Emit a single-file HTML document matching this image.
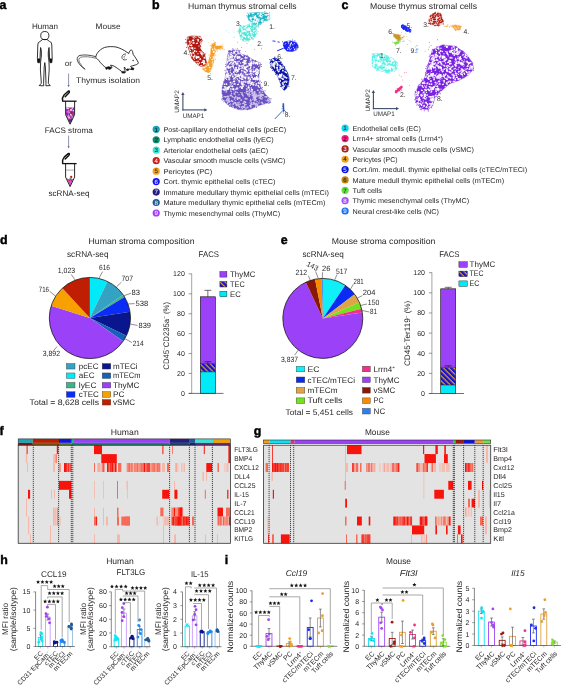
<!DOCTYPE html>
<html><head><meta charset="utf-8"><style>
html,body{margin:0;padding:0;background:#fff;width:561px;height:685px;overflow:hidden}
svg{display:block;font-family:"Liberation Sans",sans-serif;text-rendering:geometricPrecision;will-change:transform}
</style></head><body>
<svg width="561" height="685" viewBox="0 0 561 685" fill="#231f20">
<text x="-0.5" y="8.7" font-size="12.4" font-weight="bold" fill="#000" stroke="#000" stroke-width="0.45">a</text>
<text x="32" y="29.2" font-size="8" textLength="26" lengthAdjust="spacingAndGlyphs" >Human</text>
<text x="95.6" y="29.2" font-size="8" textLength="25" lengthAdjust="spacingAndGlyphs" >Mouse</text>
<text x="64.8" y="65.6" font-size="8" textLength="7.2" lengthAdjust="spacingAndGlyphs" >or</text>
<text x="76" y="82.6" font-size="8" textLength="64" lengthAdjust="spacingAndGlyphs" >Thymus isolation</text>
<text x="44.8" y="132.9" font-size="8" textLength="48" lengthAdjust="spacingAndGlyphs" >FACS stroma</text>
<text x="48.5" y="196.1" font-size="8" textLength="41" lengthAdjust="spacingAndGlyphs" >scRNA-seq</text>
<circle cx="44.8" cy="35.6" r="4.1" fill="none" stroke="#111" stroke-width="0.85"/>
<polygon points="42.6,39.5 40,41.5 38.3,42.6 37.8,45 37.6,52 37.4,58.5 37.8,62.6 39.4,62.8 40,60 40.2,53 40.6,47.5 41.3,52 41.2,57 40.6,62 40.4,70 41,78 41.3,83.3 39.2,85.6 43.7,85.8 43.6,83.3 43.9,75 44.2,67 44.8,62.6 45.4,67 45.7,75 46,83.3 45.9,85.8 50.2,85.6 48.3,83.3 48.6,78 49.2,70 49,62 48.4,57 48.3,52 49,47.5 49.4,53 49.6,60 50.2,62.8 51.8,62.6 52.2,58.5 52,52 51.8,45 51.3,42.6 49.6,41.5 47,39.5" fill="none" stroke="#111" stroke-width="0.85" stroke-linejoin="round"/>
<path d="M37.4 58.6 L37.8 62.6 L39.4 62.8 L40.0 60 L40.0 58.6 Z" fill="#111" stroke="none" stroke-width="0.6" />
<path d="M52.2 58.6 L51.8 62.6 L50.2 62.8 L49.6 60 L49.6 58.6 Z" fill="#111" stroke="none" stroke-width="0.6" />
<line x1="41" y1="48.5" x2="41.3" y2="56.5" stroke="#333" stroke-width="0.6" />
<line x1="48.6" y1="48.5" x2="48.3" y2="56.5" stroke="#333" stroke-width="0.6" />
<path d="M95.7 57.4 C96 54.5 98.5 50 104.4 47.5 C108 46.3 113.2 46.5 116 47 C119.5 47.8 123.5 49.8 127.0 52.3 L128.8 53.6 C129.2 51.5 130.2 50.2 131.3 49.8 C132.3 50.5 133.0 52.5 133.1 54.3 C135 57 137.2 60 138.3 62.6 C138.5 63.6 137.2 64.4 135.6 64.9 C133.5 65.5 131.8 66 130.6 66.4 L131.5 67.7 L133.8 68.4 L133.3 69.7 L130.8 69.4 L128.4 69.0 L128.2 70.4 L126.3 70.0 C125.5 68.8 124.8 67.5 124.4 67.0 C124.0 68.5 124.5 70.5 125.7 71.4 L125.0 72.8 L122.2 72.9 L121.8 71.5 C119 69.5 116 67.3 114.4 66.3 C112.5 65.5 111 65.2 110.5 65.2 L111.8 67.5 L110.2 69.2 L107.6 68.6 L106.2 69.3 L105.8 67.5 C104 66.5 101 63.5 98.8 60.5 C97.8 59.3 96.6 58.3 95.7 57.4 Z" fill="none" stroke="#111" stroke-width="0.85" stroke-linejoin="round"/>
<path d="M95.7 56.7 C90 54.8 84 54.6 80 55.4 C77 56.2 76.5 59 78 62 C79.5 65 82.5 67.5 85.1 69.3" fill="none" stroke="#111" stroke-width="0.75" />
<path d="M95.8 58.3 C90 56.5 84.5 56.4 80.7 57.2 C78.5 58 78.4 60.2 79.6 62.6 C81 65.2 83 67.4 85.1 69.3" fill="none" stroke="#111" stroke-width="0.55" />
<path d="M126.0 54.0 C122.8 53.8 121.3 56.4 122.2 58.5 C123.0 60.0 125.0 60.3 126.8 59.4" fill="none" stroke="#111" stroke-width="0.7" />
<path d="M125.6 55.6 C124.0 55.8 123.6 57.4 124.4 58.4" fill="none" stroke="#111" stroke-width="0.5" />
<circle cx="133.1" cy="60.5" r="0.65" fill="#111"/>
<path d="M131.5 67.7 L133.8 68.4 L133.3 69.7 L130.8 69.4 Z" fill="#111" stroke="#111" stroke-width="0.4" />
<path d="M128.4 69.0 L128.2 70.4 L126.3 70.0 L127.2 68.8 Z" fill="#111" stroke="#111" stroke-width="0.4" />
<path d="M125.0 72.8 L122.2 72.9 L121.8 71.5 L124.6 71.2 Z" fill="#111" stroke="#111" stroke-width="0.4" />
<path d="M111.8 67.5 L110.2 69.2 L107.6 68.6 L106.2 69.3 L105.8 67.5 L108.5 66.6 Z" fill="#111" stroke="#111" stroke-width="0.4" />
<line x1="68.6" y1="73.5" x2="68.6" y2="85.7" stroke="#5b6b8c" stroke-width="0.7" />
<polygon points="67.5,85 69.7,85 68.6,87.2" fill="#5b6b8c" stroke="none" stroke-width="0" />
<line x1="68.6" y1="135.5" x2="68.6" y2="147" stroke="#5b6b8c" stroke-width="0.7" />
<polygon points="67.5,146.3 69.7,146.3 68.6,148.5" fill="#5b6b8c" stroke="none" stroke-width="0" />
<path d="M62.6 100.7 C62 98.2 63 96.2 64.2 94.7 L68.2 91.2 C69.4 90.4 69.8 91.8 68.8 93 L65.2 96.7" fill="none" stroke="#111" stroke-width="1.45" stroke-linecap="round" stroke-linejoin="round"/>
<line x1="62.3" y1="101.2" x2="76.6" y2="101.2" stroke="#111" stroke-width="1.3" />
<path d="M66 107.5 L74.2 107.5 L74.2 114.7 L70.1 123.7 L66 114.7 Z" fill="#8a2ad0" stroke="none" stroke-width="0.6" />
<circle cx="70.4" cy="110.97" r="0.73" fill="#e0208a"/>
<circle cx="70.87" cy="115.55" r="0.58" fill="#c01818"/>
<circle cx="72.39" cy="108.16" r="0.68" fill="#f8d8f8"/>
<circle cx="73.47" cy="110.93" r="0.79" fill="#5020a0"/>
<circle cx="70.01" cy="118.46" r="0.87" fill="#ff60d0"/>
<circle cx="71.02" cy="109.88" r="0.98" fill="#ffffff"/>
<circle cx="71.74" cy="114.54" r="0.89" fill="#30a050"/>
<circle cx="71.86" cy="108.8" r="0.85" fill="#f0a0e0"/>
<circle cx="66.91" cy="111.77" r="0.98" fill="#e0208a"/>
<circle cx="71.59" cy="113.91" r="0.99" fill="#c01818"/>
<circle cx="72.17" cy="116.93" r="0.75" fill="#f8d8f8"/>
<circle cx="69.88" cy="118.01" r="1.02" fill="#5020a0"/>
<circle cx="68.82" cy="118.99" r="0.62" fill="#ff60d0"/>
<circle cx="73.27" cy="110.71" r="0.77" fill="#ffffff"/>
<circle cx="68.94" cy="115.83" r="0.8" fill="#30a050"/>
<circle cx="69.09" cy="112.82" r="0.84" fill="#f0a0e0"/>
<circle cx="72.64" cy="115.3" r="0.89" fill="#e0208a"/>
<circle cx="71.05" cy="119.61" r="1.05" fill="#c01818"/>
<circle cx="68.29" cy="116.39" r="0.98" fill="#f8d8f8"/>
<circle cx="71.03" cy="120.06" r="0.83" fill="#5020a0"/>
<circle cx="68.68" cy="116.92" r="0.97" fill="#ff60d0"/>
<circle cx="68.72" cy="115.17" r="0.58" fill="#ffffff"/>
<circle cx="71.79" cy="118.67" r="0.59" fill="#30a050"/>
<circle cx="69.74" cy="118.01" r="0.63" fill="#f0a0e0"/>
<circle cx="71.93" cy="111.67" r="0.99" fill="#e0208a"/>
<circle cx="70.88" cy="108.55" r="0.57" fill="#c01818"/>
<circle cx="69.28" cy="116.98" r="0.99" fill="#f8d8f8"/>
<circle cx="70.11" cy="120.26" r="1.05" fill="#5020a0"/>
<circle cx="67.22" cy="111.87" r="0.85" fill="#ff60d0"/>
<circle cx="68.04" cy="108.39" r="0.75" fill="#ffffff"/>
<circle cx="68.03" cy="115.63" r="0.57" fill="#30a050"/>
<circle cx="69.48" cy="118.85" r="1.03" fill="#f0a0e0"/>
<circle cx="69.73" cy="119.21" r="0.78" fill="#e0208a"/>
<circle cx="71.08" cy="114.5" r="0.85" fill="#c01818"/>
<circle cx="70.89" cy="114.99" r="1.02" fill="#f8d8f8"/>
<circle cx="69.63" cy="114.34" r="0.91" fill="#5020a0"/>
<circle cx="68.75" cy="110.97" r="1.04" fill="#ff60d0"/>
<circle cx="70.43" cy="114.51" r="0.56" fill="#ffffff"/>
<circle cx="70.64" cy="113.19" r="0.56" fill="#30a050"/>
<circle cx="70.89" cy="115.7" r="0.58" fill="#f0a0e0"/>
<circle cx="69.9" cy="115.84" r="0.89" fill="#e0208a"/>
<circle cx="71.51" cy="112.41" r="0.92" fill="#c01818"/>
<circle cx="67.11" cy="108.28" r="0.89" fill="#f8d8f8"/>
<circle cx="69.53" cy="120.04" r="0.78" fill="#5020a0"/>
<path d="M65.6 101.2 L65.6 114.7 L70.1 124.2 L74.6 114.7 L74.6 101.2" fill="none" stroke="#111" stroke-width="0.9" stroke-linejoin="round"/>
<path d="M62.6 163.1 C62 160.6 63 158.6 64.2 157.1 L68.2 153.6 C69.4 152.8 69.8 154.2 68.8 155.4 L65.2 159.1" fill="none" stroke="#111" stroke-width="1.45" stroke-linecap="round" stroke-linejoin="round"/>
<line x1="62.3" y1="163.6" x2="76.6" y2="163.6" stroke="#111" stroke-width="1.3" />
<line x1="66" y1="170.1" x2="74.2" y2="170.1" stroke="#888" stroke-width="0.7" />
<path d="M67.0 179.1 L73.2 179.1 L70.1 186 Z" fill="#e048d0" stroke="none" stroke-width="0.6" />
<circle cx="71.2" cy="176.9" r="1.1" fill="#c01818"/>
<circle cx="70.2" cy="178.2" r="0.8" fill="#30a050"/>
<circle cx="68.6" cy="179.8" r="0.8" fill="#f060c0"/>
<circle cx="71.6" cy="180.6" r="0.7" fill="#8a2ad0"/>
<path d="M66.9 178.2 L69.3 181 L71.8 177.8" fill="none" stroke="#d01010" stroke-width="0.55" />
<path d="M65.6 163.6 L65.6 177.1 L70.1 186.6 L74.6 177.1 L74.6 163.6" fill="none" stroke="#111" stroke-width="0.9" stroke-linejoin="round"/>
<defs>
<pattern id="spk" width="41" height="41" patternUnits="userSpaceOnUse">
<circle cx="18.55" cy="22.95" r="0.86" fill="#fff" fill-opacity="0.9"/>
<circle cx="19.09" cy="20.82" r="0.67" fill="#fff" fill-opacity="0.9"/>
<circle cx="7.57" cy="20.99" r="0.7" fill="#fff" fill-opacity="0.9"/>
<circle cx="32.51" cy="3.86" r="0.52" fill="#fff" fill-opacity="0.9"/>
<circle cx="3.72" cy="33.2" r="0.73" fill="#fff" fill-opacity="0.9"/>
<circle cx="1.72" cy="40.27" r="0.88" fill="#fff" fill-opacity="0.9"/>
<circle cx="1.72" cy="-0.73" r="0.88" fill="#fff" fill-opacity="0.9"/>
<circle cx="26.81" cy="25.24" r="0.44" fill="#fff" fill-opacity="0.9"/>
<circle cx="0.62" cy="21.66" r="0.38" fill="#fff" fill-opacity="0.9"/>
<circle cx="7.8" cy="9.92" r="0.37" fill="#fff" fill-opacity="0.9"/>
<circle cx="19.02" cy="18.06" r="0.81" fill="#fff" fill-opacity="0.9"/>
<circle cx="21.28" cy="26.25" r="0.62" fill="#fff" fill-opacity="0.9"/>
<circle cx="27.16" cy="18.75" r="0.5" fill="#fff" fill-opacity="0.9"/>
<circle cx="40.9" cy="40.82" r="0.81" fill="#fff" fill-opacity="0.9"/>
<circle cx="-0.1" cy="-0.18" r="0.81" fill="#fff" fill-opacity="0.9"/>
<circle cx="-0.1" cy="40.82" r="0.81" fill="#fff" fill-opacity="0.9"/>
<circle cx="40.9" cy="-0.18" r="0.81" fill="#fff" fill-opacity="0.9"/>
<circle cx="29.02" cy="12.93" r="0.48" fill="#fff" fill-opacity="0.9"/>
<circle cx="11.85" cy="2.88" r="0.77" fill="#fff" fill-opacity="0.9"/>
<circle cx="16.42" cy="34.71" r="0.56" fill="#fff" fill-opacity="0.9"/>
<circle cx="39.28" cy="34.74" r="0.35" fill="#fff" fill-opacity="0.9"/>
<circle cx="8.6" cy="37.32" r="0.61" fill="#fff" fill-opacity="0.9"/>
<circle cx="40.19" cy="16.29" r="0.39" fill="#fff" fill-opacity="0.9"/>
<circle cx="25.81" cy="31.92" r="0.5" fill="#fff" fill-opacity="0.9"/>
<circle cx="3.57" cy="13.64" r="0.88" fill="#fff" fill-opacity="0.9"/>
<circle cx="31.08" cy="4.84" r="0.49" fill="#fff" fill-opacity="0.9"/>
<circle cx="4.14" cy="2.46" r="0.79" fill="#fff" fill-opacity="0.9"/>
<circle cx="7.28" cy="22.93" r="0.6" fill="#fff" fill-opacity="0.9"/>
<circle cx="7.82" cy="30.01" r="0.42" fill="#fff" fill-opacity="0.9"/>
<circle cx="26.39" cy="4.78" r="0.58" fill="#fff" fill-opacity="0.9"/>
<circle cx="8.73" cy="11.06" r="0.88" fill="#fff" fill-opacity="0.9"/>
<circle cx="32.94" cy="12.47" r="0.84" fill="#fff" fill-opacity="0.9"/>
<circle cx="8.64" cy="16.17" r="0.82" fill="#fff" fill-opacity="0.9"/>
<circle cx="26.32" cy="4.11" r="0.89" fill="#fff" fill-opacity="0.9"/>
<circle cx="8.74" cy="10.59" r="0.77" fill="#fff" fill-opacity="0.9"/>
<circle cx="13.49" cy="12.15" r="0.39" fill="#fff" fill-opacity="0.9"/>
<circle cx="3.69" cy="23.89" r="0.48" fill="#fff" fill-opacity="0.9"/>
<circle cx="24.65" cy="15.24" r="0.6" fill="#fff" fill-opacity="0.9"/>
<circle cx="39.32" cy="19.83" r="0.67" fill="#fff" fill-opacity="0.9"/>
<circle cx="35.53" cy="7.5" r="0.43" fill="#fff" fill-opacity="0.9"/>
<circle cx="37.25" cy="33.53" r="0.49" fill="#fff" fill-opacity="0.9"/>
<circle cx="7.78" cy="30.32" r="0.87" fill="#fff" fill-opacity="0.9"/>
<circle cx="8.06" cy="38.96" r="0.84" fill="#fff" fill-opacity="0.9"/>
<circle cx="24.74" cy="17.28" r="0.41" fill="#fff" fill-opacity="0.9"/>
<circle cx="1.59" cy="39.47" r="0.48" fill="#fff" fill-opacity="0.9"/>
<circle cx="28.89" cy="10.54" r="0.8" fill="#fff" fill-opacity="0.9"/>
<circle cx="24.46" cy="12.03" r="0.45" fill="#fff" fill-opacity="0.9"/>
<circle cx="29.53" cy="2.82" r="0.48" fill="#fff" fill-opacity="0.9"/>
<circle cx="22.93" cy="34.95" r="0.69" fill="#fff" fill-opacity="0.9"/>
<circle cx="11.49" cy="37.61" r="0.46" fill="#fff" fill-opacity="0.9"/>
<circle cx="0.68" cy="11.04" r="0.6" fill="#fff" fill-opacity="0.9"/>
<circle cx="2.48" cy="7.23" r="0.55" fill="#fff" fill-opacity="0.9"/>
<circle cx="23.46" cy="5.39" r="0.55" fill="#fff" fill-opacity="0.9"/>
<circle cx="36.53" cy="40.2" r="0.71" fill="#fff" fill-opacity="0.9"/>
<circle cx="28.34" cy="23.96" r="0.43" fill="#fff" fill-opacity="0.9"/>
<circle cx="1.44" cy="0.73" r="0.85" fill="#fff" fill-opacity="0.9"/>
<circle cx="1.44" cy="41.73" r="0.85" fill="#fff" fill-opacity="0.9"/>
<circle cx="28.74" cy="39.47" r="0.36" fill="#fff" fill-opacity="0.9"/>
<circle cx="26.08" cy="19.77" r="0.75" fill="#fff" fill-opacity="0.9"/>
<circle cx="13.08" cy="40.97" r="0.39" fill="#fff" fill-opacity="0.9"/>
<circle cx="13.08" cy="-0.03" r="0.39" fill="#fff" fill-opacity="0.9"/>
<circle cx="22.39" cy="30.22" r="0.85" fill="#fff" fill-opacity="0.9"/>
<circle cx="30.22" cy="28.85" r="0.79" fill="#fff" fill-opacity="0.9"/>
<circle cx="37.52" cy="14.43" r="0.73" fill="#fff" fill-opacity="0.9"/>
<circle cx="36.93" cy="35.72" r="0.58" fill="#fff" fill-opacity="0.9"/>
<circle cx="32.41" cy="35.4" r="0.67" fill="#fff" fill-opacity="0.9"/>
<circle cx="25.62" cy="15.68" r="0.67" fill="#fff" fill-opacity="0.9"/>
<circle cx="24.96" cy="3.29" r="0.7" fill="#fff" fill-opacity="0.9"/>
<circle cx="40.73" cy="36.07" r="0.75" fill="#fff" fill-opacity="0.9"/>
<circle cx="-0.27" cy="36.07" r="0.75" fill="#fff" fill-opacity="0.9"/>
<circle cx="15.93" cy="30.14" r="0.67" fill="#fff" fill-opacity="0.9"/>
<circle cx="18.06" cy="34.37" r="0.4" fill="#fff" fill-opacity="0.9"/>
<circle cx="30.76" cy="1.22" r="0.68" fill="#fff" fill-opacity="0.9"/>
<circle cx="19.72" cy="9.44" r="0.73" fill="#fff" fill-opacity="0.9"/>
<circle cx="20.39" cy="25.19" r="0.86" fill="#fff" fill-opacity="0.9"/>
<circle cx="10.49" cy="0.46" r="0.52" fill="#fff" fill-opacity="0.9"/>
<circle cx="10.49" cy="41.46" r="0.52" fill="#fff" fill-opacity="0.9"/>
<circle cx="27.8" cy="8.31" r="0.44" fill="#fff" fill-opacity="0.9"/>
<circle cx="37.13" cy="27.06" r="0.59" fill="#fff" fill-opacity="0.9"/>
<circle cx="36.56" cy="13.41" r="0.72" fill="#fff" fill-opacity="0.9"/>
<circle cx="8.14" cy="17.67" r="0.79" fill="#fff" fill-opacity="0.9"/>
<circle cx="37.48" cy="36.09" r="0.56" fill="#fff" fill-opacity="0.9"/>
<circle cx="23.91" cy="12.98" r="0.42" fill="#fff" fill-opacity="0.9"/>
<circle cx="20.36" cy="34.32" r="0.82" fill="#fff" fill-opacity="0.9"/>
<circle cx="29.16" cy="38.95" r="0.5" fill="#fff" fill-opacity="0.9"/>
<circle cx="6.93" cy="18.48" r="0.5" fill="#fff" fill-opacity="0.9"/>
<circle cx="8.78" cy="16.97" r="0.69" fill="#fff" fill-opacity="0.9"/>
<circle cx="20.25" cy="12.93" r="0.81" fill="#fff" fill-opacity="0.9"/>
<circle cx="40.26" cy="18.55" r="0.39" fill="#fff" fill-opacity="0.9"/>
<circle cx="1.29" cy="35.79" r="0.37" fill="#fff" fill-opacity="0.9"/>
<circle cx="29.05" cy="23.39" r="0.52" fill="#fff" fill-opacity="0.9"/>
<circle cx="32.45" cy="0.78" r="0.42" fill="#fff" fill-opacity="0.9"/>
<circle cx="18.65" cy="1.01" r="0.81" fill="#fff" fill-opacity="0.9"/>
<circle cx="9.73" cy="5.78" r="0.38" fill="#fff" fill-opacity="0.9"/>
<circle cx="25.8" cy="18.31" r="0.7" fill="#fff" fill-opacity="0.9"/>
<circle cx="26.86" cy="33.1" r="0.88" fill="#fff" fill-opacity="0.9"/>
<circle cx="28.06" cy="8.17" r="0.61" fill="#fff" fill-opacity="0.9"/>
<circle cx="7.33" cy="0.44" r="0.61" fill="#fff" fill-opacity="0.9"/>
<circle cx="7.33" cy="41.44" r="0.61" fill="#fff" fill-opacity="0.9"/>
<circle cx="29.28" cy="7.34" r="0.5" fill="#fff" fill-opacity="0.9"/>
<circle cx="14.18" cy="28.59" r="0.64" fill="#fff" fill-opacity="0.9"/>
<circle cx="25.19" cy="31" r="0.57" fill="#fff" fill-opacity="0.9"/>
<circle cx="32.47" cy="37.16" r="0.4" fill="#fff" fill-opacity="0.9"/>
<circle cx="38.24" cy="29.62" r="0.42" fill="#fff" fill-opacity="0.9"/>
<circle cx="18.59" cy="25.65" r="0.85" fill="#fff" fill-opacity="0.9"/>
<circle cx="15.45" cy="23.32" r="0.83" fill="#fff" fill-opacity="0.9"/>
<circle cx="32.67" cy="38.71" r="0.61" fill="#fff" fill-opacity="0.9"/>
<circle cx="26.7" cy="8.4" r="0.75" fill="#fff" fill-opacity="0.9"/>
<circle cx="33.55" cy="26.31" r="0.74" fill="#fff" fill-opacity="0.9"/>
<circle cx="8.75" cy="36.9" r="0.89" fill="#fff" fill-opacity="0.9"/>
<circle cx="40.07" cy="22.02" r="0.78" fill="#fff" fill-opacity="0.9"/>
<circle cx="13.14" cy="37.31" r="0.82" fill="#fff" fill-opacity="0.9"/>
<circle cx="14.29" cy="3.39" r="0.59" fill="#fff" fill-opacity="0.9"/>
<circle cx="22.56" cy="31.5" r="0.62" fill="#fff" fill-opacity="0.9"/>
<circle cx="1.16" cy="33.17" r="0.39" fill="#fff" fill-opacity="0.9"/>
<circle cx="32.79" cy="7.09" r="0.53" fill="#fff" fill-opacity="0.9"/>
<circle cx="32.3" cy="5.76" r="0.43" fill="#fff" fill-opacity="0.9"/>
<circle cx="21.18" cy="29.67" r="0.81" fill="#fff" fill-opacity="0.9"/>
<circle cx="28.26" cy="38.78" r="0.62" fill="#fff" fill-opacity="0.9"/>
<circle cx="38.92" cy="3.53" r="0.47" fill="#fff" fill-opacity="0.9"/>
<circle cx="21.59" cy="11.9" r="0.75" fill="#fff" fill-opacity="0.9"/>
<circle cx="26.19" cy="21.43" r="0.81" fill="#fff" fill-opacity="0.9"/>
<circle cx="22.96" cy="12.78" r="0.56" fill="#fff" fill-opacity="0.9"/>
<circle cx="34.66" cy="36.92" r="0.46" fill="#fff" fill-opacity="0.9"/>
<circle cx="34.88" cy="39.71" r="0.64" fill="#fff" fill-opacity="0.9"/>
<circle cx="23.49" cy="8.24" r="0.64" fill="#fff" fill-opacity="0.9"/>
<circle cx="20.63" cy="24.81" r="0.37" fill="#fff" fill-opacity="0.9"/>
<circle cx="39.75" cy="21.16" r="0.57" fill="#fff" fill-opacity="0.9"/>
<circle cx="32.84" cy="23.08" r="0.62" fill="#fff" fill-opacity="0.9"/>
<circle cx="28.33" cy="2.7" r="0.65" fill="#fff" fill-opacity="0.9"/>
<circle cx="16.96" cy="39.23" r="0.86" fill="#fff" fill-opacity="0.9"/>
<circle cx="11.04" cy="19.4" r="0.42" fill="#fff" fill-opacity="0.9"/>
<circle cx="17.78" cy="33.44" r="0.85" fill="#fff" fill-opacity="0.9"/>
<circle cx="19.54" cy="13.01" r="0.46" fill="#fff" fill-opacity="0.9"/>
<circle cx="25.33" cy="37.94" r="0.42" fill="#fff" fill-opacity="0.9"/>
<circle cx="31.95" cy="0.93" r="0.46" fill="#fff" fill-opacity="0.9"/>
<circle cx="9.32" cy="28.17" r="0.53" fill="#fff" fill-opacity="0.9"/>
<circle cx="14.57" cy="25.41" r="0.41" fill="#fff" fill-opacity="0.9"/>
<circle cx="29.97" cy="5.03" r="0.63" fill="#fff" fill-opacity="0.9"/>
<circle cx="10.27" cy="8.11" r="0.64" fill="#fff" fill-opacity="0.9"/>
<circle cx="17.91" cy="15.41" r="0.58" fill="#fff" fill-opacity="0.9"/>
<circle cx="21.7" cy="6.55" r="0.46" fill="#fff" fill-opacity="0.9"/>
<circle cx="25.88" cy="26.18" r="0.64" fill="#fff" fill-opacity="0.9"/>
<circle cx="34.9" cy="25.08" r="0.82" fill="#fff" fill-opacity="0.9"/>
<circle cx="9.54" cy="30.37" r="0.8" fill="#fff" fill-opacity="0.9"/>
<circle cx="37.01" cy="12.95" r="0.52" fill="#fff" fill-opacity="0.9"/>
<circle cx="37.83" cy="8.94" r="0.9" fill="#fff" fill-opacity="0.9"/>
<circle cx="36.39" cy="5.49" r="0.48" fill="#fff" fill-opacity="0.9"/>
<circle cx="29.79" cy="10.64" r="0.4" fill="#fff" fill-opacity="0.9"/>
<circle cx="34.12" cy="17.29" r="0.78" fill="#fff" fill-opacity="0.9"/>
<circle cx="5.17" cy="16.51" r="0.73" fill="#fff" fill-opacity="0.9"/>
<circle cx="0.73" cy="8.24" r="0.73" fill="#fff" fill-opacity="0.9"/>
<circle cx="37.37" cy="39.7" r="0.41" fill="#fff" fill-opacity="0.9"/>
<circle cx="20.73" cy="31.08" r="0.63" fill="#fff" fill-opacity="0.9"/>
<circle cx="28.11" cy="7.75" r="0.39" fill="#fff" fill-opacity="0.9"/>
<circle cx="4.35" cy="1.53" r="0.65" fill="#fff" fill-opacity="0.9"/>
<circle cx="21.11" cy="23.32" r="0.43" fill="#fff" fill-opacity="0.9"/>
<circle cx="7.57" cy="8.36" r="0.81" fill="#fff" fill-opacity="0.9"/>
<circle cx="40.6" cy="38" r="0.4" fill="#fff" fill-opacity="0.9"/>
<circle cx="-0.4" cy="38" r="0.4" fill="#fff" fill-opacity="0.9"/>
<circle cx="2.54" cy="39.01" r="0.6" fill="#fff" fill-opacity="0.9"/>
<circle cx="31.35" cy="13.4" r="0.61" fill="#fff" fill-opacity="0.9"/>
<circle cx="21.13" cy="17.63" r="0.68" fill="#fff" fill-opacity="0.9"/>
<circle cx="0.54" cy="28.74" r="0.81" fill="#fff" fill-opacity="0.9"/>
<circle cx="41.54" cy="28.74" r="0.81" fill="#fff" fill-opacity="0.9"/>
<circle cx="7.43" cy="18.61" r="0.76" fill="#fff" fill-opacity="0.9"/>
<circle cx="16.62" cy="8" r="0.44" fill="#fff" fill-opacity="0.9"/>
<circle cx="21.01" cy="0.63" r="0.84" fill="#fff" fill-opacity="0.9"/>
<circle cx="21.01" cy="41.63" r="0.84" fill="#fff" fill-opacity="0.9"/>
<circle cx="32.87" cy="28.89" r="0.82" fill="#fff" fill-opacity="0.9"/>
<circle cx="25.8" cy="16.58" r="0.68" fill="#fff" fill-opacity="0.9"/>
<circle cx="20.68" cy="40.29" r="0.79" fill="#fff" fill-opacity="0.9"/>
<circle cx="20.68" cy="-0.71" r="0.79" fill="#fff" fill-opacity="0.9"/>
<circle cx="10.59" cy="37.36" r="0.76" fill="#fff" fill-opacity="0.9"/>
<circle cx="31.9" cy="33.4" r="0.57" fill="#fff" fill-opacity="0.9"/>
<circle cx="36.76" cy="36.07" r="0.73" fill="#fff" fill-opacity="0.9"/>
<circle cx="31.46" cy="31.37" r="0.57" fill="#fff" fill-opacity="0.9"/>
<circle cx="29.63" cy="2.89" r="0.54" fill="#fff" fill-opacity="0.9"/>
<circle cx="19.22" cy="0.43" r="0.55" fill="#fff" fill-opacity="0.9"/>
<circle cx="19.22" cy="41.43" r="0.55" fill="#fff" fill-opacity="0.9"/>
<circle cx="26.19" cy="25.58" r="0.48" fill="#fff" fill-opacity="0.9"/>
<circle cx="38.73" cy="27.31" r="0.54" fill="#fff" fill-opacity="0.9"/>
<circle cx="27.05" cy="23.35" r="0.64" fill="#fff" fill-opacity="0.9"/>
<circle cx="15.97" cy="41" r="0.7" fill="#fff" fill-opacity="0.9"/>
<circle cx="15.97" cy="-0" r="0.7" fill="#fff" fill-opacity="0.9"/>
<circle cx="28.75" cy="31.23" r="0.89" fill="#fff" fill-opacity="0.9"/>
<circle cx="0.94" cy="25.23" r="0.76" fill="#fff" fill-opacity="0.9"/>
<circle cx="10.52" cy="16.46" r="0.38" fill="#fff" fill-opacity="0.9"/>
<circle cx="8.01" cy="15.4" r="0.4" fill="#fff" fill-opacity="0.9"/>
<circle cx="10.29" cy="37.13" r="0.65" fill="#fff" fill-opacity="0.9"/>
<circle cx="20.82" cy="39.65" r="0.66" fill="#fff" fill-opacity="0.9"/>
<circle cx="40.8" cy="26.16" r="0.8" fill="#fff" fill-opacity="0.9"/>
<circle cx="-0.2" cy="26.16" r="0.8" fill="#fff" fill-opacity="0.9"/>
<circle cx="3.12" cy="24.5" r="0.77" fill="#fff" fill-opacity="0.9"/>
<circle cx="1.85" cy="38.14" r="0.44" fill="#fff" fill-opacity="0.9"/>
<circle cx="19.34" cy="6.93" r="0.62" fill="#fff" fill-opacity="0.9"/>
<circle cx="25.06" cy="2.4" r="0.87" fill="#fff" fill-opacity="0.9"/>
<circle cx="17.25" cy="21.6" r="0.68" fill="#fff" fill-opacity="0.9"/>
<circle cx="14.99" cy="11.72" r="0.71" fill="#fff" fill-opacity="0.9"/>
<circle cx="22.99" cy="11.62" r="0.74" fill="#fff" fill-opacity="0.9"/>
<circle cx="12.14" cy="0.57" r="0.48" fill="#fff" fill-opacity="0.9"/>
<circle cx="1.75" cy="6.42" r="0.77" fill="#fff" fill-opacity="0.9"/>
<circle cx="15.99" cy="36.8" r="0.76" fill="#fff" fill-opacity="0.9"/>
<circle cx="2.06" cy="40.54" r="0.87" fill="#fff" fill-opacity="0.9"/>
<circle cx="2.06" cy="-0.46" r="0.87" fill="#fff" fill-opacity="0.9"/>
<circle cx="3.01" cy="37.13" r="0.59" fill="#fff" fill-opacity="0.9"/>
<circle cx="19.58" cy="39.9" r="0.48" fill="#fff" fill-opacity="0.9"/>
<circle cx="21.46" cy="38.43" r="0.75" fill="#fff" fill-opacity="0.9"/>
<circle cx="19.2" cy="40.13" r="0.8" fill="#fff" fill-opacity="0.9"/>
<circle cx="24.75" cy="4.72" r="0.69" fill="#fff" fill-opacity="0.9"/>
<circle cx="18.68" cy="8.35" r="0.38" fill="#fff" fill-opacity="0.9"/>
<circle cx="21.65" cy="5.1" r="0.59" fill="#fff" fill-opacity="0.9"/>
<circle cx="27.38" cy="18.68" r="0.49" fill="#fff" fill-opacity="0.9"/>
<circle cx="23.87" cy="17.2" r="0.78" fill="#fff" fill-opacity="0.9"/>
<circle cx="21.76" cy="40.9" r="0.87" fill="#fff" fill-opacity="0.9"/>
<circle cx="21.76" cy="-0.1" r="0.87" fill="#fff" fill-opacity="0.9"/>
<circle cx="30.11" cy="9.77" r="0.41" fill="#fff" fill-opacity="0.9"/>
<circle cx="36.6" cy="32.16" r="0.69" fill="#fff" fill-opacity="0.9"/>
<circle cx="14.73" cy="11.13" r="0.73" fill="#fff" fill-opacity="0.9"/>
<circle cx="23.16" cy="24.26" r="0.7" fill="#fff" fill-opacity="0.9"/>
<circle cx="30.89" cy="7.78" r="0.49" fill="#fff" fill-opacity="0.9"/>
<circle cx="40.17" cy="37.54" r="0.83" fill="#fff" fill-opacity="0.9"/>
<circle cx="-0.83" cy="37.54" r="0.83" fill="#fff" fill-opacity="0.9"/>
<circle cx="1.62" cy="2.49" r="0.5" fill="#fff" fill-opacity="0.9"/>
<circle cx="17.43" cy="25.56" r="0.41" fill="#fff" fill-opacity="0.9"/>
<circle cx="22.21" cy="2.97" r="0.4" fill="#fff" fill-opacity="0.9"/>
<circle cx="27.73" cy="22.58" r="0.7" fill="#fff" fill-opacity="0.9"/>
<circle cx="15.3" cy="19.62" r="0.47" fill="#fff" fill-opacity="0.9"/>
<circle cx="14.09" cy="30.54" r="0.81" fill="#fff" fill-opacity="0.9"/>
<circle cx="3.05" cy="4.91" r="0.8" fill="#fff" fill-opacity="0.9"/>
<circle cx="25.57" cy="31.52" r="0.47" fill="#fff" fill-opacity="0.9"/>
<circle cx="17.4" cy="10.58" r="0.8" fill="#fff" fill-opacity="0.9"/>
<circle cx="15.13" cy="26.8" r="0.89" fill="#fff" fill-opacity="0.9"/>
<circle cx="13.34" cy="22.49" r="0.76" fill="#fff" fill-opacity="0.9"/>
<circle cx="37.75" cy="17.53" r="0.55" fill="#fff" fill-opacity="0.9"/>
<circle cx="3.98" cy="35.88" r="0.39" fill="#fff" fill-opacity="0.9"/>
<circle cx="3.4" cy="23.13" r="0.62" fill="#fff" fill-opacity="0.9"/>
<circle cx="28.1" cy="12.25" r="0.78" fill="#fff" fill-opacity="0.9"/>
<circle cx="3.12" cy="8.74" r="0.71" fill="#fff" fill-opacity="0.9"/>
<circle cx="3.35" cy="12.46" r="0.75" fill="#fff" fill-opacity="0.9"/>
<circle cx="28.45" cy="11.6" r="0.43" fill="#fff" fill-opacity="0.9"/>
<circle cx="14.67" cy="29.77" r="0.55" fill="#fff" fill-opacity="0.9"/>
<circle cx="4.81" cy="29.08" r="0.66" fill="#fff" fill-opacity="0.9"/>
<circle cx="37.66" cy="38.54" r="0.85" fill="#fff" fill-opacity="0.9"/>
<circle cx="17.96" cy="32.93" r="0.52" fill="#fff" fill-opacity="0.9"/>
<circle cx="13.02" cy="16.38" r="0.86" fill="#fff" fill-opacity="0.9"/>
<circle cx="36.68" cy="10.18" r="0.55" fill="#fff" fill-opacity="0.9"/>
<circle cx="14.99" cy="14.9" r="0.57" fill="#fff" fill-opacity="0.9"/>
<circle cx="15.89" cy="7.99" r="0.66" fill="#fff" fill-opacity="0.9"/>
<circle cx="32.68" cy="22.16" r="0.81" fill="#fff" fill-opacity="0.9"/>
<circle cx="23.07" cy="7.24" r="0.77" fill="#fff" fill-opacity="0.9"/>
<circle cx="36.12" cy="11.54" r="0.36" fill="#fff" fill-opacity="0.9"/>
<circle cx="21.14" cy="22.31" r="0.66" fill="#fff" fill-opacity="0.9"/>
<circle cx="39.62" cy="26.7" r="0.79" fill="#fff" fill-opacity="0.9"/>
<circle cx="2.63" cy="22.42" r="0.78" fill="#fff" fill-opacity="0.9"/>
<circle cx="3.45" cy="3.35" r="0.76" fill="#fff" fill-opacity="0.9"/>
<circle cx="36.86" cy="3.47" r="0.7" fill="#fff" fill-opacity="0.9"/>
<circle cx="5.9" cy="30.58" r="0.71" fill="#fff" fill-opacity="0.9"/>
<circle cx="10.06" cy="9.04" r="0.77" fill="#fff" fill-opacity="0.9"/>
<circle cx="21.38" cy="31.35" r="0.57" fill="#fff" fill-opacity="0.9"/>
<circle cx="13.85" cy="39.7" r="0.72" fill="#fff" fill-opacity="0.9"/>
<circle cx="20.24" cy="22.03" r="0.75" fill="#fff" fill-opacity="0.9"/>
<circle cx="29.03" cy="37.51" r="0.58" fill="#fff" fill-opacity="0.9"/>
<circle cx="33.88" cy="27.34" r="0.82" fill="#fff" fill-opacity="0.9"/>
<circle cx="33.04" cy="34.19" r="0.84" fill="#fff" fill-opacity="0.9"/>
<circle cx="39.27" cy="26.25" r="0.64" fill="#fff" fill-opacity="0.9"/>
<circle cx="29.11" cy="32.89" r="0.58" fill="#fff" fill-opacity="0.9"/>
<circle cx="17.24" cy="5.99" r="0.76" fill="#fff" fill-opacity="0.9"/>
<circle cx="40.63" cy="15.4" r="0.44" fill="#fff" fill-opacity="0.9"/>
<circle cx="-0.37" cy="15.4" r="0.44" fill="#fff" fill-opacity="0.9"/>
<circle cx="8.38" cy="17.42" r="0.51" fill="#fff" fill-opacity="0.9"/>
<circle cx="39.76" cy="2.43" r="0.52" fill="#fff" fill-opacity="0.9"/>
<circle cx="4.71" cy="26.57" r="0.78" fill="#fff" fill-opacity="0.9"/>
<circle cx="7.36" cy="2.56" r="0.6" fill="#fff" fill-opacity="0.9"/>
<circle cx="23.95" cy="37.28" r="0.37" fill="#fff" fill-opacity="0.9"/>
<circle cx="4.46" cy="7.57" r="0.47" fill="#fff" fill-opacity="0.9"/>
<circle cx="9.65" cy="29.41" r="0.68" fill="#fff" fill-opacity="0.9"/>
<circle cx="9.18" cy="7.58" r="0.5" fill="#fff" fill-opacity="0.9"/>
<circle cx="7.07" cy="31.06" r="0.52" fill="#fff" fill-opacity="0.9"/>
<circle cx="22.48" cy="33.5" r="0.61" fill="#fff" fill-opacity="0.9"/>
<circle cx="10.68" cy="36.38" r="0.85" fill="#fff" fill-opacity="0.9"/>
<circle cx="14.03" cy="22.44" r="0.88" fill="#fff" fill-opacity="0.9"/>
<circle cx="19.79" cy="9.06" r="0.38" fill="#fff" fill-opacity="0.9"/>
<circle cx="38.85" cy="32.86" r="0.56" fill="#fff" fill-opacity="0.9"/>
<circle cx="21.63" cy="21.15" r="0.5" fill="#fff" fill-opacity="0.9"/>
<circle cx="40.6" cy="26.96" r="0.48" fill="#fff" fill-opacity="0.9"/>
<circle cx="-0.4" cy="26.96" r="0.48" fill="#fff" fill-opacity="0.9"/>
<circle cx="0.45" cy="19.38" r="0.55" fill="#fff" fill-opacity="0.9"/>
<circle cx="41.45" cy="19.38" r="0.55" fill="#fff" fill-opacity="0.9"/>
<circle cx="32.67" cy="29.24" r="0.68" fill="#fff" fill-opacity="0.9"/>
<circle cx="6.45" cy="6.43" r="0.53" fill="#fff" fill-opacity="0.9"/>
<circle cx="10.64" cy="35.64" r="0.63" fill="#fff" fill-opacity="0.9"/>
<circle cx="26.12" cy="40.72" r="0.5" fill="#fff" fill-opacity="0.9"/>
<circle cx="26.12" cy="-0.28" r="0.5" fill="#fff" fill-opacity="0.9"/>
<circle cx="21.92" cy="6.18" r="0.77" fill="#fff" fill-opacity="0.9"/>
<circle cx="0.06" cy="33.68" r="0.82" fill="#fff" fill-opacity="0.9"/>
<circle cx="41.06" cy="33.68" r="0.82" fill="#fff" fill-opacity="0.9"/>
<circle cx="33.71" cy="3.38" r="0.5" fill="#fff" fill-opacity="0.9"/>
<circle cx="29.38" cy="3.98" r="0.61" fill="#fff" fill-opacity="0.9"/>
<circle cx="19.22" cy="39.18" r="0.67" fill="#fff" fill-opacity="0.9"/>
<circle cx="35.15" cy="12.45" r="0.78" fill="#fff" fill-opacity="0.9"/>
<circle cx="17.1" cy="37.59" r="0.4" fill="#fff" fill-opacity="0.9"/>
<circle cx="33.88" cy="8.54" r="0.65" fill="#fff" fill-opacity="0.9"/>
<circle cx="21.55" cy="6.46" r="0.81" fill="#fff" fill-opacity="0.9"/>
<circle cx="12.77" cy="12.74" r="0.39" fill="#fff" fill-opacity="0.9"/>
<circle cx="12.53" cy="19.16" r="0.74" fill="#fff" fill-opacity="0.9"/>
<circle cx="14.75" cy="28.17" r="0.41" fill="#fff" fill-opacity="0.9"/>
<circle cx="16.16" cy="18.93" r="0.88" fill="#fff" fill-opacity="0.9"/>
<circle cx="34.02" cy="26.81" r="0.36" fill="#fff" fill-opacity="0.9"/>
<circle cx="15.46" cy="29.11" r="0.48" fill="#fff" fill-opacity="0.9"/>
<circle cx="23.13" cy="18.78" r="0.36" fill="#fff" fill-opacity="0.9"/>
<circle cx="40.66" cy="32.78" r="0.46" fill="#fff" fill-opacity="0.9"/>
<circle cx="-0.34" cy="32.78" r="0.46" fill="#fff" fill-opacity="0.9"/>
<circle cx="25.26" cy="11.91" r="0.56" fill="#fff" fill-opacity="0.9"/>
<circle cx="22.13" cy="12.23" r="0.54" fill="#fff" fill-opacity="0.9"/>
<circle cx="16.08" cy="27.33" r="0.49" fill="#fff" fill-opacity="0.9"/>
<circle cx="8.2" cy="29.99" r="0.53" fill="#fff" fill-opacity="0.9"/>
<circle cx="38.75" cy="23.08" r="0.75" fill="#fff" fill-opacity="0.9"/>
<circle cx="13.6" cy="33.9" r="0.4" fill="#fff" fill-opacity="0.9"/>
<circle cx="5.77" cy="3.87" r="0.72" fill="#fff" fill-opacity="0.9"/>
<circle cx="29.04" cy="7.37" r="0.57" fill="#fff" fill-opacity="0.9"/>
<circle cx="34.31" cy="24.3" r="0.4" fill="#fff" fill-opacity="0.9"/>
<circle cx="9.29" cy="6.44" r="0.42" fill="#fff" fill-opacity="0.9"/>
<circle cx="16.68" cy="2.98" r="0.86" fill="#fff" fill-opacity="0.9"/>
<circle cx="17.51" cy="20.97" r="0.71" fill="#fff" fill-opacity="0.9"/>
</pattern>
<pattern id="spk2" width="41" height="41" patternUnits="userSpaceOnUse">
<circle cx="19.46" cy="26.96" r="0.8" fill="#fff" fill-opacity="0.95"/>
<circle cx="5.85" cy="0.45" r="0.62" fill="#fff" fill-opacity="0.95"/>
<circle cx="5.85" cy="41.45" r="0.62" fill="#fff" fill-opacity="0.95"/>
<circle cx="11.24" cy="33.22" r="0.81" fill="#fff" fill-opacity="0.95"/>
<circle cx="24.66" cy="22.89" r="0.8" fill="#fff" fill-opacity="0.95"/>
<circle cx="5.96" cy="18.04" r="0.5" fill="#fff" fill-opacity="0.95"/>
<circle cx="37.14" cy="2.41" r="0.89" fill="#fff" fill-opacity="0.95"/>
<circle cx="3.06" cy="28.16" r="0.6" fill="#fff" fill-opacity="0.95"/>
<circle cx="16.59" cy="34.54" r="0.41" fill="#fff" fill-opacity="0.95"/>
<circle cx="2.49" cy="37.52" r="0.71" fill="#fff" fill-opacity="0.95"/>
<circle cx="3.73" cy="40.47" r="0.97" fill="#fff" fill-opacity="0.95"/>
<circle cx="3.73" cy="-0.53" r="0.97" fill="#fff" fill-opacity="0.95"/>
<circle cx="4.61" cy="17.35" r="0.48" fill="#fff" fill-opacity="0.95"/>
<circle cx="12.81" cy="25.48" r="0.5" fill="#fff" fill-opacity="0.95"/>
<circle cx="28.57" cy="2.11" r="0.5" fill="#fff" fill-opacity="0.95"/>
<circle cx="33.44" cy="16.42" r="0.65" fill="#fff" fill-opacity="0.95"/>
<circle cx="24.43" cy="19.55" r="0.63" fill="#fff" fill-opacity="0.95"/>
<circle cx="1.25" cy="29.78" r="0.98" fill="#fff" fill-opacity="0.95"/>
<circle cx="40.03" cy="27.21" r="0.61" fill="#fff" fill-opacity="0.95"/>
<circle cx="14.89" cy="28.29" r="0.8" fill="#fff" fill-opacity="0.95"/>
<circle cx="4.67" cy="9.63" r="0.62" fill="#fff" fill-opacity="0.95"/>
<circle cx="20.97" cy="33.21" r="0.7" fill="#fff" fill-opacity="0.95"/>
<circle cx="1.15" cy="33.73" r="0.66" fill="#fff" fill-opacity="0.95"/>
<circle cx="21.28" cy="9.11" r="0.66" fill="#fff" fill-opacity="0.95"/>
<circle cx="15.92" cy="31.65" r="0.46" fill="#fff" fill-opacity="0.95"/>
<circle cx="22.55" cy="7.3" r="0.82" fill="#fff" fill-opacity="0.95"/>
<circle cx="1.51" cy="11.34" r="0.61" fill="#fff" fill-opacity="0.95"/>
<circle cx="26.11" cy="2.13" r="0.68" fill="#fff" fill-opacity="0.95"/>
<circle cx="8.56" cy="11.56" r="0.69" fill="#fff" fill-opacity="0.95"/>
<circle cx="39.31" cy="19.72" r="0.97" fill="#fff" fill-opacity="0.95"/>
<circle cx="6.87" cy="37.89" r="0.62" fill="#fff" fill-opacity="0.95"/>
<circle cx="7.76" cy="30.69" r="0.95" fill="#fff" fill-opacity="0.95"/>
<circle cx="0.27" cy="11" r="0.86" fill="#fff" fill-opacity="0.95"/>
<circle cx="41.27" cy="11" r="0.86" fill="#fff" fill-opacity="0.95"/>
<circle cx="14.01" cy="9.91" r="0.41" fill="#fff" fill-opacity="0.95"/>
<circle cx="1.64" cy="25.38" r="0.99" fill="#fff" fill-opacity="0.95"/>
<circle cx="40.94" cy="20.65" r="0.41" fill="#fff" fill-opacity="0.95"/>
<circle cx="-0.06" cy="20.65" r="0.41" fill="#fff" fill-opacity="0.95"/>
<circle cx="13.22" cy="32.28" r="0.9" fill="#fff" fill-opacity="0.95"/>
<circle cx="26.22" cy="9.41" r="0.72" fill="#fff" fill-opacity="0.95"/>
<circle cx="19.57" cy="25.71" r="0.56" fill="#fff" fill-opacity="0.95"/>
<circle cx="38.81" cy="36.67" r="0.5" fill="#fff" fill-opacity="0.95"/>
<circle cx="11.94" cy="35.8" r="0.57" fill="#fff" fill-opacity="0.95"/>
<circle cx="38.7" cy="21.12" r="0.82" fill="#fff" fill-opacity="0.95"/>
<circle cx="28.89" cy="8.78" r="0.57" fill="#fff" fill-opacity="0.95"/>
<circle cx="10.45" cy="28.02" r="0.82" fill="#fff" fill-opacity="0.95"/>
<circle cx="5.4" cy="36.34" r="0.65" fill="#fff" fill-opacity="0.95"/>
<circle cx="9.89" cy="17.85" r="0.99" fill="#fff" fill-opacity="0.95"/>
<circle cx="22.96" cy="25.61" r="0.95" fill="#fff" fill-opacity="0.95"/>
<circle cx="39.44" cy="31.18" r="0.65" fill="#fff" fill-opacity="0.95"/>
<circle cx="24.13" cy="36.94" r="0.87" fill="#fff" fill-opacity="0.95"/>
<circle cx="23.79" cy="14.25" r="0.62" fill="#fff" fill-opacity="0.95"/>
<circle cx="30.17" cy="23.1" r="0.41" fill="#fff" fill-opacity="0.95"/>
<circle cx="29.12" cy="37.06" r="0.88" fill="#fff" fill-opacity="0.95"/>
<circle cx="36.8" cy="37.33" r="0.72" fill="#fff" fill-opacity="0.95"/>
<circle cx="32.35" cy="15.56" r="0.46" fill="#fff" fill-opacity="0.95"/>
<circle cx="14.48" cy="12.8" r="0.96" fill="#fff" fill-opacity="0.95"/>
<circle cx="28.25" cy="22.21" r="0.77" fill="#fff" fill-opacity="0.95"/>
<circle cx="5.11" cy="21.9" r="0.82" fill="#fff" fill-opacity="0.95"/>
<circle cx="16.16" cy="10.08" r="0.64" fill="#fff" fill-opacity="0.95"/>
<circle cx="13.27" cy="28.1" r="0.49" fill="#fff" fill-opacity="0.95"/>
<circle cx="3.71" cy="12.81" r="0.82" fill="#fff" fill-opacity="0.95"/>
<circle cx="31.14" cy="27.04" r="0.96" fill="#fff" fill-opacity="0.95"/>
<circle cx="14.99" cy="1.22" r="0.69" fill="#fff" fill-opacity="0.95"/>
<circle cx="18.19" cy="7.35" r="0.8" fill="#fff" fill-opacity="0.95"/>
<circle cx="13.99" cy="9.77" r="0.6" fill="#fff" fill-opacity="0.95"/>
<circle cx="38.7" cy="0.32" r="0.62" fill="#fff" fill-opacity="0.95"/>
<circle cx="38.7" cy="41.32" r="0.62" fill="#fff" fill-opacity="0.95"/>
<circle cx="11.47" cy="8.25" r="0.66" fill="#fff" fill-opacity="0.95"/>
<circle cx="9.04" cy="37.67" r="0.7" fill="#fff" fill-opacity="0.95"/>
<circle cx="28.62" cy="6.66" r="0.68" fill="#fff" fill-opacity="0.95"/>
<circle cx="24.87" cy="34.56" r="0.55" fill="#fff" fill-opacity="0.95"/>
<circle cx="18.84" cy="35.05" r="0.9" fill="#fff" fill-opacity="0.95"/>
<circle cx="9.33" cy="22.06" r="0.86" fill="#fff" fill-opacity="0.95"/>
<circle cx="16.21" cy="27.61" r="0.8" fill="#fff" fill-opacity="0.95"/>
<circle cx="39.87" cy="22.71" r="0.81" fill="#fff" fill-opacity="0.95"/>
<circle cx="14.36" cy="30.02" r="0.59" fill="#fff" fill-opacity="0.95"/>
<circle cx="20.5" cy="14.79" r="0.58" fill="#fff" fill-opacity="0.95"/>
<circle cx="5.57" cy="9.25" r="0.73" fill="#fff" fill-opacity="0.95"/>
<circle cx="10.33" cy="1.88" r="0.88" fill="#fff" fill-opacity="0.95"/>
<circle cx="11.71" cy="38.38" r="0.76" fill="#fff" fill-opacity="0.95"/>
<circle cx="15.95" cy="35.8" r="0.94" fill="#fff" fill-opacity="0.95"/>
<circle cx="13.16" cy="5.16" r="0.78" fill="#fff" fill-opacity="0.95"/>
<circle cx="34.55" cy="24.95" r="0.87" fill="#fff" fill-opacity="0.95"/>
<circle cx="16.91" cy="25.33" r="0.56" fill="#fff" fill-opacity="0.95"/>
<circle cx="16.68" cy="15.57" r="0.63" fill="#fff" fill-opacity="0.95"/>
<circle cx="16.38" cy="33.09" r="0.5" fill="#fff" fill-opacity="0.95"/>
<circle cx="8.41" cy="10.44" r="0.98" fill="#fff" fill-opacity="0.95"/>
<circle cx="21.43" cy="2.17" r="0.9" fill="#fff" fill-opacity="0.95"/>
<circle cx="35.81" cy="33.67" r="0.62" fill="#fff" fill-opacity="0.95"/>
<circle cx="30.12" cy="12.53" r="0.48" fill="#fff" fill-opacity="0.95"/>
<circle cx="35.48" cy="34.15" r="0.53" fill="#fff" fill-opacity="0.95"/>
<circle cx="36.07" cy="1.01" r="0.59" fill="#fff" fill-opacity="0.95"/>
<circle cx="0.53" cy="7.01" r="0.5" fill="#fff" fill-opacity="0.95"/>
<circle cx="29.35" cy="12.16" r="0.51" fill="#fff" fill-opacity="0.95"/>
<circle cx="7.55" cy="12.79" r="0.92" fill="#fff" fill-opacity="0.95"/>
<circle cx="24.88" cy="4.2" r="0.81" fill="#fff" fill-opacity="0.95"/>
<circle cx="21.99" cy="18.39" r="0.72" fill="#fff" fill-opacity="0.95"/>
<circle cx="26.71" cy="32.83" r="0.7" fill="#fff" fill-opacity="0.95"/>
<circle cx="26.06" cy="19.16" r="0.78" fill="#fff" fill-opacity="0.95"/>
<circle cx="15.93" cy="17.01" r="0.71" fill="#fff" fill-opacity="0.95"/>
<circle cx="29.32" cy="11.42" r="0.95" fill="#fff" fill-opacity="0.95"/>
<circle cx="20.15" cy="35.08" r="0.81" fill="#fff" fill-opacity="0.95"/>
<circle cx="39.21" cy="27.98" r="0.66" fill="#fff" fill-opacity="0.95"/>
<circle cx="16.64" cy="24.91" r="0.85" fill="#fff" fill-opacity="0.95"/>
<circle cx="34.4" cy="5.3" r="0.44" fill="#fff" fill-opacity="0.95"/>
<circle cx="4.43" cy="3.45" r="0.43" fill="#fff" fill-opacity="0.95"/>
<circle cx="0.34" cy="10.23" r="0.47" fill="#fff" fill-opacity="0.95"/>
<circle cx="41.34" cy="10.23" r="0.47" fill="#fff" fill-opacity="0.95"/>
<circle cx="28.09" cy="25.25" r="0.98" fill="#fff" fill-opacity="0.95"/>
<circle cx="39.38" cy="30.62" r="0.97" fill="#fff" fill-opacity="0.95"/>
<circle cx="1.15" cy="9.35" r="0.96" fill="#fff" fill-opacity="0.95"/>
<circle cx="19.49" cy="8.47" r="0.85" fill="#fff" fill-opacity="0.95"/>
<circle cx="17.37" cy="22.27" r="0.59" fill="#fff" fill-opacity="0.95"/>
<circle cx="9.91" cy="3.57" r="0.76" fill="#fff" fill-opacity="0.95"/>
<circle cx="39.06" cy="40.46" r="0.86" fill="#fff" fill-opacity="0.95"/>
<circle cx="39.06" cy="-0.54" r="0.86" fill="#fff" fill-opacity="0.95"/>
<circle cx="38.27" cy="14.85" r="0.58" fill="#fff" fill-opacity="0.95"/>
<circle cx="37.86" cy="24.6" r="0.8" fill="#fff" fill-opacity="0.95"/>
<circle cx="0.51" cy="9.37" r="0.69" fill="#fff" fill-opacity="0.95"/>
<circle cx="41.51" cy="9.37" r="0.69" fill="#fff" fill-opacity="0.95"/>
<circle cx="29.97" cy="33.86" r="0.85" fill="#fff" fill-opacity="0.95"/>
<circle cx="13.93" cy="15.65" r="0.92" fill="#fff" fill-opacity="0.95"/>
<circle cx="40.57" cy="19.88" r="0.52" fill="#fff" fill-opacity="0.95"/>
<circle cx="-0.43" cy="19.88" r="0.52" fill="#fff" fill-opacity="0.95"/>
<circle cx="25.6" cy="21.97" r="0.62" fill="#fff" fill-opacity="0.95"/>
<circle cx="9.45" cy="15.8" r="0.77" fill="#fff" fill-opacity="0.95"/>
<circle cx="5.2" cy="22.18" r="0.97" fill="#fff" fill-opacity="0.95"/>
<circle cx="30.54" cy="10.34" r="0.65" fill="#fff" fill-opacity="0.95"/>
<circle cx="4.2" cy="30.22" r="0.78" fill="#fff" fill-opacity="0.95"/>
<circle cx="7.09" cy="22.47" r="0.76" fill="#fff" fill-opacity="0.95"/>
<circle cx="23.66" cy="15.51" r="0.59" fill="#fff" fill-opacity="0.95"/>
<circle cx="14.55" cy="40.9" r="0.6" fill="#fff" fill-opacity="0.95"/>
<circle cx="14.55" cy="-0.1" r="0.6" fill="#fff" fill-opacity="0.95"/>
<circle cx="20.6" cy="18.86" r="0.5" fill="#fff" fill-opacity="0.95"/>
<circle cx="16.39" cy="8.4" r="0.59" fill="#fff" fill-opacity="0.95"/>
<circle cx="15.05" cy="14.35" r="0.96" fill="#fff" fill-opacity="0.95"/>
<circle cx="12.17" cy="13.63" r="0.79" fill="#fff" fill-opacity="0.95"/>
<circle cx="16.29" cy="21.15" r="0.79" fill="#fff" fill-opacity="0.95"/>
<circle cx="3.02" cy="27.53" r="0.46" fill="#fff" fill-opacity="0.95"/>
<circle cx="10.26" cy="33.2" r="0.99" fill="#fff" fill-opacity="0.95"/>
<circle cx="27.62" cy="7.04" r="0.66" fill="#fff" fill-opacity="0.95"/>
<circle cx="11.59" cy="34.49" r="0.54" fill="#fff" fill-opacity="0.95"/>
<circle cx="8.05" cy="26.16" r="0.78" fill="#fff" fill-opacity="0.95"/>
<circle cx="24.18" cy="19.63" r="0.98" fill="#fff" fill-opacity="0.95"/>
<circle cx="18.8" cy="38.42" r="0.64" fill="#fff" fill-opacity="0.95"/>
<circle cx="19.08" cy="14.74" r="0.83" fill="#fff" fill-opacity="0.95"/>
<circle cx="30.81" cy="9.81" r="0.72" fill="#fff" fill-opacity="0.95"/>
<circle cx="29.79" cy="20.56" r="0.8" fill="#fff" fill-opacity="0.95"/>
<circle cx="25.26" cy="29.29" r="0.61" fill="#fff" fill-opacity="0.95"/>
<circle cx="12.57" cy="1.01" r="0.93" fill="#fff" fill-opacity="0.95"/>
<circle cx="32.38" cy="16" r="0.98" fill="#fff" fill-opacity="0.95"/>
<circle cx="37" cy="6.21" r="0.9" fill="#fff" fill-opacity="0.95"/>
<circle cx="17.25" cy="12.88" r="0.56" fill="#fff" fill-opacity="0.95"/>
<circle cx="16.97" cy="2.12" r="0.43" fill="#fff" fill-opacity="0.95"/>
<circle cx="4.79" cy="12.6" r="0.5" fill="#fff" fill-opacity="0.95"/>
<circle cx="5" cy="34.11" r="0.63" fill="#fff" fill-opacity="0.95"/>
<circle cx="20.1" cy="24.65" r="0.96" fill="#fff" fill-opacity="0.95"/>
<circle cx="5.99" cy="9.35" r="0.92" fill="#fff" fill-opacity="0.95"/>
<circle cx="37.3" cy="38.2" r="0.72" fill="#fff" fill-opacity="0.95"/>
<circle cx="15.05" cy="7.73" r="0.95" fill="#fff" fill-opacity="0.95"/>
<circle cx="31.38" cy="22.62" r="0.87" fill="#fff" fill-opacity="0.95"/>
<circle cx="10.69" cy="21.88" r="0.94" fill="#fff" fill-opacity="0.95"/>
<circle cx="4.45" cy="25.31" r="0.51" fill="#fff" fill-opacity="0.95"/>
<circle cx="34.35" cy="34.41" r="0.79" fill="#fff" fill-opacity="0.95"/>
<circle cx="17.87" cy="0.88" r="0.7" fill="#fff" fill-opacity="0.95"/>
<circle cx="14.73" cy="16.41" r="0.45" fill="#fff" fill-opacity="0.95"/>
<circle cx="37.73" cy="21.4" r="0.74" fill="#fff" fill-opacity="0.95"/>
<circle cx="34.53" cy="36.75" r="0.73" fill="#fff" fill-opacity="0.95"/>
<circle cx="22.3" cy="34.73" r="0.62" fill="#fff" fill-opacity="0.95"/>
<circle cx="36.92" cy="1" r="0.88" fill="#fff" fill-opacity="0.95"/>
<circle cx="21.64" cy="25.52" r="0.99" fill="#fff" fill-opacity="0.95"/>
<circle cx="9.01" cy="16.7" r="0.88" fill="#fff" fill-opacity="0.95"/>
<circle cx="30.62" cy="21.49" r="0.87" fill="#fff" fill-opacity="0.95"/>
<circle cx="27.77" cy="35.64" r="0.79" fill="#fff" fill-opacity="0.95"/>
<circle cx="14.89" cy="11.76" r="0.45" fill="#fff" fill-opacity="0.95"/>
<circle cx="5.06" cy="1.74" r="0.99" fill="#fff" fill-opacity="0.95"/>
<circle cx="5.77" cy="24.72" r="0.48" fill="#fff" fill-opacity="0.95"/>
<circle cx="39.61" cy="21.84" r="0.51" fill="#fff" fill-opacity="0.95"/>
<circle cx="33.89" cy="35.26" r="0.99" fill="#fff" fill-opacity="0.95"/>
<circle cx="9.16" cy="16.5" r="0.8" fill="#fff" fill-opacity="0.95"/>
<circle cx="11.58" cy="23.34" r="0.82" fill="#fff" fill-opacity="0.95"/>
<circle cx="30.81" cy="33.78" r="0.85" fill="#fff" fill-opacity="0.95"/>
<circle cx="11.7" cy="30.98" r="0.66" fill="#fff" fill-opacity="0.95"/>
<circle cx="6.95" cy="0.85" r="0.77" fill="#fff" fill-opacity="0.95"/>
<circle cx="14.68" cy="3.85" r="0.69" fill="#fff" fill-opacity="0.95"/>
<circle cx="17.01" cy="13.34" r="0.74" fill="#fff" fill-opacity="0.95"/>
<circle cx="22.09" cy="21.72" r="0.99" fill="#fff" fill-opacity="0.95"/>
<circle cx="37.1" cy="12.25" r="0.92" fill="#fff" fill-opacity="0.95"/>
<circle cx="12.92" cy="38.42" r="0.43" fill="#fff" fill-opacity="0.95"/>
<circle cx="13.04" cy="38.21" r="0.8" fill="#fff" fill-opacity="0.95"/>
<circle cx="28.97" cy="8.38" r="0.47" fill="#fff" fill-opacity="0.95"/>
<circle cx="39.35" cy="2.7" r="0.51" fill="#fff" fill-opacity="0.95"/>
<circle cx="17.66" cy="33.59" r="0.81" fill="#fff" fill-opacity="0.95"/>
<circle cx="40.94" cy="31.95" r="0.66" fill="#fff" fill-opacity="0.95"/>
<circle cx="-0.06" cy="31.95" r="0.66" fill="#fff" fill-opacity="0.95"/>
<circle cx="37.37" cy="12.98" r="0.43" fill="#fff" fill-opacity="0.95"/>
<circle cx="39.34" cy="36.13" r="0.8" fill="#fff" fill-opacity="0.95"/>
<circle cx="19.68" cy="8.35" r="0.53" fill="#fff" fill-opacity="0.95"/>
<circle cx="2.77" cy="3.85" r="0.69" fill="#fff" fill-opacity="0.95"/>
<circle cx="36.75" cy="38.22" r="0.71" fill="#fff" fill-opacity="0.95"/>
<circle cx="27.61" cy="19.18" r="0.87" fill="#fff" fill-opacity="0.95"/>
<circle cx="28.96" cy="40.38" r="0.91" fill="#fff" fill-opacity="0.95"/>
<circle cx="28.96" cy="-0.62" r="0.91" fill="#fff" fill-opacity="0.95"/>
<circle cx="27.8" cy="24.2" r="0.5" fill="#fff" fill-opacity="0.95"/>
<circle cx="19.33" cy="18.35" r="0.49" fill="#fff" fill-opacity="0.95"/>
<circle cx="8.27" cy="16.86" r="0.51" fill="#fff" fill-opacity="0.95"/>
<circle cx="25.59" cy="13.45" r="0.99" fill="#fff" fill-opacity="0.95"/>
<circle cx="28.05" cy="21.18" r="0.66" fill="#fff" fill-opacity="0.95"/>
<circle cx="16.06" cy="8.22" r="0.98" fill="#fff" fill-opacity="0.95"/>
<circle cx="37.46" cy="26.65" r="0.79" fill="#fff" fill-opacity="0.95"/>
<circle cx="5.91" cy="22.2" r="0.5" fill="#fff" fill-opacity="0.95"/>
<circle cx="13.3" cy="24.07" r="0.5" fill="#fff" fill-opacity="0.95"/>
<circle cx="9.56" cy="29.95" r="0.69" fill="#fff" fill-opacity="0.95"/>
<circle cx="36.48" cy="6.53" r="0.45" fill="#fff" fill-opacity="0.95"/>
<circle cx="38.47" cy="24.96" r="0.82" fill="#fff" fill-opacity="0.95"/>
<circle cx="22.81" cy="6.09" r="0.99" fill="#fff" fill-opacity="0.95"/>
<circle cx="20.32" cy="37.28" r="0.49" fill="#fff" fill-opacity="0.95"/>
<circle cx="11.28" cy="22.51" r="0.55" fill="#fff" fill-opacity="0.95"/>
<circle cx="35.25" cy="10.69" r="0.45" fill="#fff" fill-opacity="0.95"/>
<circle cx="6.68" cy="11.15" r="0.97" fill="#fff" fill-opacity="0.95"/>
<circle cx="36.01" cy="27.46" r="0.66" fill="#fff" fill-opacity="0.95"/>
<circle cx="1.7" cy="34.09" r="0.48" fill="#fff" fill-opacity="0.95"/>
<circle cx="8.2" cy="17.84" r="0.92" fill="#fff" fill-opacity="0.95"/>
<circle cx="7.5" cy="2.56" r="0.94" fill="#fff" fill-opacity="0.95"/>
<circle cx="0.34" cy="30.1" r="0.48" fill="#fff" fill-opacity="0.95"/>
<circle cx="41.34" cy="30.1" r="0.48" fill="#fff" fill-opacity="0.95"/>
<circle cx="12.26" cy="8.51" r="0.66" fill="#fff" fill-opacity="0.95"/>
<circle cx="37.78" cy="34.44" r="0.72" fill="#fff" fill-opacity="0.95"/>
<circle cx="3.6" cy="7.2" r="0.58" fill="#fff" fill-opacity="0.95"/>
<circle cx="32.55" cy="37.55" r="0.42" fill="#fff" fill-opacity="0.95"/>
<circle cx="13.71" cy="39.36" r="0.49" fill="#fff" fill-opacity="0.95"/>
<circle cx="3.27" cy="10.9" r="0.93" fill="#fff" fill-opacity="0.95"/>
<circle cx="10.79" cy="29.57" r="0.47" fill="#fff" fill-opacity="0.95"/>
<circle cx="26.98" cy="6.93" r="0.76" fill="#fff" fill-opacity="0.95"/>
<circle cx="30.44" cy="36.02" r="0.66" fill="#fff" fill-opacity="0.95"/>
<circle cx="40.38" cy="16.66" r="0.97" fill="#fff" fill-opacity="0.95"/>
<circle cx="-0.62" cy="16.66" r="0.97" fill="#fff" fill-opacity="0.95"/>
<circle cx="37.47" cy="40.94" r="0.46" fill="#fff" fill-opacity="0.95"/>
<circle cx="37.47" cy="-0.06" r="0.46" fill="#fff" fill-opacity="0.95"/>
<circle cx="11.21" cy="28.54" r="0.93" fill="#fff" fill-opacity="0.95"/>
<circle cx="10.53" cy="31.5" r="0.69" fill="#fff" fill-opacity="0.95"/>
<circle cx="0.17" cy="3.49" r="0.4" fill="#fff" fill-opacity="0.95"/>
<circle cx="41.17" cy="3.49" r="0.4" fill="#fff" fill-opacity="0.95"/>
<circle cx="9.37" cy="38.24" r="0.81" fill="#fff" fill-opacity="0.95"/>
<circle cx="35.39" cy="37.57" r="0.64" fill="#fff" fill-opacity="0.95"/>
<circle cx="28.54" cy="26.83" r="0.82" fill="#fff" fill-opacity="0.95"/>
<circle cx="3.8" cy="36.43" r="0.49" fill="#fff" fill-opacity="0.95"/>
<circle cx="18.26" cy="28.19" r="0.85" fill="#fff" fill-opacity="0.95"/>
<circle cx="33.88" cy="12.8" r="0.58" fill="#fff" fill-opacity="0.95"/>
<circle cx="29.83" cy="1.93" r="0.92" fill="#fff" fill-opacity="0.95"/>
<circle cx="12.93" cy="16.09" r="0.59" fill="#fff" fill-opacity="0.95"/>
<circle cx="29.26" cy="7.13" r="0.48" fill="#fff" fill-opacity="0.95"/>
<circle cx="2.71" cy="5.37" r="0.77" fill="#fff" fill-opacity="0.95"/>
<circle cx="40.55" cy="0.24" r="0.68" fill="#fff" fill-opacity="0.95"/>
<circle cx="-0.45" cy="0.24" r="0.68" fill="#fff" fill-opacity="0.95"/>
<circle cx="-0.45" cy="41.24" r="0.68" fill="#fff" fill-opacity="0.95"/>
<circle cx="40.55" cy="41.24" r="0.68" fill="#fff" fill-opacity="0.95"/>
<circle cx="14.57" cy="12.71" r="0.61" fill="#fff" fill-opacity="0.95"/>
<circle cx="4.43" cy="17.38" r="0.56" fill="#fff" fill-opacity="0.95"/>
<circle cx="2.45" cy="5.53" r="0.96" fill="#fff" fill-opacity="0.95"/>
<circle cx="29.45" cy="40.3" r="0.89" fill="#fff" fill-opacity="0.95"/>
<circle cx="29.45" cy="-0.7" r="0.89" fill="#fff" fill-opacity="0.95"/>
<circle cx="30.28" cy="9.3" r="0.47" fill="#fff" fill-opacity="0.95"/>
<circle cx="40.35" cy="28.07" r="0.83" fill="#fff" fill-opacity="0.95"/>
<circle cx="-0.65" cy="28.07" r="0.83" fill="#fff" fill-opacity="0.95"/>
<circle cx="5.89" cy="32.46" r="0.72" fill="#fff" fill-opacity="0.95"/>
<circle cx="3.6" cy="8.62" r="0.98" fill="#fff" fill-opacity="0.95"/>
<circle cx="25.53" cy="3.73" r="0.45" fill="#fff" fill-opacity="0.95"/>
<circle cx="30.77" cy="14.44" r="0.69" fill="#fff" fill-opacity="0.95"/>
<circle cx="5.62" cy="7.31" r="0.7" fill="#fff" fill-opacity="0.95"/>
<circle cx="17.52" cy="7.62" r="0.49" fill="#fff" fill-opacity="0.95"/>
<circle cx="18.24" cy="4.65" r="0.44" fill="#fff" fill-opacity="0.95"/>
<circle cx="19.42" cy="2.1" r="0.84" fill="#fff" fill-opacity="0.95"/>
<circle cx="31.48" cy="28.92" r="0.97" fill="#fff" fill-opacity="0.95"/>
<circle cx="6.79" cy="17.29" r="0.65" fill="#fff" fill-opacity="0.95"/>
<circle cx="2.97" cy="35.25" r="0.42" fill="#fff" fill-opacity="0.95"/>
<circle cx="40.3" cy="27.7" r="0.99" fill="#fff" fill-opacity="0.95"/>
<circle cx="-0.7" cy="27.7" r="0.99" fill="#fff" fill-opacity="0.95"/>
<circle cx="2.46" cy="36.63" r="0.98" fill="#fff" fill-opacity="0.95"/>
<circle cx="31.91" cy="23.78" r="0.79" fill="#fff" fill-opacity="0.95"/>
<circle cx="19.75" cy="34.98" r="0.75" fill="#fff" fill-opacity="0.95"/>
<circle cx="22.45" cy="16.61" r="0.78" fill="#fff" fill-opacity="0.95"/>
<circle cx="24.05" cy="38.55" r="0.86" fill="#fff" fill-opacity="0.95"/>
<circle cx="13.52" cy="29.52" r="0.54" fill="#fff" fill-opacity="0.95"/>
<circle cx="19.74" cy="21.57" r="0.84" fill="#fff" fill-opacity="0.95"/>
<circle cx="2.97" cy="6.01" r="0.51" fill="#fff" fill-opacity="0.95"/>
<circle cx="25.41" cy="6.99" r="0.74" fill="#fff" fill-opacity="0.95"/>
<circle cx="36.15" cy="17.53" r="0.53" fill="#fff" fill-opacity="0.95"/>
<circle cx="24.48" cy="16.87" r="0.66" fill="#fff" fill-opacity="0.95"/>
<circle cx="7.31" cy="27.99" r="0.61" fill="#fff" fill-opacity="0.95"/>
<circle cx="40.39" cy="20.36" r="0.81" fill="#fff" fill-opacity="0.95"/>
<circle cx="-0.61" cy="20.36" r="0.81" fill="#fff" fill-opacity="0.95"/>
<circle cx="37.9" cy="40.34" r="0.41" fill="#fff" fill-opacity="0.95"/>
<circle cx="38.04" cy="4.24" r="0.97" fill="#fff" fill-opacity="0.95"/>
<circle cx="32.34" cy="10.52" r="0.83" fill="#fff" fill-opacity="0.95"/>
<circle cx="23.08" cy="18.54" r="0.78" fill="#fff" fill-opacity="0.95"/>
<circle cx="18.72" cy="26.95" r="0.82" fill="#fff" fill-opacity="0.95"/>
<circle cx="0.23" cy="26.21" r="0.82" fill="#fff" fill-opacity="0.95"/>
<circle cx="41.23" cy="26.21" r="0.82" fill="#fff" fill-opacity="0.95"/>
<circle cx="35.53" cy="21.98" r="0.72" fill="#fff" fill-opacity="0.95"/>
<circle cx="5.94" cy="8.03" r="0.94" fill="#fff" fill-opacity="0.95"/>
<circle cx="2.55" cy="36.93" r="0.47" fill="#fff" fill-opacity="0.95"/>
<circle cx="15.75" cy="25.52" r="0.42" fill="#fff" fill-opacity="0.95"/>
<circle cx="18.33" cy="32.73" r="0.63" fill="#fff" fill-opacity="0.95"/>
<circle cx="7.21" cy="2.44" r="0.97" fill="#fff" fill-opacity="0.95"/>
<circle cx="4.28" cy="27.45" r="0.78" fill="#fff" fill-opacity="0.95"/>
<circle cx="11.48" cy="22.87" r="0.81" fill="#fff" fill-opacity="0.95"/>
<circle cx="8.53" cy="10.03" r="0.95" fill="#fff" fill-opacity="0.95"/>
<circle cx="8.52" cy="20.03" r="0.67" fill="#fff" fill-opacity="0.95"/>
<circle cx="31.89" cy="35.14" r="0.86" fill="#fff" fill-opacity="0.95"/>
<circle cx="25.68" cy="22.17" r="0.45" fill="#fff" fill-opacity="0.95"/>
<circle cx="23.54" cy="17.76" r="0.85" fill="#fff" fill-opacity="0.95"/>
<circle cx="15.42" cy="5.01" r="0.63" fill="#fff" fill-opacity="0.95"/>
<circle cx="34.08" cy="20.36" r="0.8" fill="#fff" fill-opacity="0.95"/>
<circle cx="2.32" cy="9.08" r="0.56" fill="#fff" fill-opacity="0.95"/>
<circle cx="19.86" cy="4.88" r="0.97" fill="#fff" fill-opacity="0.95"/>
<circle cx="13.58" cy="0.04" r="0.54" fill="#fff" fill-opacity="0.95"/>
<circle cx="13.58" cy="41.04" r="0.54" fill="#fff" fill-opacity="0.95"/>
<circle cx="20.57" cy="25.25" r="0.89" fill="#fff" fill-opacity="0.95"/>
<circle cx="3.55" cy="39.8" r="0.91" fill="#fff" fill-opacity="0.95"/>
<circle cx="21.1" cy="26.53" r="0.58" fill="#fff" fill-opacity="0.95"/>
<circle cx="6.1" cy="0.42" r="0.98" fill="#fff" fill-opacity="0.95"/>
<circle cx="6.1" cy="41.42" r="0.98" fill="#fff" fill-opacity="0.95"/>
<circle cx="36.5" cy="18.3" r="0.76" fill="#fff" fill-opacity="0.95"/>
<circle cx="19.54" cy="28.23" r="0.46" fill="#fff" fill-opacity="0.95"/>
<circle cx="30.92" cy="7.18" r="0.75" fill="#fff" fill-opacity="0.95"/>
<circle cx="25.53" cy="34.76" r="0.77" fill="#fff" fill-opacity="0.95"/>
<circle cx="7.31" cy="33.43" r="0.62" fill="#fff" fill-opacity="0.95"/>
<circle cx="23.09" cy="32.82" r="0.99" fill="#fff" fill-opacity="0.95"/>
<circle cx="4.27" cy="18.64" r="0.59" fill="#fff" fill-opacity="0.95"/>
<circle cx="34.72" cy="16.31" r="0.95" fill="#fff" fill-opacity="0.95"/>
<circle cx="32.54" cy="17.19" r="0.86" fill="#fff" fill-opacity="0.95"/>
<circle cx="27.85" cy="4.8" r="0.58" fill="#fff" fill-opacity="0.95"/>
<circle cx="5.56" cy="34.13" r="0.64" fill="#fff" fill-opacity="0.95"/>
<circle cx="12.33" cy="29.41" r="0.99" fill="#fff" fill-opacity="0.95"/>
<circle cx="5.79" cy="28.35" r="0.54" fill="#fff" fill-opacity="0.95"/>
<circle cx="32.44" cy="30.59" r="0.86" fill="#fff" fill-opacity="0.95"/>
<circle cx="23.91" cy="5.03" r="0.91" fill="#fff" fill-opacity="0.95"/>
<circle cx="4.53" cy="23.78" r="0.98" fill="#fff" fill-opacity="0.95"/>
<circle cx="11" cy="19.7" r="0.81" fill="#fff" fill-opacity="0.95"/>
<circle cx="26.49" cy="13.27" r="0.65" fill="#fff" fill-opacity="0.95"/>
<circle cx="36.74" cy="29.36" r="0.5" fill="#fff" fill-opacity="0.95"/>
<circle cx="27.87" cy="34.93" r="0.76" fill="#fff" fill-opacity="0.95"/>
<circle cx="36.67" cy="10.86" r="0.57" fill="#fff" fill-opacity="0.95"/>
<circle cx="35.5" cy="10.52" r="0.48" fill="#fff" fill-opacity="0.95"/>
<circle cx="6.08" cy="36.17" r="0.89" fill="#fff" fill-opacity="0.95"/>
<circle cx="8.12" cy="30.41" r="0.52" fill="#fff" fill-opacity="0.95"/>
<circle cx="25.48" cy="0.43" r="0.75" fill="#fff" fill-opacity="0.95"/>
<circle cx="25.48" cy="41.43" r="0.75" fill="#fff" fill-opacity="0.95"/>
<circle cx="30.77" cy="20.7" r="0.78" fill="#fff" fill-opacity="0.95"/>
<circle cx="4.83" cy="18.77" r="0.87" fill="#fff" fill-opacity="0.95"/>
<circle cx="15.3" cy="30.5" r="0.76" fill="#fff" fill-opacity="0.95"/>
<circle cx="33.13" cy="30.3" r="0.58" fill="#fff" fill-opacity="0.95"/>
<circle cx="33.58" cy="33.49" r="0.66" fill="#fff" fill-opacity="0.95"/>
<circle cx="29.47" cy="16.98" r="0.75" fill="#fff" fill-opacity="0.95"/>
<circle cx="13.31" cy="18.93" r="0.58" fill="#fff" fill-opacity="0.95"/>
<circle cx="36.67" cy="25.14" r="0.77" fill="#fff" fill-opacity="0.95"/>
<circle cx="21.43" cy="19.04" r="0.5" fill="#fff" fill-opacity="0.95"/>
<circle cx="26.52" cy="18.29" r="0.61" fill="#fff" fill-opacity="0.95"/>
<circle cx="21.02" cy="5.36" r="0.79" fill="#fff" fill-opacity="0.95"/>
<circle cx="32.1" cy="15.03" r="0.5" fill="#fff" fill-opacity="0.95"/>
<circle cx="39.7" cy="25.41" r="0.59" fill="#fff" fill-opacity="0.95"/>
<circle cx="3.7" cy="23.51" r="0.53" fill="#fff" fill-opacity="0.95"/>
<circle cx="36.84" cy="29.38" r="0.57" fill="#fff" fill-opacity="0.95"/>
<circle cx="16.69" cy="3.56" r="0.53" fill="#fff" fill-opacity="0.95"/>
<circle cx="22.89" cy="36.19" r="0.66" fill="#fff" fill-opacity="0.95"/>
<circle cx="39.47" cy="10.5" r="0.46" fill="#fff" fill-opacity="0.95"/>
<circle cx="34.41" cy="15.48" r="0.57" fill="#fff" fill-opacity="0.95"/>
<circle cx="18.22" cy="25.09" r="0.53" fill="#fff" fill-opacity="0.95"/>
<circle cx="4.36" cy="24.49" r="0.79" fill="#fff" fill-opacity="0.95"/>
<circle cx="22.98" cy="6.55" r="0.92" fill="#fff" fill-opacity="0.95"/>
<circle cx="17.63" cy="22.22" r="0.93" fill="#fff" fill-opacity="0.95"/>
<circle cx="5.48" cy="20.33" r="0.65" fill="#fff" fill-opacity="0.95"/>
<circle cx="26.18" cy="9.24" r="0.54" fill="#fff" fill-opacity="0.95"/>
<circle cx="9.31" cy="22.9" r="0.58" fill="#fff" fill-opacity="0.95"/>
<circle cx="38.02" cy="35.71" r="0.84" fill="#fff" fill-opacity="0.95"/>
<circle cx="16.67" cy="33.81" r="0.74" fill="#fff" fill-opacity="0.95"/>
<circle cx="32.09" cy="39.15" r="0.47" fill="#fff" fill-opacity="0.95"/>
<circle cx="31.22" cy="37.06" r="0.64" fill="#fff" fill-opacity="0.95"/>
<circle cx="14.01" cy="1.29" r="0.94" fill="#fff" fill-opacity="0.95"/>
<circle cx="8.48" cy="0.35" r="0.45" fill="#fff" fill-opacity="0.95"/>
<circle cx="8.48" cy="41.35" r="0.45" fill="#fff" fill-opacity="0.95"/>
<circle cx="21.13" cy="27.99" r="0.94" fill="#fff" fill-opacity="0.95"/>
<circle cx="27.23" cy="4.17" r="0.96" fill="#fff" fill-opacity="0.95"/>
<circle cx="35.73" cy="33.09" r="0.94" fill="#fff" fill-opacity="0.95"/>
<circle cx="34.26" cy="28.03" r="0.86" fill="#fff" fill-opacity="0.95"/>
<circle cx="0.93" cy="40.59" r="0.4" fill="#fff" fill-opacity="0.95"/>
<circle cx="17.45" cy="23.35" r="0.71" fill="#fff" fill-opacity="0.95"/>
<circle cx="13.9" cy="20.83" r="0.59" fill="#fff" fill-opacity="0.95"/>
<circle cx="27.13" cy="1.23" r="0.61" fill="#fff" fill-opacity="0.95"/>
<circle cx="26.71" cy="18.73" r="0.41" fill="#fff" fill-opacity="0.95"/>
<circle cx="18.83" cy="38.04" r="0.71" fill="#fff" fill-opacity="0.95"/>
<circle cx="29.95" cy="15.7" r="0.99" fill="#fff" fill-opacity="0.95"/>
<circle cx="21.53" cy="33.24" r="0.78" fill="#fff" fill-opacity="0.95"/>
<circle cx="33.35" cy="16.09" r="0.96" fill="#fff" fill-opacity="0.95"/>
<circle cx="40.51" cy="36.82" r="0.94" fill="#fff" fill-opacity="0.95"/>
<circle cx="-0.49" cy="36.82" r="0.94" fill="#fff" fill-opacity="0.95"/>
<circle cx="14.94" cy="13.88" r="0.94" fill="#fff" fill-opacity="0.95"/>
<circle cx="33.86" cy="24.23" r="0.74" fill="#fff" fill-opacity="0.95"/>
<circle cx="0.48" cy="22.93" r="0.44" fill="#fff" fill-opacity="0.95"/>
<circle cx="21.58" cy="9.16" r="0.76" fill="#fff" fill-opacity="0.95"/>
<circle cx="6.47" cy="13.43" r="0.86" fill="#fff" fill-opacity="0.95"/>
<circle cx="23.76" cy="5.46" r="0.99" fill="#fff" fill-opacity="0.95"/>
<circle cx="0.89" cy="16.92" r="0.83" fill="#fff" fill-opacity="0.95"/>
<circle cx="23.83" cy="26.75" r="0.94" fill="#fff" fill-opacity="0.95"/>
<circle cx="3.94" cy="20.84" r="0.55" fill="#fff" fill-opacity="0.95"/>
<circle cx="24.57" cy="19.05" r="0.78" fill="#fff" fill-opacity="0.95"/>
<circle cx="32.82" cy="20.57" r="0.65" fill="#fff" fill-opacity="0.95"/>
<circle cx="22.81" cy="6.89" r="0.95" fill="#fff" fill-opacity="0.95"/>
<circle cx="16" cy="20.45" r="0.9" fill="#fff" fill-opacity="0.95"/>
<circle cx="34.17" cy="40.89" r="0.83" fill="#fff" fill-opacity="0.95"/>
<circle cx="34.17" cy="-0.11" r="0.83" fill="#fff" fill-opacity="0.95"/>
<circle cx="21.8" cy="17.62" r="0.87" fill="#fff" fill-opacity="0.95"/>
<circle cx="25.45" cy="0.43" r="0.74" fill="#fff" fill-opacity="0.95"/>
<circle cx="25.45" cy="41.43" r="0.74" fill="#fff" fill-opacity="0.95"/>
<circle cx="27.43" cy="14.71" r="0.9" fill="#fff" fill-opacity="0.95"/>
<circle cx="30.4" cy="36.32" r="0.58" fill="#fff" fill-opacity="0.95"/>
<circle cx="27.13" cy="23.01" r="0.6" fill="#fff" fill-opacity="0.95"/>
<circle cx="12.2" cy="3.61" r="0.9" fill="#fff" fill-opacity="0.95"/>
<circle cx="11.31" cy="14.2" r="0.55" fill="#fff" fill-opacity="0.95"/>
<circle cx="22.82" cy="20.27" r="0.92" fill="#fff" fill-opacity="0.95"/>
<circle cx="3.26" cy="14.07" r="0.9" fill="#fff" fill-opacity="0.95"/>
<circle cx="32.54" cy="2.62" r="0.67" fill="#fff" fill-opacity="0.95"/>
<circle cx="40.71" cy="40.16" r="0.59" fill="#fff" fill-opacity="0.95"/>
<circle cx="-0.29" cy="40.16" r="0.59" fill="#fff" fill-opacity="0.95"/>
<circle cx="30.51" cy="13.57" r="0.44" fill="#fff" fill-opacity="0.95"/>
<circle cx="36.78" cy="5.14" r="1" fill="#fff" fill-opacity="0.95"/>
<circle cx="18.51" cy="34.96" r="0.69" fill="#fff" fill-opacity="0.95"/>
<circle cx="36.92" cy="30.6" r="0.5" fill="#fff" fill-opacity="0.95"/>
<circle cx="0.99" cy="6.98" r="0.76" fill="#fff" fill-opacity="0.95"/>
<circle cx="4.51" cy="3.01" r="0.63" fill="#fff" fill-opacity="0.95"/>
<circle cx="2.2" cy="12.6" r="0.78" fill="#fff" fill-opacity="0.95"/>
<circle cx="9.31" cy="32.42" r="0.56" fill="#fff" fill-opacity="0.95"/>
<circle cx="14.95" cy="16.57" r="0.91" fill="#fff" fill-opacity="0.95"/>
<circle cx="1.96" cy="33.26" r="0.46" fill="#fff" fill-opacity="0.95"/>
<circle cx="39.8" cy="22.78" r="0.85" fill="#fff" fill-opacity="0.95"/>
<circle cx="21.1" cy="27.48" r="0.81" fill="#fff" fill-opacity="0.95"/>
<circle cx="5.99" cy="7.94" r="0.95" fill="#fff" fill-opacity="0.95"/>
<circle cx="8.99" cy="9.96" r="0.43" fill="#fff" fill-opacity="0.95"/>
<circle cx="29.25" cy="32.3" r="0.42" fill="#fff" fill-opacity="0.95"/>
<circle cx="35.33" cy="4.7" r="0.7" fill="#fff" fill-opacity="0.95"/>
<circle cx="21.07" cy="10.36" r="0.59" fill="#fff" fill-opacity="0.95"/>
<circle cx="20.14" cy="32.11" r="0.55" fill="#fff" fill-opacity="0.95"/>
<circle cx="9.54" cy="40.04" r="0.56" fill="#fff" fill-opacity="0.95"/>
<circle cx="4.24" cy="38.19" r="0.96" fill="#fff" fill-opacity="0.95"/>
<circle cx="8.79" cy="21.7" r="0.92" fill="#fff" fill-opacity="0.95"/>
<circle cx="13.17" cy="13.98" r="0.4" fill="#fff" fill-opacity="0.95"/>
<circle cx="5.31" cy="24.89" r="0.7" fill="#fff" fill-opacity="0.95"/>
<circle cx="35.36" cy="18.26" r="0.56" fill="#fff" fill-opacity="0.95"/>
<circle cx="16.13" cy="5.73" r="0.69" fill="#fff" fill-opacity="0.95"/>
<circle cx="28.37" cy="7.56" r="0.75" fill="#fff" fill-opacity="0.95"/>
<circle cx="40.91" cy="28.56" r="0.59" fill="#fff" fill-opacity="0.95"/>
<circle cx="-0.09" cy="28.56" r="0.59" fill="#fff" fill-opacity="0.95"/>
<circle cx="26.45" cy="4.51" r="0.47" fill="#fff" fill-opacity="0.95"/>
<circle cx="33.16" cy="29" r="0.77" fill="#fff" fill-opacity="0.95"/>
<circle cx="23.02" cy="14.38" r="0.9" fill="#fff" fill-opacity="0.95"/>
<circle cx="21.12" cy="33.83" r="0.84" fill="#fff" fill-opacity="0.95"/>
<circle cx="13.71" cy="33.43" r="0.61" fill="#fff" fill-opacity="0.95"/>
<circle cx="25.26" cy="34.56" r="0.97" fill="#fff" fill-opacity="0.95"/>
<circle cx="25.49" cy="8.2" r="0.5" fill="#fff" fill-opacity="0.95"/>
<circle cx="34.05" cy="12.62" r="0.49" fill="#fff" fill-opacity="0.95"/>
<circle cx="23.71" cy="17.12" r="0.84" fill="#fff" fill-opacity="0.95"/>
<circle cx="7.37" cy="20.97" r="0.97" fill="#fff" fill-opacity="0.95"/>
<circle cx="7.06" cy="15.94" r="0.64" fill="#fff" fill-opacity="0.95"/>
<circle cx="5.33" cy="5.91" r="0.59" fill="#fff" fill-opacity="0.95"/>
<circle cx="22.51" cy="5.62" r="0.78" fill="#fff" fill-opacity="0.95"/>
<circle cx="15.34" cy="12.31" r="0.91" fill="#fff" fill-opacity="0.95"/>
<circle cx="30.42" cy="18.26" r="0.56" fill="#fff" fill-opacity="0.95"/>
<circle cx="20.9" cy="26.59" r="0.86" fill="#fff" fill-opacity="0.95"/>
<circle cx="27.15" cy="0.04" r="0.5" fill="#fff" fill-opacity="0.95"/>
<circle cx="27.15" cy="41.04" r="0.5" fill="#fff" fill-opacity="0.95"/>
<circle cx="40.84" cy="22.41" r="0.71" fill="#fff" fill-opacity="0.95"/>
<circle cx="-0.16" cy="22.41" r="0.71" fill="#fff" fill-opacity="0.95"/>
<circle cx="4.69" cy="32.25" r="0.9" fill="#fff" fill-opacity="0.95"/>
<circle cx="12.72" cy="11.12" r="0.44" fill="#fff" fill-opacity="0.95"/>
<circle cx="12.55" cy="21.02" r="0.67" fill="#fff" fill-opacity="0.95"/>
<circle cx="0.35" cy="4.01" r="0.54" fill="#fff" fill-opacity="0.95"/>
<circle cx="41.35" cy="4.01" r="0.54" fill="#fff" fill-opacity="0.95"/>
<circle cx="34.06" cy="39.55" r="0.92" fill="#fff" fill-opacity="0.95"/>
<circle cx="20.23" cy="14.86" r="0.94" fill="#fff" fill-opacity="0.95"/>
<circle cx="30.98" cy="26.5" r="0.82" fill="#fff" fill-opacity="0.95"/>
<circle cx="38.45" cy="21.57" r="0.55" fill="#fff" fill-opacity="0.95"/>
<circle cx="30.09" cy="38.15" r="0.54" fill="#fff" fill-opacity="0.95"/>
<circle cx="15.77" cy="31.26" r="0.88" fill="#fff" fill-opacity="0.95"/>
<circle cx="2.12" cy="33.08" r="0.55" fill="#fff" fill-opacity="0.95"/>
<circle cx="5.19" cy="1.99" r="0.68" fill="#fff" fill-opacity="0.95"/>
<circle cx="18.58" cy="7.63" r="0.83" fill="#fff" fill-opacity="0.95"/>
<circle cx="7.61" cy="38.07" r="1" fill="#fff" fill-opacity="0.95"/>
<circle cx="13.65" cy="0.92" r="0.44" fill="#fff" fill-opacity="0.95"/>
<circle cx="21.93" cy="14.53" r="0.87" fill="#fff" fill-opacity="0.95"/>
<circle cx="16.77" cy="10.55" r="0.5" fill="#fff" fill-opacity="0.95"/>
<circle cx="40.67" cy="31.33" r="0.81" fill="#fff" fill-opacity="0.95"/>
<circle cx="-0.33" cy="31.33" r="0.81" fill="#fff" fill-opacity="0.95"/>
<circle cx="9.06" cy="18.17" r="0.85" fill="#fff" fill-opacity="0.95"/>
<circle cx="26.52" cy="11.4" r="0.61" fill="#fff" fill-opacity="0.95"/>
<circle cx="33.26" cy="2.22" r="0.79" fill="#fff" fill-opacity="0.95"/>
<circle cx="28.95" cy="21.17" r="0.73" fill="#fff" fill-opacity="0.95"/>
<circle cx="37.9" cy="13.3" r="0.85" fill="#fff" fill-opacity="0.95"/>
<circle cx="29.64" cy="30.29" r="0.44" fill="#fff" fill-opacity="0.95"/>
<circle cx="28.42" cy="15.4" r="0.48" fill="#fff" fill-opacity="0.95"/>
<circle cx="37.22" cy="10.89" r="0.68" fill="#fff" fill-opacity="0.95"/>
<circle cx="12.6" cy="4.59" r="0.57" fill="#fff" fill-opacity="0.95"/>
<circle cx="25.12" cy="26.19" r="0.85" fill="#fff" fill-opacity="0.95"/>
<circle cx="6.24" cy="11.23" r="0.9" fill="#fff" fill-opacity="0.95"/>
<circle cx="21.51" cy="30.29" r="0.68" fill="#fff" fill-opacity="0.95"/>
<circle cx="17.22" cy="1.35" r="0.9" fill="#fff" fill-opacity="0.95"/>
<circle cx="37.1" cy="29.32" r="0.53" fill="#fff" fill-opacity="0.95"/>
<circle cx="25.82" cy="27.88" r="0.57" fill="#fff" fill-opacity="0.95"/>
<circle cx="15.44" cy="36.47" r="0.56" fill="#fff" fill-opacity="0.95"/>
<circle cx="25.05" cy="1.93" r="0.41" fill="#fff" fill-opacity="0.95"/>
<circle cx="1.77" cy="12.49" r="0.96" fill="#fff" fill-opacity="0.95"/>
<circle cx="23.69" cy="19.85" r="0.49" fill="#fff" fill-opacity="0.95"/>
<circle cx="22.86" cy="5.31" r="0.44" fill="#fff" fill-opacity="0.95"/>
<circle cx="13.68" cy="10.56" r="0.87" fill="#fff" fill-opacity="0.95"/>
<circle cx="23.13" cy="26.26" r="0.57" fill="#fff" fill-opacity="0.95"/>
<circle cx="16.09" cy="4.67" r="0.57" fill="#fff" fill-opacity="0.95"/>
</pattern>
<pattern id="blot" width="53" height="53" patternUnits="userSpaceOnUse">
<circle cx="13.73" cy="36.32" r="1.72" fill="#fff" fill-opacity="0.8"/>
<circle cx="45.01" cy="9.84" r="1.18" fill="#fff" fill-opacity="0.8"/>
<circle cx="7.8" cy="11.93" r="1.78" fill="#fff" fill-opacity="0.8"/>
<circle cx="6.9" cy="28.16" r="1.16" fill="#fff" fill-opacity="0.8"/>
<circle cx="15.62" cy="22.87" r="1.91" fill="#fff" fill-opacity="0.8"/>
<circle cx="32.25" cy="0.76" r="1.23" fill="#fff" fill-opacity="0.8"/>
<circle cx="32.25" cy="53.76" r="1.23" fill="#fff" fill-opacity="0.8"/>
<circle cx="7.78" cy="46.18" r="1.87" fill="#fff" fill-opacity="0.8"/>
<circle cx="42.72" cy="43.8" r="1.79" fill="#fff" fill-opacity="0.8"/>
<circle cx="50.31" cy="42.07" r="1.21" fill="#fff" fill-opacity="0.8"/>
<circle cx="45.05" cy="25.8" r="1.81" fill="#fff" fill-opacity="0.8"/>
<circle cx="29.9" cy="22.77" r="1.34" fill="#fff" fill-opacity="0.8"/>
<circle cx="22.78" cy="16.63" r="1.04" fill="#fff" fill-opacity="0.8"/>
<circle cx="43.44" cy="42.31" r="2.08" fill="#fff" fill-opacity="0.8"/>
<circle cx="36.62" cy="29.37" r="1.8" fill="#fff" fill-opacity="0.8"/>
<circle cx="7.15" cy="35.87" r="1.43" fill="#fff" fill-opacity="0.8"/>
<circle cx="9.36" cy="10.74" r="1.53" fill="#fff" fill-opacity="0.8"/>
<circle cx="13.43" cy="24.35" r="1.63" fill="#fff" fill-opacity="0.8"/>
<circle cx="20.98" cy="6.93" r="1.49" fill="#fff" fill-opacity="0.8"/>
<circle cx="12.48" cy="12.49" r="1.13" fill="#fff" fill-opacity="0.8"/>
<circle cx="19.42" cy="3.88" r="1.68" fill="#fff" fill-opacity="0.8"/>
<circle cx="50.54" cy="20.65" r="1.76" fill="#fff" fill-opacity="0.8"/>
<circle cx="49.45" cy="2.29" r="1.07" fill="#fff" fill-opacity="0.8"/>
<circle cx="42.72" cy="44.42" r="1.67" fill="#fff" fill-opacity="0.8"/>
<circle cx="8.47" cy="21.92" r="1.94" fill="#fff" fill-opacity="0.8"/>
<circle cx="46.97" cy="42.57" r="1.14" fill="#fff" fill-opacity="0.8"/>
<circle cx="45.24" cy="19.86" r="1.76" fill="#fff" fill-opacity="0.8"/>
<circle cx="7.26" cy="51.48" r="1.62" fill="#fff" fill-opacity="0.8"/>
<circle cx="7.26" cy="-1.52" r="1.62" fill="#fff" fill-opacity="0.8"/>
<circle cx="38.3" cy="11.22" r="1.64" fill="#fff" fill-opacity="0.8"/>
<circle cx="30.79" cy="31.33" r="1.33" fill="#fff" fill-opacity="0.8"/>
<circle cx="38.57" cy="18.09" r="1.25" fill="#fff" fill-opacity="0.8"/>
<circle cx="8.72" cy="36.25" r="1.03" fill="#fff" fill-opacity="0.8"/>
<circle cx="11.95" cy="3.66" r="1.67" fill="#fff" fill-opacity="0.8"/>
<circle cx="29.48" cy="28.8" r="0.95" fill="#fff" fill-opacity="0.8"/>
<circle cx="23.3" cy="18.18" r="1.01" fill="#fff" fill-opacity="0.8"/>
<circle cx="0.16" cy="52.89" r="1.05" fill="#fff" fill-opacity="0.8"/>
<circle cx="0.16" cy="-0.11" r="1.05" fill="#fff" fill-opacity="0.8"/>
<circle cx="53.16" cy="-0.11" r="1.05" fill="#fff" fill-opacity="0.8"/>
<circle cx="53.16" cy="52.89" r="1.05" fill="#fff" fill-opacity="0.8"/>
<circle cx="15.98" cy="14.25" r="1.62" fill="#fff" fill-opacity="0.8"/>
<circle cx="4.1" cy="24.9" r="1.34" fill="#fff" fill-opacity="0.8"/>
<circle cx="44.23" cy="0.3" r="1.3" fill="#fff" fill-opacity="0.8"/>
<circle cx="44.23" cy="53.3" r="1.3" fill="#fff" fill-opacity="0.8"/>
<circle cx="26.32" cy="51.4" r="1.52" fill="#fff" fill-opacity="0.8"/>
<circle cx="25.13" cy="35.48" r="1.26" fill="#fff" fill-opacity="0.8"/>
</pattern>
<pattern id="hatch" width="3.6" height="3.6" patternUnits="userSpaceOnUse" patternTransform="rotate(-45)"><rect width="3.6" height="3.6" fill="#f0a020"/><rect width="2.4" height="3.6" fill="#1212d8"/></pattern>
</defs>
<text x="152" y="8.7" font-size="12.4" font-weight="bold" fill="#000" stroke="#000" stroke-width="0.45">b</text>
<text x="188.1" y="9.1" font-size="8.4" textLength="108.5" lengthAdjust="spacingAndGlyphs" >Human thymus stromal cells</text>
<polygon points="187.5,36.9 191.8,35.9 200.3,36.4 201.9,39.6 200.9,43.9 199.8,48.2 204.6,54.6 206.7,63.1 204.6,66.3 200.3,66.3 197.1,64.2 191.8,58.8 190.2,53.5 188,47.1 187,41.8" fill="#b0170e" stroke="#b0170e" stroke-width="0.5" stroke-linejoin="round"/>
<polygon points="187.5,36.9 191.8,35.9 200.3,36.4 201.9,39.6 200.9,43.9 199.8,48.2 204.6,54.6 206.7,63.1 204.6,66.3 200.3,66.3 197.1,64.2 191.8,58.8 190.2,53.5 188,47.1 187,41.8" fill="url(#spk2)" stroke="none" stroke-width="0" />
<polygon points="187.5,36.9 191.8,35.9 200.3,36.4 201.9,39.6 200.9,43.9 199.8,48.2 204.6,54.6 206.7,63.1 204.6,66.3 200.3,66.3 197.1,64.2 191.8,58.8 190.2,53.5 188,47.1 187,41.8" fill="url(#blot)" stroke="none" stroke-width="0" />
<circle cx="202.3" cy="40.84" r="0.5" fill="#b0170e"/>
<circle cx="192.05" cy="37.27" r="0.5" fill="#b0170e"/>
<circle cx="186.61" cy="47.23" r="0.5" fill="#b0170e"/>
<circle cx="200.08" cy="48.71" r="0.5" fill="#b0170e"/>
<circle cx="199.44" cy="44.1" r="0.5" fill="#b0170e"/>
<circle cx="199.04" cy="46.73" r="0.5" fill="#b0170e"/>
<circle cx="193.98" cy="60.63" r="0.5" fill="#b0170e"/>
<circle cx="200.55" cy="49.3" r="0.5" fill="#b0170e"/>
<circle cx="202.72" cy="65.6" r="0.5" fill="#b0170e"/>
<circle cx="188.82" cy="38.88" r="0.5" fill="#b0170e"/>
<circle cx="191.64" cy="37.21" r="0.5" fill="#b0170e"/>
<circle cx="186.26" cy="42.8" r="0.5" fill="#b0170e"/>
<circle cx="199.34" cy="45.13" r="0.5" fill="#b0170e"/>
<circle cx="185.86" cy="42.75" r="0.5" fill="#b0170e"/>
<circle cx="200.8" cy="46.77" r="0.5" fill="#b0170e"/>
<circle cx="200.92" cy="39.31" r="0.5" fill="#b0170e"/>
<circle cx="201.08" cy="41.32" r="0.5" fill="#b0170e"/>
<circle cx="205.59" cy="61.14" r="0.5" fill="#b0170e"/>
<circle cx="188.25" cy="40.88" r="0.5" fill="#b0170e"/>
<circle cx="200.43" cy="46.35" r="0.5" fill="#b0170e"/>
<circle cx="203.62" cy="52.66" r="0.5" fill="#b0170e"/>
<circle cx="204.41" cy="54.12" r="0.5" fill="#b0170e"/>
<circle cx="190.17" cy="54.65" r="0.5" fill="#b0170e"/>
<circle cx="205.32" cy="54.1" r="0.5" fill="#b0170e"/>
<circle cx="188.4" cy="43.15" r="0.5" fill="#b0170e"/>
<circle cx="200.34" cy="42.64" r="0.5" fill="#b0170e"/>
<circle cx="196.68" cy="62.71" r="0.5" fill="#b0170e"/>
<circle cx="189.02" cy="37.42" r="0.5" fill="#b0170e"/>
<circle cx="200.08" cy="45.42" r="0.5" fill="#b0170e"/>
<circle cx="185.69" cy="39.36" r="0.5" fill="#b0170e"/>
<polygon points="212.1,43.4 215.3,43.4 215.3,46 222.8,46 222.8,48.7 216.4,49.2 214.2,54.6 213.7,62 211,69.5 208.9,72.7 205.7,71.7 201.9,68.5 205.7,65.3 208.3,62 210.5,54.6 211,48.2" fill="#f5a02c" stroke="#f5a02c" stroke-width="0.5" stroke-linejoin="round"/>
<polygon points="212.1,43.4 215.3,43.4 215.3,46 222.8,46 222.8,48.7 216.4,49.2 214.2,54.6 213.7,62 211,69.5 208.9,72.7 205.7,71.7 201.9,68.5 205.7,65.3 208.3,62 210.5,54.6 211,48.2" fill="url(#spk)" stroke="none" stroke-width="0" />
<circle cx="210.39" cy="73.29" r="0.5" fill="#f5a02c"/>
<circle cx="215.67" cy="42.6" r="0.5" fill="#f5a02c"/>
<circle cx="214.06" cy="45.64" r="0.5" fill="#f5a02c"/>
<circle cx="211.4" cy="64.05" r="0.5" fill="#f5a02c"/>
<circle cx="212.98" cy="58.8" r="0.5" fill="#f5a02c"/>
<circle cx="207.07" cy="63.62" r="0.5" fill="#f5a02c"/>
<circle cx="208.97" cy="54.98" r="0.5" fill="#f5a02c"/>
<circle cx="215.29" cy="59.26" r="0.5" fill="#f5a02c"/>
<circle cx="217.24" cy="50.89" r="0.5" fill="#f5a02c"/>
<circle cx="215.61" cy="54.97" r="0.5" fill="#f5a02c"/>
<circle cx="206.03" cy="63.25" r="0.5" fill="#f5a02c"/>
<circle cx="220.57" cy="49.85" r="0.5" fill="#f5a02c"/>
<circle cx="214.67" cy="42.01" r="0.5" fill="#f5a02c"/>
<circle cx="204.95" cy="65.29" r="0.5" fill="#f5a02c"/>
<circle cx="210.48" cy="45.15" r="0.5" fill="#f5a02c"/>
<circle cx="214.68" cy="43.09" r="0.5" fill="#f5a02c"/>
<circle cx="209.36" cy="57.72" r="0.5" fill="#f5a02c"/>
<circle cx="215.7" cy="46.69" r="0.5" fill="#f5a02c"/>
<circle cx="224.17" cy="49.46" r="0.5" fill="#f5a02c"/>
<circle cx="205.1" cy="66.06" r="0.5" fill="#f5a02c"/>
<circle cx="211.35" cy="54.86" r="0.5" fill="#f5a02c"/>
<circle cx="210.21" cy="71.36" r="0.5" fill="#f5a02c"/>
<circle cx="203.31" cy="68.93" r="0.5" fill="#f5a02c"/>
<circle cx="209.2" cy="71.86" r="0.5" fill="#f5a02c"/>
<circle cx="205.49" cy="71.13" r="0.5" fill="#f5a02c"/>
<polygon points="228.7,50.6 238.7,50 240.6,53.7 247.4,56.2 251.2,58.7 257.4,61.8 260.5,63.1 259.3,71.2 258.7,79.9 261.2,87.4 264.9,93.7 269.9,98.7 269.9,102.4 264.9,103.6 257.4,106.1 249.9,109.3 240,109.9 232.5,107.4 226.2,103.6 223.1,98.7 221.9,92.4 222.5,86.2 225,78.7 226.2,71.2 226.9,63.7 227.5,56.2" fill="#6a4fc2" stroke="#6a4fc2" stroke-width="0.5" stroke-linejoin="round"/>
<polygon points="228.7,50.6 238.7,50 240.6,53.7 247.4,56.2 251.2,58.7 257.4,61.8 260.5,63.1 259.3,71.2 258.7,79.9 261.2,87.4 264.9,93.7 269.9,98.7 269.9,102.4 264.9,103.6 257.4,106.1 249.9,109.3 240,109.9 232.5,107.4 226.2,103.6 223.1,98.7 221.9,92.4 222.5,86.2 225,78.7 226.2,71.2 226.9,63.7 227.5,56.2" fill="url(#spk2)" stroke="none" stroke-width="0" />
<polygon points="228.7,50.6 238.7,50 240.6,53.7 247.4,56.2 251.2,58.7 257.4,61.8 260.5,63.1 259.3,71.2 258.7,79.9 261.2,87.4 264.9,93.7 269.9,98.7 269.9,102.4 264.9,103.6 257.4,106.1 249.9,109.3 240,109.9 232.5,107.4 226.2,103.6 223.1,98.7 221.9,92.4 222.5,86.2 225,78.7 226.2,71.2 226.9,63.7 227.5,56.2" fill="url(#blot)" stroke="none" stroke-width="0" />
<circle cx="252.06" cy="107.06" r="0.5" fill="#6a4fc2"/>
<circle cx="222.52" cy="87.43" r="0.5" fill="#6a4fc2"/>
<circle cx="244.27" cy="55.18" r="0.5" fill="#6a4fc2"/>
<circle cx="227.12" cy="68.2" r="0.5" fill="#6a4fc2"/>
<circle cx="225.43" cy="66.59" r="0.5" fill="#6a4fc2"/>
<circle cx="255.7" cy="60.56" r="0.5" fill="#6a4fc2"/>
<circle cx="228.24" cy="59.78" r="0.5" fill="#6a4fc2"/>
<circle cx="261.08" cy="89.63" r="0.5" fill="#6a4fc2"/>
<circle cx="247.17" cy="55.3" r="0.5" fill="#6a4fc2"/>
<circle cx="267.99" cy="98.98" r="0.5" fill="#6a4fc2"/>
<circle cx="264.1" cy="103.71" r="0.5" fill="#6a4fc2"/>
<circle cx="231.82" cy="51.58" r="0.5" fill="#6a4fc2"/>
<circle cx="223.94" cy="97.71" r="0.5" fill="#6a4fc2"/>
<circle cx="261.36" cy="64.6" r="0.5" fill="#6a4fc2"/>
<circle cx="233.94" cy="50.42" r="0.5" fill="#6a4fc2"/>
<circle cx="259.67" cy="66.95" r="0.5" fill="#6a4fc2"/>
<circle cx="244.23" cy="56.86" r="0.5" fill="#6a4fc2"/>
<circle cx="225.44" cy="64.19" r="0.5" fill="#6a4fc2"/>
<circle cx="222.86" cy="94.09" r="0.5" fill="#6a4fc2"/>
<circle cx="221.89" cy="99.37" r="0.5" fill="#6a4fc2"/>
<circle cx="259.22" cy="73.36" r="0.5" fill="#6a4fc2"/>
<circle cx="224.01" cy="82.89" r="0.5" fill="#6a4fc2"/>
<circle cx="271.12" cy="98.68" r="0.5" fill="#6a4fc2"/>
<circle cx="261.57" cy="66.6" r="0.5" fill="#6a4fc2"/>
<circle cx="232.83" cy="48.77" r="0.5" fill="#6a4fc2"/>
<circle cx="248.03" cy="56.17" r="0.5" fill="#6a4fc2"/>
<circle cx="242" cy="54.52" r="0.5" fill="#6a4fc2"/>
<circle cx="239.65" cy="51.08" r="0.5" fill="#6a4fc2"/>
<circle cx="247.36" cy="109.72" r="0.5" fill="#6a4fc2"/>
<circle cx="242.63" cy="56.25" r="0.5" fill="#6a4fc2"/>
<circle cx="268.81" cy="103.21" r="0.5" fill="#6a4fc2"/>
<circle cx="254.29" cy="61.87" r="0.5" fill="#6a4fc2"/>
<circle cx="260.18" cy="81.11" r="0.5" fill="#6a4fc2"/>
<circle cx="262.62" cy="87.34" r="0.5" fill="#6a4fc2"/>
<circle cx="229.03" cy="51.49" r="0.5" fill="#6a4fc2"/>
<circle cx="264.96" cy="90.79" r="0.5" fill="#6a4fc2"/>
<circle cx="253.47" cy="61.67" r="0.5" fill="#6a4fc2"/>
<circle cx="227.22" cy="65.64" r="0.5" fill="#6a4fc2"/>
<circle cx="256.53" cy="107.5" r="0.5" fill="#6a4fc2"/>
<circle cx="222.39" cy="99.94" r="0.5" fill="#6a4fc2"/>
<circle cx="227.61" cy="58.74" r="0.5" fill="#6a4fc2"/>
<circle cx="238.04" cy="51.98" r="0.5" fill="#6a4fc2"/>
<circle cx="242.63" cy="55.25" r="0.5" fill="#6a4fc2"/>
<circle cx="260.15" cy="64.71" r="0.5" fill="#6a4fc2"/>
<circle cx="269.64" cy="102.8" r="0.5" fill="#6a4fc2"/>
<circle cx="261.45" cy="82.41" r="0.5" fill="#6a4fc2"/>
<circle cx="223.59" cy="99.32" r="0.5" fill="#6a4fc2"/>
<circle cx="229.41" cy="106.17" r="0.5" fill="#6a4fc2"/>
<circle cx="223.88" cy="101.66" r="0.5" fill="#6a4fc2"/>
<circle cx="225.01" cy="70.14" r="0.5" fill="#6a4fc2"/>
<circle cx="240.07" cy="50.38" r="0.5" fill="#6a4fc2"/>
<circle cx="222.24" cy="98.38" r="0.5" fill="#6a4fc2"/>
<circle cx="270.63" cy="102.15" r="0.5" fill="#6a4fc2"/>
<circle cx="259.59" cy="71.88" r="0.5" fill="#6a4fc2"/>
<circle cx="223.81" cy="81.79" r="0.5" fill="#6a4fc2"/>
<circle cx="238.84" cy="50.86" r="0.5" fill="#6a4fc2"/>
<circle cx="270.05" cy="100.93" r="0.5" fill="#6a4fc2"/>
<circle cx="225.4" cy="73.79" r="0.5" fill="#6a4fc2"/>
<circle cx="233.18" cy="49.2" r="0.5" fill="#6a4fc2"/>
<circle cx="266.03" cy="102.32" r="0.5" fill="#6a4fc2"/>
<polygon points="227.5,50.6 240.6,50.6 247.4,56.2 257.4,61.8 260.5,63.1 259.3,71.2 258.7,79.9 226,79.9 226.9,63.7" fill="url(#spk)" stroke="none" stroke-width="0" />
<polygon points="222.3,90 262.8,90 264.9,93.7 269.9,98.7 269.9,102.4 264.9,103.6 257.4,106.1 249.9,109.3 240,109.9 232.5,107.4 226.2,103.6 223.1,98.7 221.9,92.4" fill="#6a4fc2" stroke="none" stroke-width="0" fill-opacity="0.3"/>
<polygon points="249.2,13 256.7,12.6 267.4,13 269.7,14.8 269.7,19.3 267.4,20.6 263.9,21 260.3,23.7 257.6,26.4 255,26.4 252.3,22.8 248.7,20.2 247.8,15.7" fill="#1ab6c6" stroke="#1ab6c6" stroke-width="0.5" stroke-linejoin="round"/>
<polygon points="249.2,13 256.7,12.6 267.4,13 269.7,14.8 269.7,19.3 267.4,20.6 263.9,21 260.3,23.7 257.6,26.4 255,26.4 252.3,22.8 248.7,20.2 247.8,15.7" fill="url(#spk2)" stroke="none" stroke-width="0" />
<polygon points="249.2,13 256.7,12.6 267.4,13 269.7,14.8 269.7,19.3 267.4,20.6 263.9,21 260.3,23.7 257.6,26.4 255,26.4 252.3,22.8 248.7,20.2 247.8,15.7" fill="url(#blot)" stroke="none" stroke-width="0" />
<circle cx="269.68" cy="12.63" r="0.5" fill="#1ab6c6"/>
<circle cx="261.84" cy="13.28" r="0.5" fill="#1ab6c6"/>
<circle cx="248.06" cy="16.39" r="0.5" fill="#1ab6c6"/>
<circle cx="263.18" cy="20.58" r="0.5" fill="#1ab6c6"/>
<circle cx="260.55" cy="24.71" r="0.5" fill="#1ab6c6"/>
<circle cx="264.84" cy="11.44" r="0.5" fill="#1ab6c6"/>
<circle cx="258.8" cy="27" r="0.5" fill="#1ab6c6"/>
<circle cx="261.38" cy="23.8" r="0.5" fill="#1ab6c6"/>
<circle cx="258.31" cy="25.76" r="0.5" fill="#1ab6c6"/>
<circle cx="247.77" cy="12.93" r="0.5" fill="#1ab6c6"/>
<circle cx="253.92" cy="26.81" r="0.5" fill="#1ab6c6"/>
<circle cx="246.71" cy="15.79" r="0.5" fill="#1ab6c6"/>
<circle cx="247.83" cy="17.32" r="0.5" fill="#1ab6c6"/>
<circle cx="255.99" cy="25.77" r="0.5" fill="#1ab6c6"/>
<circle cx="252.37" cy="24.31" r="0.5" fill="#1ab6c6"/>
<circle cx="260.29" cy="21.77" r="0.5" fill="#1ab6c6"/>
<circle cx="248.89" cy="14.18" r="0.5" fill="#1ab6c6"/>
<circle cx="248.76" cy="15.39" r="0.5" fill="#1ab6c6"/>
<circle cx="251.36" cy="21.55" r="0.5" fill="#1ab6c6"/>
<circle cx="263.31" cy="21.9" r="0.5" fill="#1ab6c6"/>
<polygon points="239.8,26.4 247.8,25.5 251.4,21.9 255.8,25.5 256.7,30 256.3,34.4 254.1,38 250.5,39.3 245.2,41.5 242.5,40.2 239.8,36.2 238.5,30.8" fill="#52e6d8" stroke="#52e6d8" stroke-width="0.5" stroke-linejoin="round"/>
<polygon points="239.8,26.4 247.8,25.5 251.4,21.9 255.8,25.5 256.7,30 256.3,34.4 254.1,38 250.5,39.3 245.2,41.5 242.5,40.2 239.8,36.2 238.5,30.8" fill="url(#spk2)" stroke="none" stroke-width="0" />
<polygon points="239.8,26.4 247.8,25.5 251.4,21.9 255.8,25.5 256.7,30 256.3,34.4 254.1,38 250.5,39.3 245.2,41.5 242.5,40.2 239.8,36.2 238.5,30.8" fill="url(#blot)" stroke="none" stroke-width="0" />
<circle cx="255.15" cy="29.5" r="0.5" fill="#52e6d8"/>
<circle cx="245.79" cy="39.12" r="0.5" fill="#52e6d8"/>
<circle cx="248.28" cy="41.46" r="0.5" fill="#52e6d8"/>
<circle cx="247.79" cy="40.16" r="0.5" fill="#52e6d8"/>
<circle cx="251.31" cy="24.1" r="0.5" fill="#52e6d8"/>
<circle cx="251.98" cy="37.57" r="0.5" fill="#52e6d8"/>
<circle cx="243.28" cy="41.06" r="0.5" fill="#52e6d8"/>
<circle cx="257.21" cy="33.29" r="0.5" fill="#52e6d8"/>
<circle cx="239.29" cy="28.06" r="0.5" fill="#52e6d8"/>
<circle cx="242.69" cy="39.63" r="0.5" fill="#52e6d8"/>
<circle cx="247.91" cy="24.6" r="0.5" fill="#52e6d8"/>
<circle cx="239.64" cy="33.21" r="0.5" fill="#52e6d8"/>
<circle cx="243.19" cy="40.53" r="0.5" fill="#52e6d8"/>
<circle cx="253.29" cy="39.34" r="0.5" fill="#52e6d8"/>
<circle cx="248.22" cy="26.18" r="0.5" fill="#52e6d8"/>
<circle cx="253.92" cy="24.55" r="0.5" fill="#52e6d8"/>
<circle cx="241.65" cy="37" r="0.5" fill="#52e6d8"/>
<circle cx="240.58" cy="39.07" r="0.5" fill="#52e6d8"/>
<circle cx="237.2" cy="31.82" r="0.5" fill="#52e6d8"/>
<circle cx="249.33" cy="38.93" r="0.5" fill="#52e6d8"/>
<circle cx="249.5" cy="39.5" r="0.5" fill="#52e6d8"/>
<circle cx="243.1" cy="26.22" r="0.5" fill="#52e6d8"/>
<circle cx="258.09" cy="31.61" r="0.5" fill="#52e6d8"/>
<circle cx="248.3" cy="26.55" r="0.5" fill="#52e6d8"/>
<circle cx="252.29" cy="38.99" r="0.5" fill="#52e6d8"/>
<polygon points="271,59.5 274.8,57.8 278.8,59.6 282.3,64 285.6,69.2 288.2,74.2 289.2,79.5 288.4,84.6 286.4,88.6 284,90.4 282.2,88 280.6,83.4 278.6,78.2 275.6,73 272,68 270,63" fill="#0b14a6" stroke="#0b14a6" stroke-width="0.5" stroke-linejoin="round"/>
<polygon points="271,59.5 274.8,57.8 278.8,59.6 282.3,64 285.6,69.2 288.2,74.2 289.2,79.5 288.4,84.6 286.4,88.6 284,90.4 282.2,88 280.6,83.4 278.6,78.2 275.6,73 272,68 270,63" fill="url(#spk2)" stroke="none" stroke-width="0" />
<polygon points="271,59.5 274.8,57.8 278.8,59.6 282.3,64 285.6,69.2 288.2,74.2 289.2,79.5 288.4,84.6 286.4,88.6 284,90.4 282.2,88 280.6,83.4 278.6,78.2 275.6,73 272,68 270,63" fill="url(#blot)" stroke="none" stroke-width="0" />
<circle cx="280.35" cy="82.19" r="0.5" fill="#0b14a6"/>
<circle cx="282.09" cy="65.93" r="0.5" fill="#0b14a6"/>
<circle cx="274.88" cy="57.12" r="0.5" fill="#0b14a6"/>
<circle cx="275.6" cy="74.14" r="0.5" fill="#0b14a6"/>
<circle cx="276.78" cy="60.36" r="0.5" fill="#0b14a6"/>
<circle cx="275.85" cy="58.54" r="0.5" fill="#0b14a6"/>
<circle cx="284.38" cy="67.55" r="0.5" fill="#0b14a6"/>
<circle cx="284.66" cy="66.62" r="0.5" fill="#0b14a6"/>
<circle cx="281.16" cy="62.07" r="0.5" fill="#0b14a6"/>
<circle cx="272.69" cy="70.47" r="0.5" fill="#0b14a6"/>
<circle cx="280.94" cy="82.48" r="0.5" fill="#0b14a6"/>
<circle cx="287.6" cy="84.91" r="0.5" fill="#0b14a6"/>
<circle cx="280.35" cy="86.18" r="0.5" fill="#0b14a6"/>
<circle cx="282.92" cy="66.16" r="0.5" fill="#0b14a6"/>
<circle cx="271.9" cy="60.17" r="0.5" fill="#0b14a6"/>
<circle cx="281.18" cy="86.42" r="0.5" fill="#0b14a6"/>
<circle cx="270.56" cy="66.92" r="0.5" fill="#0b14a6"/>
<circle cx="279.66" cy="60.34" r="0.5" fill="#0b14a6"/>
<circle cx="271.07" cy="67.12" r="0.5" fill="#0b14a6"/>
<circle cx="274.11" cy="58.26" r="0.5" fill="#0b14a6"/>
<circle cx="270.92" cy="61.61" r="0.5" fill="#0b14a6"/>
<circle cx="288.94" cy="86.18" r="0.5" fill="#0b14a6"/>
<circle cx="288.81" cy="77.81" r="0.5" fill="#0b14a6"/>
<circle cx="271.78" cy="68.41" r="0.5" fill="#0b14a6"/>
<circle cx="278.85" cy="78.99" r="0.5" fill="#0b14a6"/>
<circle cx="278.56" cy="59.52" r="0.5" fill="#0b14a6"/>
<circle cx="269.81" cy="59.39" r="0.5" fill="#0b14a6"/>
<circle cx="286.27" cy="71.51" r="0.5" fill="#0b14a6"/>
<circle cx="287.44" cy="73.03" r="0.5" fill="#0b14a6"/>
<circle cx="277.81" cy="60.07" r="0.5" fill="#0b14a6"/>
<polygon points="284,42 290,40.8 296.3,42.4 298.2,45.8 296.8,49.8 292.2,51.6 287,51.2 284.6,48.8 283.2,45.2" fill="#1a22f0" stroke="#1a22f0" stroke-width="0.5" stroke-linejoin="round"/>
<polygon points="284,42 290,40.8 296.3,42.4 298.2,45.8 296.8,49.8 292.2,51.6 287,51.2 284.6,48.8 283.2,45.2" fill="url(#spk)" stroke="none" stroke-width="0" />
<circle cx="292.29" cy="39.98" r="0.5" fill="#1a22f0"/>
<circle cx="284" cy="44.75" r="0.5" fill="#1a22f0"/>
<circle cx="286.6" cy="42.41" r="0.5" fill="#1a22f0"/>
<circle cx="284.94" cy="47.72" r="0.5" fill="#1a22f0"/>
<circle cx="284.49" cy="43.48" r="0.5" fill="#1a22f0"/>
<circle cx="294.79" cy="40.85" r="0.5" fill="#1a22f0"/>
<circle cx="284.89" cy="47.97" r="0.5" fill="#1a22f0"/>
<circle cx="298.17" cy="47.32" r="0.5" fill="#1a22f0"/>
<circle cx="286.57" cy="41.79" r="0.5" fill="#1a22f0"/>
<circle cx="290.73" cy="50.43" r="0.5" fill="#1a22f0"/>
<circle cx="282.47" cy="41.63" r="0.5" fill="#1a22f0"/>
<circle cx="286.55" cy="49.16" r="0.5" fill="#1a22f0"/>
<circle cx="283.71" cy="43.82" r="0.5" fill="#1a22f0"/>
<circle cx="296.78" cy="47.63" r="0.5" fill="#1a22f0"/>
<circle cx="284.1" cy="43.61" r="0.5" fill="#1a22f0"/>
<line x1="277.2" y1="50.8" x2="283.7" y2="48.2" stroke="#1a22f0" stroke-width="1" />
<line x1="272.5" y1="40.9" x2="275.5" y2="41.3" stroke="#1a22f0" stroke-width="0.9" />
<line x1="277.5" y1="41.8" x2="279.7" y2="42.2" stroke="#1a22f0" stroke-width="0.9" />
<line x1="283.3" y1="103.3" x2="283.6" y2="111" stroke="#2a5ab8" stroke-width="1.6" />
<line x1="282.8" y1="110.6" x2="274.8" y2="119" stroke="#2a5ab8" stroke-width="0.9" />
<line x1="284" y1="110.2" x2="286.3" y2="112.4" stroke="#2a5ab8" stroke-width="0.9" />
<circle cx="283.3" cy="113.07" r="0.5" fill="#2a5ab8"/>
<circle cx="283.88" cy="110.23" r="0.5" fill="#2a5ab8"/>
<circle cx="283.52" cy="108.77" r="0.5" fill="#2a5ab8"/>
<circle cx="283.55" cy="107.99" r="0.5" fill="#2a5ab8"/>
<circle cx="282.44" cy="106.28" r="0.5" fill="#2a5ab8"/>
<circle cx="282.11" cy="108.68" r="0.5" fill="#2a5ab8"/>
<circle cx="283.54" cy="111.52" r="0.5" fill="#2a5ab8"/>
<circle cx="283.49" cy="108.78" r="0.5" fill="#2a5ab8"/>
<circle cx="252.79" cy="59.53" r="0.45" fill="#6a4fc2"/>
<circle cx="237.45" cy="42.15" r="0.45" fill="#6a4fc2"/>
<circle cx="248.76" cy="62.87" r="0.45" fill="#6a4fc2"/>
<circle cx="249.26" cy="40.04" r="0.45" fill="#6a4fc2"/>
<circle cx="237.67" cy="48.81" r="0.45" fill="#6a4fc2"/>
<circle cx="254.63" cy="49.15" r="0.45" fill="#6a4fc2"/>
<circle cx="241.74" cy="47.45" r="0.45" fill="#6a4fc2"/>
<circle cx="246.97" cy="43.4" r="0.45" fill="#6a4fc2"/>
<circle cx="245.32" cy="51.34" r="0.45" fill="#6a4fc2"/>
<circle cx="261.38" cy="48.8" r="0.45" fill="#6a4fc2"/>
<circle cx="220.66" cy="46.57" r="0.45" fill="#f5a02c"/>
<circle cx="235.96" cy="48.61" r="0.45" fill="#f5a02c"/>
<circle cx="219.02" cy="48.39" r="0.45" fill="#f5a02c"/>
<circle cx="215.33" cy="44.75" r="0.45" fill="#f5a02c"/>
<circle cx="220.79" cy="45.61" r="0.45" fill="#f5a02c"/>
<circle cx="222.25" cy="46.34" r="0.45" fill="#f5a02c"/>
<circle cx="208.67" cy="42.87" r="0.45" fill="#f5a02c"/>
<circle cx="213.51" cy="40.75" r="0.45" fill="#f5a02c"/>
<circle cx="217.59" cy="46.09" r="0.45" fill="#f5a02c"/>
<circle cx="222.9" cy="44.28" r="0.45" fill="#f5a02c"/>
<circle cx="245.02" cy="28.57" r="0.45" fill="#52e6d8"/>
<circle cx="233.96" cy="31.95" r="0.45" fill="#52e6d8"/>
<circle cx="226.72" cy="30.7" r="0.45" fill="#52e6d8"/>
<circle cx="228.89" cy="32.6" r="0.45" fill="#52e6d8"/>
<circle cx="234.32" cy="37.05" r="0.45" fill="#52e6d8"/>
<circle cx="233.2" cy="37.33" r="0.45" fill="#52e6d8"/>
<text x="269.3" y="28.8" font-size="6.8" fill="#333" >1.</text>
<text x="236.1" y="25.6" font-size="6.8" fill="#333" >3.</text>
<text x="257.3" y="45.8" font-size="6.8" fill="#333" >2.</text>
<text x="183.6" y="54.9" font-size="6.8" fill="#333" >4.</text>
<text x="207.3" y="79.8" font-size="6.8" fill="#333" >5.</text>
<text x="263.5" y="85.9" font-size="6.8" fill="#333" >9.</text>
<text x="277.3" y="58.6" font-size="6.8" fill="#333" >6.</text>
<text x="291" y="79.9" font-size="6.8" fill="#333" >7.</text>
<text x="284.8" y="117" font-size="6.8" fill="#333" >8.</text>
<line x1="182.9" y1="94.3" x2="182.9" y2="110.45" stroke="#3d4d6b" stroke-width="1.1" />
<line x1="182.35" y1="109.9" x2="205.2" y2="109.9" stroke="#3d4d6b" stroke-width="1.1" />
<polygon points="181.2,95.1 184.6,95.1 182.9,92.1" fill="#3d4d6b" stroke="none" stroke-width="0" />
<polygon points="204.4,108.2 204.4,111.6 207.4,109.9" fill="#3d4d6b" stroke="none" stroke-width="0" />
<text x="179.2" y="112.7" font-size="6.4" textLength="22.5" lengthAdjust="spacingAndGlyphs" fill="#333" transform="rotate(-90 179.2 112.7)" >UMAP2</text>
<text x="182.7" y="117.6" font-size="6.4" textLength="21.6" lengthAdjust="spacingAndGlyphs" fill="#333" >UMAP1</text>
<circle cx="156.2" cy="129.3" r="3.6" fill="#1aa3b4"/>
<text x="156.2" y="131.5" font-size="6.2" fill="#111" text-anchor="middle" >1</text>
<text x="163.4" y="131.9" font-size="7" textLength="122.8" lengthAdjust="spacingAndGlyphs" >Post-capillary endothelial cells (pcEC)</text>
<circle cx="156.2" cy="139.76" r="3.6" fill="#0f8e6e"/>
<text x="156.2" y="141.96" font-size="6.2" fill="#111" text-anchor="middle" >2</text>
<text x="163.4" y="142.36" font-size="7" textLength="110.3" lengthAdjust="spacingAndGlyphs" >Lymphatic endothelial cells (lyEC)</text>
<circle cx="156.2" cy="150.22" r="3.6" fill="#3ee4d4"/>
<text x="156.2" y="152.42" font-size="6.2" fill="#111" text-anchor="middle" >3</text>
<text x="163.4" y="152.82" font-size="7" textLength="104.9" lengthAdjust="spacingAndGlyphs" >Arteriolar endothelial cells (aEC)</text>
<circle cx="156.2" cy="160.68" r="3.6" fill="#c42418"/>
<text x="156.2" y="162.88" font-size="6.2" fill="#fff" text-anchor="middle" >4</text>
<text x="163.4" y="163.28" font-size="7" textLength="122.1" lengthAdjust="spacingAndGlyphs" >Vascular smooth muscle cells (vSMC)</text>
<circle cx="156.2" cy="171.14" r="3.6" fill="#f5a01c"/>
<text x="156.2" y="173.34" font-size="6.2" fill="#111" text-anchor="middle" >5</text>
<text x="163.4" y="173.74" font-size="7" textLength="49" lengthAdjust="spacingAndGlyphs" >Pericytes (PC)</text>
<circle cx="156.2" cy="181.6" r="3.6" fill="#1414ee"/>
<text x="156.2" y="183.8" font-size="6.2" fill="#fff" text-anchor="middle" >6</text>
<text x="163.4" y="184.2" font-size="7" textLength="112.1" lengthAdjust="spacingAndGlyphs" >Cort. thymic epithelial cells (cTEC)</text>
<circle cx="156.2" cy="192.06" r="3.6" fill="#241a82"/>
<text x="156.2" y="194.26" font-size="6.2" fill="#fff" text-anchor="middle" >7</text>
<text x="163.4" y="194.66" font-size="7" textLength="165.6" lengthAdjust="spacingAndGlyphs" >Immature medullary thymic epithelial cells (mTECi)</text>
<circle cx="156.2" cy="202.52" r="3.6" fill="#1b5a98"/>
<text x="156.2" y="204.72" font-size="6.2" fill="#fff" text-anchor="middle" >8</text>
<text x="163.4" y="205.12" font-size="7" textLength="162" lengthAdjust="spacingAndGlyphs" >Mature medullary thymic epithelial cells (mTECm)</text>
<circle cx="156.2" cy="212.98" r="3.6" fill="#a040f2"/>
<text x="156.2" y="215.18" font-size="6.2" fill="#fff" text-anchor="middle" >9</text>
<text x="163.4" y="215.58" font-size="7" textLength="116.7" lengthAdjust="spacingAndGlyphs" >Thymic mesenchymal cells (ThyMC)</text>
<text x="341.4" y="8.7" font-size="12.4" font-weight="bold" fill="#000" stroke="#000" stroke-width="0.45">c</text>
<text x="370" y="9.1" font-size="8.4" textLength="107" lengthAdjust="spacingAndGlyphs" >Mouse thymus stromal cells</text>
<polygon points="428,18.5 432.5,13.5 437.8,11.2 441.2,13 442.6,17.5 444,22 443.4,24.6 440,25.6 434.5,26.4 430,25 427.4,21.5" fill="#b01a10" stroke="none" stroke-width="0" fill-opacity="0.12"/>
<circle cx="433.92" cy="21.59" r="0.52" fill="#b01a10"/>
<circle cx="439.98" cy="13.44" r="0.7" fill="#b01a10"/>
<circle cx="438.39" cy="13.28" r="0.64" fill="#b01a10"/>
<circle cx="434.83" cy="17.47" r="0.78" fill="#b01a10"/>
<circle cx="430.7" cy="16.22" r="0.59" fill="#b01a10"/>
<circle cx="431" cy="20.09" r="0.64" fill="#b01a10"/>
<circle cx="443.23" cy="23.95" r="0.59" fill="#b01a10"/>
<circle cx="430.78" cy="23.91" r="0.78" fill="#b01a10"/>
<circle cx="441.81" cy="21.1" r="0.55" fill="#b01a10"/>
<circle cx="440.62" cy="22.29" r="0.54" fill="#b01a10"/>
<circle cx="438.04" cy="14.53" r="0.49" fill="#b01a10"/>
<circle cx="432.98" cy="16.28" r="0.6" fill="#b01a10"/>
<circle cx="438.14" cy="23.91" r="0.77" fill="#b01a10"/>
<circle cx="440.51" cy="15.86" r="0.53" fill="#b01a10"/>
<circle cx="437.75" cy="19.5" r="0.68" fill="#b01a10"/>
<circle cx="442.69" cy="20.34" r="0.69" fill="#b01a10"/>
<circle cx="442.51" cy="21.07" r="0.78" fill="#b01a10"/>
<circle cx="430.67" cy="18.11" r="0.72" fill="#b01a10"/>
<circle cx="434.78" cy="23.19" r="0.65" fill="#b01a10"/>
<circle cx="430.62" cy="16.3" r="0.69" fill="#b01a10"/>
<circle cx="441.58" cy="18.43" r="0.63" fill="#b01a10"/>
<circle cx="440.49" cy="15.43" r="0.59" fill="#b01a10"/>
<circle cx="437.57" cy="20.87" r="0.49" fill="#b01a10"/>
<circle cx="439.44" cy="21.73" r="0.77" fill="#b01a10"/>
<circle cx="440.14" cy="15.07" r="0.71" fill="#b01a10"/>
<circle cx="437.59" cy="14.34" r="0.54" fill="#b01a10"/>
<circle cx="441.02" cy="15.74" r="0.54" fill="#b01a10"/>
<circle cx="434.95" cy="21.76" r="0.64" fill="#b01a10"/>
<circle cx="441.67" cy="17.3" r="0.64" fill="#b01a10"/>
<circle cx="439.3" cy="18.22" r="0.7" fill="#b01a10"/>
<circle cx="435.15" cy="13.23" r="0.52" fill="#b01a10"/>
<circle cx="440.4" cy="22.52" r="0.76" fill="#b01a10"/>
<circle cx="438.86" cy="20.01" r="0.53" fill="#b01a10"/>
<circle cx="434.45" cy="13.34" r="0.59" fill="#b01a10"/>
<circle cx="432.5" cy="17.67" r="0.69" fill="#b01a10"/>
<circle cx="436.39" cy="14.89" r="0.71" fill="#b01a10"/>
<circle cx="439.6" cy="23.77" r="0.49" fill="#b01a10"/>
<circle cx="437.6" cy="24.81" r="0.56" fill="#b01a10"/>
<circle cx="430.76" cy="23.57" r="0.59" fill="#b01a10"/>
<circle cx="434.06" cy="23.63" r="0.6" fill="#b01a10"/>
<circle cx="433.14" cy="21.81" r="0.59" fill="#b01a10"/>
<circle cx="431.53" cy="20.7" r="0.62" fill="#b01a10"/>
<circle cx="435.7" cy="25.42" r="0.56" fill="#b01a10"/>
<circle cx="435.41" cy="15.72" r="0.62" fill="#b01a10"/>
<circle cx="433.7" cy="22.72" r="0.57" fill="#b01a10"/>
<circle cx="442.55" cy="20.01" r="0.6" fill="#b01a10"/>
<circle cx="440.3" cy="14.74" r="0.66" fill="#b01a10"/>
<circle cx="441.45" cy="19.42" r="0.58" fill="#b01a10"/>
<circle cx="428.99" cy="19.93" r="0.54" fill="#b01a10"/>
<circle cx="433.6" cy="19.45" r="0.76" fill="#b01a10"/>
<circle cx="438.58" cy="19.09" r="0.74" fill="#b01a10"/>
<circle cx="432.52" cy="17.09" r="0.68" fill="#b01a10"/>
<circle cx="436.6" cy="14.57" r="0.6" fill="#b01a10"/>
<circle cx="441.07" cy="14.88" r="0.69" fill="#b01a10"/>
<circle cx="438.76" cy="16.12" r="0.77" fill="#b01a10"/>
<circle cx="431.52" cy="18.67" r="0.78" fill="#b01a10"/>
<circle cx="434.19" cy="19.39" r="0.61" fill="#b01a10"/>
<circle cx="440.73" cy="17.89" r="0.62" fill="#b01a10"/>
<circle cx="435.34" cy="21.62" r="0.75" fill="#b01a10"/>
<circle cx="441.13" cy="22.25" r="0.58" fill="#b01a10"/>
<circle cx="436.85" cy="25.03" r="0.58" fill="#b01a10"/>
<circle cx="433.86" cy="17.55" r="0.76" fill="#b01a10"/>
<circle cx="438.76" cy="23.95" r="0.49" fill="#b01a10"/>
<circle cx="439.52" cy="18.05" r="0.6" fill="#b01a10"/>
<circle cx="440.96" cy="22.38" r="0.75" fill="#b01a10"/>
<circle cx="439.66" cy="25.03" r="0.61" fill="#b01a10"/>
<circle cx="436.63" cy="23.13" r="0.62" fill="#b01a10"/>
<circle cx="429.68" cy="20.1" r="0.74" fill="#b01a10"/>
<circle cx="433.73" cy="14.67" r="0.58" fill="#b01a10"/>
<circle cx="432.6" cy="15.34" r="0.61" fill="#b01a10"/>
<circle cx="438.52" cy="16.41" r="0.54" fill="#b01a10"/>
<circle cx="431.15" cy="15.15" r="0.75" fill="#b01a10"/>
<circle cx="430.21" cy="22.66" r="0.51" fill="#b01a10"/>
<circle cx="440.45" cy="15.24" r="0.71" fill="#b01a10"/>
<circle cx="428.97" cy="23.36" r="0.64" fill="#b01a10"/>
<circle cx="435.47" cy="16.55" r="0.69" fill="#b01a10"/>
<circle cx="437.38" cy="15.97" r="0.73" fill="#b01a10"/>
<circle cx="436.51" cy="22.96" r="0.52" fill="#b01a10"/>
<circle cx="439.14" cy="20.48" r="0.74" fill="#b01a10"/>
<circle cx="442.08" cy="19.58" r="0.66" fill="#b01a10"/>
<circle cx="440.13" cy="15.21" r="0.64" fill="#b01a10"/>
<circle cx="440.46" cy="20.24" r="0.64" fill="#b01a10"/>
<circle cx="437.58" cy="13.46" r="0.77" fill="#b01a10"/>
<circle cx="435.28" cy="19.32" r="0.73" fill="#b01a10"/>
<circle cx="434.93" cy="13.94" r="0.62" fill="#b01a10"/>
<circle cx="433.3" cy="17.12" r="0.75" fill="#b01a10"/>
<circle cx="441.07" cy="16.31" r="0.63" fill="#b01a10"/>
<circle cx="438.41" cy="14.06" r="0.52" fill="#b01a10"/>
<circle cx="439.15" cy="22.42" r="0.66" fill="#b01a10"/>
<circle cx="433.14" cy="24.24" r="0.72" fill="#b01a10"/>
<circle cx="437.97" cy="15.6" r="0.53" fill="#b01a10"/>
<circle cx="429.03" cy="23.53" r="0.73" fill="#b01a10"/>
<circle cx="433.17" cy="13.94" r="0.5" fill="#b01a10"/>
<circle cx="434.27" cy="15.73" r="0.5" fill="#b01a10"/>
<circle cx="432.34" cy="23.68" r="0.5" fill="#b01a10"/>
<circle cx="434.11" cy="19.02" r="0.53" fill="#b01a10"/>
<circle cx="441.71" cy="21.92" r="0.75" fill="#b01a10"/>
<circle cx="432.8" cy="14.99" r="0.74" fill="#b01a10"/>
<circle cx="437.46" cy="25.24" r="0.59" fill="#b01a10"/>
<circle cx="434.26" cy="22.11" r="0.74" fill="#b01a10"/>
<circle cx="442.73" cy="19.83" r="0.52" fill="#b01a10"/>
<circle cx="438.87" cy="21.08" r="0.51" fill="#b01a10"/>
<circle cx="442.58" cy="21.23" r="0.63" fill="#b01a10"/>
<circle cx="433.11" cy="13.64" r="0.62" fill="#b01a10"/>
<circle cx="433.47" cy="14.74" r="0.67" fill="#b01a10"/>
<circle cx="438.39" cy="25.71" r="0.77" fill="#b01a10"/>
<circle cx="435.13" cy="22.09" r="0.59" fill="#b01a10"/>
<circle cx="434.6" cy="19.82" r="0.77" fill="#b01a10"/>
<circle cx="432.98" cy="23.43" r="0.77" fill="#b01a10"/>
<circle cx="435.24" cy="12.41" r="0.66" fill="#b01a10"/>
<circle cx="437.15" cy="21.55" r="0.71" fill="#b01a10"/>
<circle cx="435.09" cy="19.55" r="0.71" fill="#b01a10"/>
<circle cx="434.92" cy="13.61" r="0.66" fill="#b01a10"/>
<circle cx="433.9" cy="21.61" r="0.77" fill="#b01a10"/>
<circle cx="429.52" cy="21.19" r="0.66" fill="#b01a10"/>
<circle cx="442.99" cy="21.77" r="0.67" fill="#b01a10"/>
<circle cx="434.02" cy="18.27" r="0.65" fill="#b01a10"/>
<circle cx="434.8" cy="25.69" r="0.62" fill="#b01a10"/>
<circle cx="438.65" cy="22.95" r="0.76" fill="#b01a10"/>
<circle cx="430.23" cy="16.36" r="0.76" fill="#b01a10"/>
<polygon points="452.5,25 457.5,24.6 461.2,26 460,29.6 455.5,30.6 452.5,28.5" fill="#f5a540" stroke="none" stroke-width="0" fill-opacity="0.3"/>
<circle cx="457.1" cy="28.11" r="0.73" fill="#f5a540"/>
<circle cx="455.67" cy="30.29" r="0.61" fill="#f5a540"/>
<circle cx="455.16" cy="25.17" r="0.63" fill="#f5a540"/>
<circle cx="453.85" cy="26.25" r="0.66" fill="#f5a540"/>
<circle cx="459.25" cy="29.12" r="0.51" fill="#f5a540"/>
<circle cx="453.03" cy="26.13" r="0.65" fill="#f5a540"/>
<circle cx="459.8" cy="29.4" r="0.76" fill="#f5a540"/>
<circle cx="457.62" cy="28.42" r="0.57" fill="#f5a540"/>
<circle cx="455.23" cy="25.84" r="0.64" fill="#f5a540"/>
<circle cx="457.78" cy="28.04" r="0.6" fill="#f5a540"/>
<circle cx="456.19" cy="26.09" r="0.72" fill="#f5a540"/>
<circle cx="457.56" cy="29.09" r="0.72" fill="#f5a540"/>
<circle cx="454.94" cy="25.3" r="0.56" fill="#f5a540"/>
<circle cx="456.03" cy="29.26" r="0.58" fill="#f5a540"/>
<circle cx="456.15" cy="27.37" r="0.52" fill="#f5a540"/>
<circle cx="454.89" cy="26" r="0.57" fill="#f5a540"/>
<circle cx="453.1" cy="26.4" r="0.51" fill="#f5a540"/>
<circle cx="457.06" cy="27.04" r="0.55" fill="#f5a540"/>
<circle cx="460.71" cy="26.46" r="0.64" fill="#f5a540"/>
<circle cx="458.89" cy="26.62" r="0.58" fill="#f5a540"/>
<circle cx="459.2" cy="29.05" r="0.58" fill="#f5a540"/>
<circle cx="455.66" cy="26.27" r="0.76" fill="#f5a540"/>
<circle cx="457.85" cy="26.16" r="0.64" fill="#f5a540"/>
<circle cx="453" cy="26.22" r="0.63" fill="#f5a540"/>
<circle cx="457.26" cy="29.18" r="0.56" fill="#f5a540"/>
<circle cx="453.79" cy="27.39" r="0.66" fill="#f5a540"/>
<circle cx="459.41" cy="26.2" r="0.71" fill="#f5a540"/>
<circle cx="458.62" cy="29.75" r="0.7" fill="#f5a540"/>
<circle cx="459.99" cy="28.22" r="0.64" fill="#f5a540"/>
<circle cx="456.52" cy="27.04" r="0.62" fill="#f5a540"/>
<circle cx="456.79" cy="26.95" r="0.52" fill="#f5a540"/>
<circle cx="455.96" cy="30.27" r="0.57" fill="#f5a540"/>
<circle cx="456.45" cy="25.91" r="0.74" fill="#f5a540"/>
<circle cx="460.81" cy="26.46" r="0.68" fill="#f5a540"/>
<circle cx="459.06" cy="28.33" r="0.52" fill="#f5a540"/>
<circle cx="454.55" cy="28.93" r="0.67" fill="#f5a540"/>
<circle cx="458.34" cy="26.28" r="0.74" fill="#f5a540"/>
<circle cx="459.26" cy="27.51" r="0.74" fill="#f5a540"/>
<circle cx="455.13" cy="27.8" r="0.64" fill="#f5a540"/>
<circle cx="455.47" cy="29.28" r="0.57" fill="#f5a540"/>
<circle cx="455.16" cy="25.63" r="0.63" fill="#f5a540"/>
<circle cx="452.82" cy="24.98" r="0.51" fill="#f5a540"/>
<circle cx="460.02" cy="28.21" r="0.74" fill="#f5a540"/>
<circle cx="459.87" cy="27.21" r="0.66" fill="#f5a540"/>
<circle cx="453.95" cy="27.27" r="0.51" fill="#f5a540"/>
<circle cx="446.54" cy="26.56" r="0.5" fill="#f5a540"/>
<circle cx="452.81" cy="26.3" r="0.5" fill="#f5a540"/>
<circle cx="447.9" cy="24.79" r="0.5" fill="#f5a540"/>
<circle cx="451.68" cy="26.76" r="0.5" fill="#f5a540"/>
<circle cx="449.68" cy="27.07" r="0.5" fill="#f5a540"/>
<circle cx="446.34" cy="26.54" r="0.5" fill="#f5a540"/>
<circle cx="445.67" cy="26.22" r="0.5" fill="#f5a540"/>
<circle cx="449.78" cy="26.64" r="0.5" fill="#f5a540"/>
<circle cx="444.13" cy="26.34" r="0.5" fill="#f5a540"/>
<circle cx="447.73" cy="25.79" r="0.5" fill="#f5a540"/>
<circle cx="451.03" cy="25.67" r="0.5" fill="#f5a540"/>
<circle cx="447.37" cy="25.85" r="0.5" fill="#f5a540"/>
<polygon points="401,25.6 403.6,24.5 408.2,27.3 411.6,29.8 411,32.2 407,31.4 402.4,28.6" fill="#1a2af0" stroke="none" stroke-width="0" fill-opacity="0.7"/>
<circle cx="406.82" cy="30.28" r="0.73" fill="#1a2af0"/>
<circle cx="408.92" cy="30.31" r="0.78" fill="#1a2af0"/>
<circle cx="403.91" cy="27.32" r="0.72" fill="#1a2af0"/>
<circle cx="407.2" cy="30.28" r="0.61" fill="#1a2af0"/>
<circle cx="401.55" cy="26.31" r="0.6" fill="#1a2af0"/>
<circle cx="402.66" cy="25.76" r="0.52" fill="#1a2af0"/>
<circle cx="402.7" cy="25.09" r="0.78" fill="#1a2af0"/>
<circle cx="406.79" cy="30.83" r="0.8" fill="#1a2af0"/>
<circle cx="406.25" cy="27.54" r="0.62" fill="#1a2af0"/>
<circle cx="403.81" cy="29.08" r="0.8" fill="#1a2af0"/>
<circle cx="406.34" cy="30.33" r="0.77" fill="#1a2af0"/>
<circle cx="409.8" cy="29.66" r="0.67" fill="#1a2af0"/>
<circle cx="402.04" cy="27.41" r="0.76" fill="#1a2af0"/>
<circle cx="405.69" cy="29.74" r="0.58" fill="#1a2af0"/>
<circle cx="409.33" cy="30.76" r="0.5" fill="#1a2af0"/>
<circle cx="404.1" cy="27.9" r="0.62" fill="#1a2af0"/>
<circle cx="406.54" cy="29.26" r="0.66" fill="#1a2af0"/>
<circle cx="404.72" cy="28.04" r="0.71" fill="#1a2af0"/>
<circle cx="410.37" cy="29.52" r="0.53" fill="#1a2af0"/>
<circle cx="408.38" cy="30.74" r="0.61" fill="#1a2af0"/>
<circle cx="405.83" cy="26.37" r="0.75" fill="#1a2af0"/>
<circle cx="404.23" cy="26.42" r="0.81" fill="#1a2af0"/>
<circle cx="405.37" cy="28.07" r="0.71" fill="#1a2af0"/>
<circle cx="408.31" cy="28.3" r="0.74" fill="#1a2af0"/>
<circle cx="409.29" cy="29.71" r="0.79" fill="#1a2af0"/>
<circle cx="402.54" cy="27.57" r="0.58" fill="#1a2af0"/>
<circle cx="403.43" cy="28.69" r="0.65" fill="#1a2af0"/>
<circle cx="402.57" cy="27.9" r="0.63" fill="#1a2af0"/>
<circle cx="407.47" cy="31.19" r="0.68" fill="#1a2af0"/>
<circle cx="404.8" cy="27.73" r="0.67" fill="#1a2af0"/>
<circle cx="404.92" cy="27.31" r="0.67" fill="#1a2af0"/>
<circle cx="406.03" cy="29.26" r="0.76" fill="#1a2af0"/>
<circle cx="408.92" cy="28.03" r="0.53" fill="#1a2af0"/>
<circle cx="404.71" cy="26.71" r="0.73" fill="#1a2af0"/>
<circle cx="404.55" cy="27.95" r="0.75" fill="#1a2af0"/>
<circle cx="401.76" cy="25.42" r="0.74" fill="#1a2af0"/>
<circle cx="403.12" cy="27.76" r="0.52" fill="#1a2af0"/>
<circle cx="401.8" cy="27.24" r="0.59" fill="#1a2af0"/>
<circle cx="403.93" cy="26" r="0.63" fill="#1a2af0"/>
<circle cx="402.88" cy="28.3" r="0.54" fill="#1a2af0"/>
<circle cx="401.46" cy="26.36" r="0.65" fill="#1a2af0"/>
<circle cx="404.02" cy="28.77" r="0.66" fill="#1a2af0"/>
<circle cx="410.1" cy="31.97" r="0.61" fill="#1a2af0"/>
<circle cx="410.1" cy="31.82" r="0.55" fill="#1a2af0"/>
<circle cx="401.88" cy="25.95" r="0.55" fill="#1a2af0"/>
<circle cx="403.97" cy="27.98" r="0.54" fill="#1a2af0"/>
<circle cx="406.04" cy="28.08" r="0.59" fill="#1a2af0"/>
<circle cx="407.11" cy="30.42" r="0.69" fill="#1a2af0"/>
<circle cx="404.88" cy="26.88" r="0.5" fill="#1a2af0"/>
<circle cx="403.13" cy="26.01" r="0.57" fill="#1a2af0"/>
<circle cx="403.68" cy="29.03" r="0.54" fill="#1a2af0"/>
<circle cx="406.66" cy="28.26" r="0.6" fill="#1a2af0"/>
<circle cx="406.4" cy="28.4" r="0.62" fill="#1a2af0"/>
<circle cx="403.33" cy="28.78" r="0.6" fill="#1a2af0"/>
<circle cx="405.66" cy="30.57" r="0.68" fill="#1a2af0"/>
<polygon points="393.6,33.9 399.3,34.7 400.9,38.7 398.5,40.3 396,38.7 393.6,36.3" fill="#c8962a" stroke="#c8962a" stroke-width="0.5" stroke-linejoin="round"/>
<circle cx="399.23" cy="39.76" r="0.5" fill="#c8962a"/>
<circle cx="397.2" cy="40.51" r="0.5" fill="#c8962a"/>
<circle cx="400.22" cy="35.34" r="0.5" fill="#c8962a"/>
<circle cx="399.84" cy="40.62" r="0.5" fill="#c8962a"/>
<circle cx="398.62" cy="40.99" r="0.5" fill="#c8962a"/>
<circle cx="398.13" cy="40.68" r="0.5" fill="#c8962a"/>
<circle cx="399.13" cy="37.45" r="0.5" fill="#c8962a"/>
<circle cx="399.35" cy="38.25" r="0.5" fill="#c8962a"/>
<polygon points="393.6,42.7 397.6,41.6 400,40.3 398.5,43.5 395.2,44.3" fill="#70e040" stroke="#70e040" stroke-width="0.5" stroke-linejoin="round"/>
<circle cx="395.43" cy="45.25" r="0.5" fill="#70e040"/>
<circle cx="396.69" cy="44.04" r="0.5" fill="#70e040"/>
<circle cx="397.39" cy="42.56" r="0.5" fill="#70e040"/>
<circle cx="395.04" cy="43.14" r="0.5" fill="#70e040"/>
<circle cx="392.6" cy="41.92" r="0.5" fill="#70e040"/>
<circle cx="398.81" cy="42.66" r="0.5" fill="#70e040"/>
<polygon points="432.4,50 442.3,45 454.8,46.2 464.8,52.5 472.3,62.4 473.5,68.7 468.6,74.9 459.8,79.9 449.8,83.6 442.3,89.9 434.9,97.4 432.4,106.1 427.4,109.8 421.1,108.6 416.1,102.3 414.9,93.6 418.6,86.1 424.9,77.4 427.4,67.4 429.9,58.7" fill="#7a22e2" stroke="#7a22e2" stroke-width="0.5" stroke-linejoin="round"/>
<polygon points="432.4,50 442.3,45 454.8,46.2 464.8,52.5 472.3,62.4 473.5,68.7 468.6,74.9 459.8,79.9 449.8,83.6 442.3,89.9 434.9,97.4 432.4,106.1 427.4,109.8 421.1,108.6 416.1,102.3 414.9,93.6 418.6,86.1 424.9,77.4 427.4,67.4 429.9,58.7" fill="url(#spk2)" stroke="none" stroke-width="0" />
<polygon points="432.4,50 442.3,45 454.8,46.2 464.8,52.5 472.3,62.4 473.5,68.7 468.6,74.9 459.8,79.9 449.8,83.6 442.3,89.9 434.9,97.4 432.4,106.1 427.4,109.8 421.1,108.6 416.1,102.3 414.9,93.6 418.6,86.1 424.9,77.4 427.4,67.4 429.9,58.7" fill="url(#blot)" stroke="none" stroke-width="0" />
<circle cx="419.67" cy="104.51" r="0.5" fill="#7a22e2"/>
<circle cx="416" cy="97.98" r="0.5" fill="#7a22e2"/>
<circle cx="431.43" cy="107.7" r="0.5" fill="#7a22e2"/>
<circle cx="440.28" cy="93.71" r="0.5" fill="#7a22e2"/>
<circle cx="449.13" cy="83.32" r="0.5" fill="#7a22e2"/>
<circle cx="416.9" cy="104.88" r="0.5" fill="#7a22e2"/>
<circle cx="428.34" cy="69.88" r="0.5" fill="#7a22e2"/>
<circle cx="418.68" cy="85.09" r="0.5" fill="#7a22e2"/>
<circle cx="472.05" cy="68.9" r="0.5" fill="#7a22e2"/>
<circle cx="436.84" cy="96.28" r="0.5" fill="#7a22e2"/>
<circle cx="415.21" cy="91.23" r="0.5" fill="#7a22e2"/>
<circle cx="468.73" cy="73.1" r="0.5" fill="#7a22e2"/>
<circle cx="428.79" cy="63.73" r="0.5" fill="#7a22e2"/>
<circle cx="415.76" cy="102.49" r="0.5" fill="#7a22e2"/>
<circle cx="455.9" cy="46.47" r="0.5" fill="#7a22e2"/>
<circle cx="430.86" cy="59.75" r="0.5" fill="#7a22e2"/>
<circle cx="443.93" cy="45.08" r="0.5" fill="#7a22e2"/>
<circle cx="456.69" cy="47.35" r="0.5" fill="#7a22e2"/>
<circle cx="432.69" cy="49.33" r="0.5" fill="#7a22e2"/>
<circle cx="429.84" cy="60.52" r="0.5" fill="#7a22e2"/>
<circle cx="433.65" cy="101.88" r="0.5" fill="#7a22e2"/>
<circle cx="459.57" cy="50.68" r="0.5" fill="#7a22e2"/>
<circle cx="440.1" cy="90.33" r="0.5" fill="#7a22e2"/>
<circle cx="436.66" cy="93.92" r="0.5" fill="#7a22e2"/>
<circle cx="425.9" cy="68.6" r="0.5" fill="#7a22e2"/>
<circle cx="431.49" cy="53.77" r="0.5" fill="#7a22e2"/>
<circle cx="419.51" cy="107.37" r="0.5" fill="#7a22e2"/>
<circle cx="414.81" cy="99.76" r="0.5" fill="#7a22e2"/>
<circle cx="468.63" cy="57.6" r="0.5" fill="#7a22e2"/>
<circle cx="473.64" cy="70.15" r="0.5" fill="#7a22e2"/>
<circle cx="461.75" cy="76.97" r="0.5" fill="#7a22e2"/>
<circle cx="426.25" cy="66.24" r="0.5" fill="#7a22e2"/>
<circle cx="421.55" cy="84.01" r="0.5" fill="#7a22e2"/>
<circle cx="466.15" cy="74.76" r="0.5" fill="#7a22e2"/>
<circle cx="425.59" cy="72.72" r="0.5" fill="#7a22e2"/>
<circle cx="468.36" cy="60.46" r="0.5" fill="#7a22e2"/>
<circle cx="420.23" cy="84.09" r="0.5" fill="#7a22e2"/>
<circle cx="420.26" cy="109.22" r="0.5" fill="#7a22e2"/>
<circle cx="427.5" cy="64.97" r="0.5" fill="#7a22e2"/>
<circle cx="428.57" cy="109.66" r="0.5" fill="#7a22e2"/>
<circle cx="447.06" cy="84.88" r="0.5" fill="#7a22e2"/>
<circle cx="472.81" cy="62.93" r="0.5" fill="#7a22e2"/>
<circle cx="429.92" cy="54.95" r="0.5" fill="#7a22e2"/>
<circle cx="440.7" cy="89.94" r="0.5" fill="#7a22e2"/>
<circle cx="444.71" cy="87.24" r="0.5" fill="#7a22e2"/>
<circle cx="416.11" cy="94.78" r="0.5" fill="#7a22e2"/>
<circle cx="462.88" cy="50.93" r="0.5" fill="#7a22e2"/>
<circle cx="454.61" cy="80.38" r="0.5" fill="#7a22e2"/>
<circle cx="428.33" cy="110.9" r="0.5" fill="#7a22e2"/>
<circle cx="429.22" cy="56.21" r="0.5" fill="#7a22e2"/>
<circle cx="421.22" cy="109.7" r="0.5" fill="#7a22e2"/>
<circle cx="426.04" cy="74.1" r="0.5" fill="#7a22e2"/>
<circle cx="421.86" cy="79.31" r="0.5" fill="#7a22e2"/>
<circle cx="415.84" cy="92.56" r="0.5" fill="#7a22e2"/>
<circle cx="417.95" cy="86.77" r="0.5" fill="#7a22e2"/>
<circle cx="420.51" cy="86.52" r="0.5" fill="#7a22e2"/>
<circle cx="456.03" cy="46.45" r="0.5" fill="#7a22e2"/>
<circle cx="471.81" cy="65.58" r="0.5" fill="#7a22e2"/>
<circle cx="463.88" cy="77.75" r="0.5" fill="#7a22e2"/>
<circle cx="424.28" cy="110.67" r="0.5" fill="#7a22e2"/>
<polygon points="372,53.7 382.5,53.7 392.4,58.7 397.4,62.4 396.2,69.9 387.4,72.9 377.5,69.9 372,66.2" fill="#5cf0e6" stroke="#5cf0e6" stroke-width="0.5" stroke-linejoin="round"/>
<polygon points="372,53.7 382.5,53.7 392.4,58.7 397.4,62.4 396.2,69.9 387.4,72.9 377.5,69.9 372,66.2" fill="url(#spk2)" stroke="none" stroke-width="0" />
<polygon points="372,53.7 382.5,53.7 392.4,58.7 397.4,62.4 396.2,69.9 387.4,72.9 377.5,69.9 372,66.2" fill="url(#blot)" stroke="none" stroke-width="0" />
<circle cx="395.57" cy="63.45" r="0.5" fill="#5cf0e6"/>
<circle cx="378" cy="53.24" r="0.5" fill="#5cf0e6"/>
<circle cx="395.68" cy="62.81" r="0.5" fill="#5cf0e6"/>
<circle cx="384.87" cy="55.04" r="0.5" fill="#5cf0e6"/>
<circle cx="391.13" cy="57.4" r="0.5" fill="#5cf0e6"/>
<circle cx="386.28" cy="55.43" r="0.5" fill="#5cf0e6"/>
<circle cx="380.77" cy="54.19" r="0.5" fill="#5cf0e6"/>
<circle cx="372.43" cy="59.43" r="0.5" fill="#5cf0e6"/>
<circle cx="392.31" cy="69.9" r="0.5" fill="#5cf0e6"/>
<circle cx="376.46" cy="70.21" r="0.5" fill="#5cf0e6"/>
<circle cx="394.74" cy="71.24" r="0.5" fill="#5cf0e6"/>
<circle cx="387.86" cy="56.87" r="0.5" fill="#5cf0e6"/>
<circle cx="385.08" cy="56.52" r="0.5" fill="#5cf0e6"/>
<circle cx="377.81" cy="70.17" r="0.5" fill="#5cf0e6"/>
<circle cx="375.2" cy="68.11" r="0.5" fill="#5cf0e6"/>
<circle cx="397.07" cy="62.33" r="0.5" fill="#5cf0e6"/>
<circle cx="397.93" cy="67.97" r="0.5" fill="#5cf0e6"/>
<circle cx="388.57" cy="58.02" r="0.5" fill="#5cf0e6"/>
<circle cx="389.79" cy="73.57" r="0.5" fill="#5cf0e6"/>
<circle cx="396.63" cy="67.89" r="0.5" fill="#5cf0e6"/>
<circle cx="393.52" cy="58.57" r="0.5" fill="#5cf0e6"/>
<circle cx="397.92" cy="65.19" r="0.5" fill="#5cf0e6"/>
<circle cx="387.76" cy="55.72" r="0.5" fill="#5cf0e6"/>
<circle cx="372.18" cy="54.8" r="0.5" fill="#5cf0e6"/>
<circle cx="389.14" cy="70.89" r="0.5" fill="#5cf0e6"/>
<line x1="396" y1="92" x2="401.5" y2="87" stroke="#f0308a" stroke-width="2.6" stroke-linecap="round"/>
<circle cx="395.53" cy="90.29" r="0.55" fill="#f0308a"/>
<circle cx="399.7" cy="89.74" r="0.55" fill="#f0308a"/>
<circle cx="400.65" cy="88.97" r="0.55" fill="#f0308a"/>
<circle cx="399.46" cy="90.5" r="0.55" fill="#f0308a"/>
<circle cx="399.68" cy="88.39" r="0.55" fill="#f0308a"/>
<circle cx="401.64" cy="90.07" r="0.55" fill="#f0308a"/>
<circle cx="399.97" cy="91.06" r="0.55" fill="#f0308a"/>
<circle cx="397.28" cy="88.36" r="0.55" fill="#f0308a"/>
<circle cx="402.88" cy="79.97" r="0.45" fill="#f0308a"/>
<circle cx="409.46" cy="85.65" r="0.45" fill="#f0308a"/>
<circle cx="399.6" cy="75.12" r="0.45" fill="#f0308a"/>
<circle cx="401.28" cy="76.71" r="0.45" fill="#f0308a"/>
<circle cx="404.4" cy="72.79" r="0.45" fill="#f0308a"/>
<circle cx="406.15" cy="72.22" r="0.45" fill="#f0308a"/>
<circle cx="416.24" cy="49.07" r="0.45" fill="#3a8ff0"/>
<circle cx="416.3" cy="51.25" r="0.45" fill="#3a8ff0"/>
<circle cx="416.27" cy="45.76" r="0.45" fill="#3a8ff0"/>
<circle cx="417.1" cy="48.83" r="0.45" fill="#3a8ff0"/>
<circle cx="416.11" cy="49.79" r="0.45" fill="#3a8ff0"/>
<circle cx="416.92" cy="52.41" r="0.45" fill="#3a8ff0"/>
<circle cx="417.68" cy="49.78" r="0.45" fill="#3a8ff0"/>
<circle cx="415.17" cy="46.96" r="0.45" fill="#3a8ff0"/>
<circle cx="416.94" cy="52.78" r="0.45" fill="#3a8ff0"/>
<circle cx="416.57" cy="49.23" r="0.45" fill="#3a8ff0"/>
<circle cx="417.46" cy="45.87" r="0.45" fill="#3a8ff0"/>
<circle cx="415.94" cy="50.73" r="0.45" fill="#3a8ff0"/>
<circle cx="418.07" cy="48.9" r="0.45" fill="#3a8ff0"/>
<circle cx="417.18" cy="50.12" r="0.45" fill="#3a8ff0"/>
<circle cx="410.99" cy="41.85" r="0.4" fill="#3a8ff0"/>
<circle cx="407.76" cy="44.38" r="0.4" fill="#3a8ff0"/>
<circle cx="401.64" cy="32.18" r="0.4" fill="#3a8ff0"/>
<circle cx="400.5" cy="41.7" r="0.4" fill="#3a8ff0"/>
<circle cx="409.23" cy="40.64" r="0.4" fill="#3a8ff0"/>
<circle cx="399.56" cy="47.03" r="0.4" fill="#3a8ff0"/>
<circle cx="398.58" cy="37.56" r="0.4" fill="#3a8ff0"/>
<circle cx="402.72" cy="41.25" r="0.4" fill="#3a8ff0"/>
<circle cx="409.39" cy="32.54" r="0.4" fill="#3a8ff0"/>
<circle cx="403.72" cy="41.58" r="0.4" fill="#3a8ff0"/>
<circle cx="400.33" cy="39.54" r="0.4" fill="#3a8ff0"/>
<circle cx="405.75" cy="33.32" r="0.4" fill="#3a8ff0"/>
<circle cx="399.77" cy="39.73" r="0.4" fill="#3a8ff0"/>
<circle cx="404.09" cy="41.11" r="0.4" fill="#3a8ff0"/>
<circle cx="398.85" cy="39.04" r="0.4" fill="#f5a540"/>
<circle cx="403.21" cy="35.57" r="0.4" fill="#f5a540"/>
<circle cx="402.11" cy="37.72" r="0.4" fill="#f5a540"/>
<circle cx="402.3" cy="37.27" r="0.4" fill="#f5a540"/>
<circle cx="403.99" cy="40" r="0.4" fill="#f5a540"/>
<circle cx="406.6" cy="36.7" r="0.4" fill="#f5a540"/>
<circle cx="399.79" cy="39.11" r="0.4" fill="#f5a540"/>
<circle cx="401.04" cy="34.51" r="0.4" fill="#f5a540"/>
<circle cx="407.15" cy="39.57" r="0.4" fill="#f5a540"/>
<circle cx="400.92" cy="36.02" r="0.4" fill="#f5a540"/>
<circle cx="428.73" cy="49.58" r="0.45" fill="#7a22e2"/>
<circle cx="436.33" cy="46.79" r="0.45" fill="#7a22e2"/>
<circle cx="431.07" cy="45.26" r="0.45" fill="#7a22e2"/>
<circle cx="429.15" cy="46.96" r="0.45" fill="#7a22e2"/>
<circle cx="425.06" cy="51.12" r="0.45" fill="#7a22e2"/>
<circle cx="440.92" cy="46.25" r="0.45" fill="#7a22e2"/>
<circle cx="439.42" cy="50.34" r="0.45" fill="#7a22e2"/>
<circle cx="429.55" cy="42.26" r="0.45" fill="#7a22e2"/>
<circle cx="437.35" cy="39.81" r="0.45" fill="#7a22e2"/>
<circle cx="437.3" cy="46.86" r="0.45" fill="#7a22e2"/>
<line x1="400.5" y1="38.3" x2="404.5" y2="36.5" stroke="#c8962a" stroke-width="0.8" />
<line x1="398.5" y1="40.8" x2="403.5" y2="38.5" stroke="#70e040" stroke-width="0.6" />
<text x="423.3" y="27.2" font-size="6.8" fill="#333" >3.</text>
<text x="406.5" y="28" font-size="6.8" fill="#333" >5.</text>
<text x="388.3" y="33.6" font-size="6.8" fill="#333" >6.</text>
<text x="463.4" y="33.6" font-size="6.8" fill="#333" >4.</text>
<text x="396" y="52.8" font-size="6.8" fill="#333" >7.</text>
<text x="410.5" y="52.8" font-size="6.8" fill="#333" >9.</text>
<text x="380" y="58.4" font-size="6.8" fill="#333" >1.</text>
<text x="400" y="96.8" font-size="6.8" fill="#333" >2.</text>
<text x="437" y="100.8" font-size="6.8" fill="#333" >8.</text>
<line x1="373.4" y1="92.1" x2="373.4" y2="109.15" stroke="#3d4d6b" stroke-width="1.1" />
<line x1="372.85" y1="108.6" x2="396.8" y2="108.6" stroke="#3d4d6b" stroke-width="1.1" />
<polygon points="371.7,92.9 375.1,92.9 373.4,89.9" fill="#3d4d6b" stroke="none" stroke-width="0" />
<polygon points="396,106.9 396,110.3 399,108.6" fill="#3d4d6b" stroke="none" stroke-width="0" />
<text x="370" y="111.6" font-size="6.4" textLength="22.5" lengthAdjust="spacingAndGlyphs" fill="#333" transform="rotate(-90 370 111.6)" >UMAP2</text>
<text x="373.2" y="115.7" font-size="6.4" textLength="21.6" lengthAdjust="spacingAndGlyphs" fill="#333" >UMAP1</text>
<circle cx="345.1" cy="128.2" r="3.6" fill="#12d8ee"/>
<text x="345.1" y="130.4" font-size="6.2" fill="#111" text-anchor="middle" >1</text>
<text x="352.6" y="130.8" font-size="7" textLength="68.2" lengthAdjust="spacingAndGlyphs" >Endothelial cells (EC)</text>
<circle cx="345.1" cy="138.55" r="3.6" fill="#f0207c"/>
<text x="345.1" y="140.75" font-size="6.2" fill="#111" text-anchor="middle" >2</text>
<text x="352.6" y="141.15" font-size="7" textLength="90.4" lengthAdjust="spacingAndGlyphs" >Lrrn4+ stromal cells (Lrrn4<tspan font-size="4.5" dy="-2.5">+</tspan><tspan dy="2.5">)</tspan></text>
<circle cx="345.1" cy="148.9" r="3.6" fill="#a4221a"/>
<text x="345.1" y="151.1" font-size="6.2" fill="#fff" text-anchor="middle" >3</text>
<text x="352.6" y="151.5" font-size="7" textLength="121.4" lengthAdjust="spacingAndGlyphs" >Vascular smooth muscle cells (vSMC)</text>
<circle cx="345.1" cy="159.25" r="3.6" fill="#f0a020"/>
<text x="345.1" y="161.45" font-size="6.2" fill="#111" text-anchor="middle" >4</text>
<text x="352.6" y="161.85" font-size="7" textLength="44.9" lengthAdjust="spacingAndGlyphs" >Pericytes (PC)</text>
<circle cx="345.1" cy="169.6" r="3.6" fill="#0a14e6"/>
<text x="345.1" y="171.8" font-size="6.2" fill="#fff" text-anchor="middle" >5</text>
<text x="352.6" y="172.2" font-size="7" textLength="174.6" lengthAdjust="spacingAndGlyphs" >Cort./im. medull. thymic epithelial cells (cTEC/mTECi)</text>
<circle cx="345.1" cy="179.95" r="3.6" fill="#c0880e"/>
<text x="345.1" y="182.15" font-size="6.2" fill="#111" text-anchor="middle" >6</text>
<text x="352.6" y="182.55" font-size="7" textLength="151.6" lengthAdjust="spacingAndGlyphs" >Mature medull thymic epithelial cells (mTECm)</text>
<circle cx="345.1" cy="190.3" r="3.6" fill="#60e040"/>
<text x="345.1" y="192.5" font-size="6.2" fill="#111" text-anchor="middle" >7</text>
<text x="352.6" y="192.9" font-size="7" textLength="29.5" lengthAdjust="spacingAndGlyphs" >Tuft cells</text>
<circle cx="345.1" cy="200.65" r="3.6" fill="#a452f2"/>
<text x="345.1" y="202.85" font-size="6.2" fill="#fff" text-anchor="middle" >8</text>
<text x="352.6" y="203.25" font-size="7" textLength="116.6" lengthAdjust="spacingAndGlyphs" >Thymic mesenchymal cells (ThyMC)</text>
<circle cx="345.1" cy="211" r="3.6" fill="#1a72ee"/>
<text x="345.1" y="213.2" font-size="6.2" fill="#fff" text-anchor="middle" >9</text>
<text x="352.6" y="213.6" font-size="7" textLength="86.4" lengthAdjust="spacingAndGlyphs" >Neural crest-like cells (NC)</text>
<text x="-0.1" y="243.6" font-size="12.4" font-weight="bold" fill="#000" stroke="#000" stroke-width="0.45">d</text>
<text x="88.5" y="244.3" font-size="8.4" textLength="106" lengthAdjust="spacingAndGlyphs" >Human stroma composition</text>
<text x="67" y="257.3" font-size="8.4" textLength="41.5" lengthAdjust="spacingAndGlyphs" >scRNA-seq</text>
<path d="M89.9 318 L89.9 277.4 A40.6 40.6 0 0 1 107.51 281.42 Z" fill="#00eaf8" stroke="none" stroke-width="0.6" />
<path d="M89.9 318 L107.51 281.42 A40.6 40.6 0 0 1 123.24 294.83 Z" fill="#34a2c2" stroke="none" stroke-width="0.6" />
<path d="M89.9 318 L123.24 294.83 A40.6 40.6 0 0 1 124.58 296.89 Z" fill="#3cb38a" stroke="none" stroke-width="0.6" />
<path d="M89.9 318 L124.58 296.89 A40.6 40.6 0 0 1 130.01 311.73 Z" fill="#0a2cf4" stroke="none" stroke-width="0.6" />
<path d="M89.9 318 L130.01 311.73 A40.6 40.6 0 0 1 126.35 335.87 Z" fill="#0a168e" stroke="none" stroke-width="0.6" />
<path d="M89.9 318 L126.35 335.87 A40.6 40.6 0 0 1 123.14 341.32 Z" fill="#1662b6" stroke="none" stroke-width="0.6" />
<path d="M89.9 318 L123.14 341.32 A40.6 40.6 0 0 1 51.17 305.83 Z" fill="#9b42f8" stroke="none" stroke-width="0.6" />
<path d="M89.9 318 L51.17 305.83 A40.6 40.6 0 0 1 62.37 288.15 Z" fill="#f8a000" stroke="none" stroke-width="0.6" />
<path d="M89.9 318 L62.37 288.15 A40.6 40.6 0 0 1 89.9 277.4 Z" fill="#c01e02" stroke="none" stroke-width="0.6" />
<circle cx="89.9" cy="318" r="40.6" fill="none" stroke="#111" stroke-width="0.75"/>
<line x1="99" y1="278.12" x2="102.6" y2="271.6" stroke="#333" stroke-width="0.55" />
<line x1="116.44" y1="286.88" x2="121.4" y2="282.2" stroke="#333" stroke-width="0.55" />
<line x1="124.18" y1="295.68" x2="131" y2="293.2" stroke="#333" stroke-width="0.55" />
<line x1="128.31" y1="303.94" x2="134.6" y2="303.6" stroke="#333" stroke-width="0.55" />
<line x1="130.34" y1="324.13" x2="137.6" y2="325.4" stroke="#333" stroke-width="0.55" />
<line x1="125.11" y1="338.81" x2="132" y2="342.6" stroke="#333" stroke-width="0.55" />
<line x1="57" y1="346.6" x2="53.4" y2="350.8" stroke="#333" stroke-width="0.55" />
<line x1="55.36" y1="296.1" x2="49.6" y2="291.2" stroke="#333" stroke-width="0.55" />
<line x1="75.02" y1="279.9" x2="71.2" y2="274.4" stroke="#333" stroke-width="0.55" />
<text x="99" y="269.7" font-size="7.6" textLength="11" lengthAdjust="spacingAndGlyphs" >616</text>
<text x="121.5" y="281" font-size="7.6" textLength="11.5" lengthAdjust="spacingAndGlyphs" >707</text>
<text x="131.5" y="294.8" font-size="7.6" textLength="8.5" lengthAdjust="spacingAndGlyphs" >83</text>
<text x="135.4" y="306" font-size="7.6" textLength="12.8" lengthAdjust="spacingAndGlyphs" >538</text>
<text x="138.5" y="328" font-size="7.6" textLength="12.5" lengthAdjust="spacingAndGlyphs" >839</text>
<text x="132.7" y="345.7" font-size="7.6" textLength="10.9" lengthAdjust="spacingAndGlyphs" >214</text>
<text x="42.7" y="356.2" font-size="7.6" textLength="17.3" lengthAdjust="spacingAndGlyphs" >3,892</text>
<text x="38.8" y="291.7" font-size="7.6" textLength="10.2" lengthAdjust="spacingAndGlyphs" >716</text>
<text x="57.8" y="272.7" font-size="7.6" textLength="17.4" lengthAdjust="spacingAndGlyphs" >1,023</text>
<rect x="66.4" y="363.55" width="8.6" height="5.5" fill="#34a2c2" stroke="#3a3a3a" stroke-width="0.4" />
<text x="78.8" y="369" font-size="8" textLength="19.7" lengthAdjust="spacingAndGlyphs" >pcEC</text>
<rect x="66.4" y="372.95" width="8.6" height="5.5" fill="#00eaf8" stroke="#3a3a3a" stroke-width="0.4" />
<text x="78.8" y="378.4" font-size="8" textLength="15.7" lengthAdjust="spacingAndGlyphs" >aEC</text>
<rect x="66.4" y="382.45" width="8.6" height="5.5" fill="#3cb38a" stroke="#3a3a3a" stroke-width="0.4" />
<text x="78.8" y="387.9" font-size="8" textLength="17.7" lengthAdjust="spacingAndGlyphs" >lyEC</text>
<rect x="66.4" y="391.75" width="8.6" height="5.5" fill="#0a2cf4" stroke="#3a3a3a" stroke-width="0.4" />
<text x="78.8" y="397.2" font-size="8" textLength="20" lengthAdjust="spacingAndGlyphs" >cTEC</text>
<rect x="102.2" y="363.55" width="8.6" height="5.5" fill="#0a168e" stroke="#3a3a3a" stroke-width="0.4" />
<text x="113" y="369" font-size="8" textLength="24.5" lengthAdjust="spacingAndGlyphs" >mTECi</text>
<rect x="102.2" y="372.95" width="8.6" height="5.5" fill="#1662b6" stroke="#3a3a3a" stroke-width="0.4" />
<text x="113" y="378.4" font-size="8" textLength="27.5" lengthAdjust="spacingAndGlyphs" >mTECm</text>
<rect x="102.2" y="382.45" width="8.6" height="5.5" fill="#9b42f8" stroke="#3a3a3a" stroke-width="0.4" />
<text x="113" y="387.9" font-size="8" textLength="26.5" lengthAdjust="spacingAndGlyphs" >ThyMC</text>
<rect x="102.2" y="391.75" width="8.6" height="5.5" fill="#f8a000" stroke="#3a3a3a" stroke-width="0.4" />
<text x="113" y="397.2" font-size="8" textLength="11.5" lengthAdjust="spacingAndGlyphs" >PC</text>
<rect x="102.2" y="399.55" width="8.6" height="5.5" fill="#c01e02" stroke="#3a3a3a" stroke-width="0.4" />
<text x="113" y="405" font-size="8" textLength="22" lengthAdjust="spacingAndGlyphs" >vSMC</text>
<text x="29.6" y="405.2" font-size="8" textLength="69.4" lengthAdjust="spacingAndGlyphs" >Total = 8,628 cells</text>
<text x="198.6" y="256.9" font-size="8.2" textLength="20.4" lengthAdjust="spacingAndGlyphs" >FACS</text>
<rect x="200.3" y="371.79" width="15.1" height="21.61" fill="#00eaf8" />
<rect x="200.3" y="363.52" width="15.1" height="8.27" fill="url(#hatch)" />
<rect x="200.3" y="296.8" width="15.1" height="66.72" fill="#9b42f8" />
<line x1="200.3" y1="371.79" x2="215.4" y2="371.79" stroke="#111" stroke-width="0.5" />
<line x1="200.3" y1="363.52" x2="215.4" y2="363.52" stroke="#111" stroke-width="0.5" />
<rect x="200.3" y="296.8" width="15.1" height="96.6" fill="none" stroke="#111" stroke-width="0.6" />
<line x1="207.85" y1="296.8" x2="207.85" y2="290.33" stroke="#111" stroke-width="0.6" />
<line x1="204.35" y1="290.33" x2="211.35" y2="290.33" stroke="#111" stroke-width="0.6" />
<line x1="207.85" y1="363.52" x2="207.85" y2="361.73" stroke="#111" stroke-width="0.6" />
<line x1="204.35" y1="361.73" x2="211.35" y2="361.73" stroke="#111" stroke-width="0.6" />
<line x1="191.7" y1="273.6" x2="191.7" y2="393.4" stroke="#9a9a9a" stroke-width="0.9" />
<line x1="188.7" y1="393.4" x2="223.5" y2="393.4" stroke="#333" stroke-width="0.7" />
<line x1="188.7" y1="393.4" x2="191.7" y2="393.4" stroke="#555" stroke-width="0.6" />
<text x="184.8" y="395.8" font-size="7" text-anchor="end" >0</text>
<line x1="188.7" y1="373.48" x2="191.7" y2="373.48" stroke="#555" stroke-width="0.6" />
<text x="184.8" y="375.88" font-size="7" text-anchor="end" >20</text>
<line x1="188.7" y1="353.57" x2="191.7" y2="353.57" stroke="#555" stroke-width="0.6" />
<text x="184.8" y="355.97" font-size="7" text-anchor="end" >40</text>
<line x1="188.7" y1="333.65" x2="191.7" y2="333.65" stroke="#555" stroke-width="0.6" />
<text x="184.8" y="336.05" font-size="7" text-anchor="end" >60</text>
<line x1="188.7" y1="313.73" x2="191.7" y2="313.73" stroke="#555" stroke-width="0.6" />
<text x="184.8" y="316.13" font-size="7" text-anchor="end" >80</text>
<line x1="188.7" y1="293.82" x2="191.7" y2="293.82" stroke="#555" stroke-width="0.6" />
<text x="184.8" y="296.22" font-size="7" text-anchor="end" >100</text>
<line x1="188.7" y1="273.9" x2="191.7" y2="273.9" stroke="#555" stroke-width="0.6" />
<text x="184.8" y="276.3" font-size="7" text-anchor="end" >120</text>
<rect x="219.9" y="271.6" width="7" height="5.5" fill="#9b42f8" stroke="#111" stroke-width="0.4" />
<text x="230.1" y="276.8" font-size="8" textLength="25.2" lengthAdjust="spacingAndGlyphs" >ThyMC</text>
<rect x="219.9" y="281.5" width="7" height="5.5" fill="url(#hatch)" stroke="#111" stroke-width="0.4" />
<text x="230.1" y="286.7" font-size="8" textLength="14.7" lengthAdjust="spacingAndGlyphs" >TEC</text>
<rect x="219.9" y="291.3" width="7" height="5.5" fill="#00eaf8" stroke="#111" stroke-width="0.4" />
<text x="230.1" y="296.5" font-size="8" textLength="10.7" lengthAdjust="spacingAndGlyphs" >EC</text>
<text x="168.6" y="369.7" font-size="8" textLength="67.7" lengthAdjust="spacingAndGlyphs" transform="rotate(-90 168.6 369.7)" >CD45<tspan font-size="4.6" dy="-2.6">−</tspan><tspan dy="2.6">CD235a</tspan><tspan font-size="4.6" dy="-2.6">−</tspan><tspan dy="2.6"> (%)</tspan></text>
<text x="280.8" y="243.7" font-size="12.4" font-weight="bold" fill="#000" stroke="#000" stroke-width="0.45">e</text>
<text x="331.8" y="244.3" font-size="8.4" textLength="103.5" lengthAdjust="spacingAndGlyphs" >Mouse stroma composition</text>
<text x="302.5" y="257.3" font-size="8.4" textLength="41.2" lengthAdjust="spacingAndGlyphs" >scRNA-seq</text>
<path d="M322.8 318.4 L322.8 278.4 A40 40 0 0 1 345.25 285.29 Z" fill="#10eef8" stroke="none" stroke-width="0.6" />
<path d="M322.8 318.4 L345.25 285.29 A40 40 0 0 1 354.62 294.16 Z" fill="#0a2cf2" stroke="none" stroke-width="0.6" />
<path d="M322.8 318.4 L354.62 294.16 A40 40 0 0 1 359.39 302.24 Z" fill="#e0a448" stroke="none" stroke-width="0.6" />
<path d="M322.8 318.4 L359.39 302.24 A40 40 0 0 1 361.63 308.78 Z" fill="#74e020" stroke="none" stroke-width="0.6" />
<path d="M322.8 318.4 L361.63 308.78 A40 40 0 0 1 362.35 312.44 Z" fill="#f2308c" stroke="none" stroke-width="0.6" />
<path d="M322.8 318.4 L362.35 312.44 A40 40 0 1 1 305.79 282.2 Z" fill="#9b42f8" stroke="none" stroke-width="0.6" />
<path d="M322.8 318.4 L305.79 282.2 A40 40 0 0 1 315.06 279.16 Z" fill="#8a1808" stroke="none" stroke-width="0.6" />
<path d="M322.8 318.4 L315.06 279.16 A40 40 0 0 1 321.6 278.42 Z" fill="#f88c00" stroke="none" stroke-width="0.6" />
<path d="M322.8 318.4 L321.6 278.42 A40 40 0 0 1 322.8 278.4 Z" fill="#2a80f0" stroke="none" stroke-width="0.6" />
<circle cx="322.8" cy="318.4" r="40" fill="none" stroke="#111" stroke-width="0.75"/>
<line x1="334.63" y1="279.88" x2="337" y2="274.6" stroke="#333" stroke-width="0.55" />
<line x1="350.5" y1="289.13" x2="353.4" y2="284.2" stroke="#333" stroke-width="0.55" />
<line x1="357.5" y1="297.91" x2="362.4" y2="295.6" stroke="#333" stroke-width="0.55" />
<line x1="360.93" y1="305.36" x2="367" y2="304" stroke="#333" stroke-width="0.55" />
<line x1="362.33" y1="310.54" x2="369.4" y2="312" stroke="#333" stroke-width="0.55" />
<line x1="298.2" y1="350.2" x2="294.6" y2="355.2" stroke="#333" stroke-width="0.55" />
<line x1="310.24" y1="280.11" x2="308.4" y2="275.6" stroke="#333" stroke-width="0.55" />
<line x1="318.28" y1="278.35" x2="315.6" y2="271.4" stroke="#333" stroke-width="0.55" />
<line x1="322.2" y1="278.1" x2="322.6" y2="272.2" stroke="#333" stroke-width="0.55" />
<text x="295.5" y="275" font-size="7.6" textLength="11.5" lengthAdjust="spacingAndGlyphs" >212</text>
<text x="322" y="271" font-size="7.6" textLength="8.4" lengthAdjust="spacingAndGlyphs" >26</text>
<text x="336" y="273.6" font-size="7.6" textLength="11.4" lengthAdjust="spacingAndGlyphs" >517</text>
<text x="353.6" y="283.6" font-size="7.6" textLength="10" lengthAdjust="spacingAndGlyphs" >281</text>
<text x="362.8" y="295.3" font-size="7.6" textLength="12.5" lengthAdjust="spacingAndGlyphs" >204</text>
<text x="367.8" y="305.3" font-size="7.6" textLength="11.5" lengthAdjust="spacingAndGlyphs" >150</text>
<text x="370" y="314.3" font-size="7.6" textLength="7" lengthAdjust="spacingAndGlyphs" >81</text>
<text x="281" y="362.3" font-size="7.6" textLength="17" lengthAdjust="spacingAndGlyphs" >3,837</text>
<text x="306" y="265.4" font-size="7.3" transform="rotate(28 306 265.4)" >143</text>
<rect x="296.2" y="366.2" width="8.6" height="5.6" fill="#10eef8" stroke="#3a3a3a" stroke-width="0.4" />
<text x="307.5" y="371.7" font-size="8" textLength="12" lengthAdjust="spacingAndGlyphs" >EC</text>
<rect x="296.2" y="377" width="8.6" height="5.6" fill="#0a2cf2" stroke="#3a3a3a" stroke-width="0.4" />
<text x="307.5" y="382.5" font-size="8" textLength="47.5" lengthAdjust="spacingAndGlyphs" >cTEC/mTECi</text>
<rect x="296.2" y="387.5" width="8.6" height="5.6" fill="#e0a448" stroke="#3a3a3a" stroke-width="0.4" />
<text x="307.5" y="393" font-size="8" textLength="30" lengthAdjust="spacingAndGlyphs" >mTECm</text>
<rect x="296.2" y="397.9" width="8.6" height="5.6" fill="#74e020" stroke="#3a3a3a" stroke-width="0.4" />
<text x="307.5" y="403.4" font-size="8" textLength="35" lengthAdjust="spacingAndGlyphs" >Tuft cells</text>
<rect x="362.4" y="366.2" width="7.9" height="5.6" fill="#f2308c" stroke="#3a3a3a" stroke-width="0.4" />
<text x="373.6" y="371.7" font-size="8" >Lrrn4<tspan font-size="4.6" dy="-2.6">+</tspan></text>
<rect x="362.4" y="377" width="7.9" height="5.6" fill="#9b42f8" stroke="#3a3a3a" stroke-width="0.4" />
<text x="373.6" y="382.5" font-size="8" textLength="25.9" lengthAdjust="spacingAndGlyphs" >ThyMC</text>
<rect x="362.4" y="387.5" width="7.9" height="5.6" fill="#8a1808" stroke="#3a3a3a" stroke-width="0.4" />
<text x="373.6" y="393" font-size="8" textLength="21.7" lengthAdjust="spacingAndGlyphs" >vSMC</text>
<rect x="362.4" y="397.9" width="7.9" height="5.6" fill="#f88c00" stroke="#3a3a3a" stroke-width="0.4" />
<text x="373.6" y="403.4" font-size="8" textLength="10" lengthAdjust="spacingAndGlyphs" >PC</text>
<rect x="362.4" y="408.4" width="7.9" height="5.6" fill="#2a80f0" stroke="#3a3a3a" stroke-width="0.4" />
<text x="373.6" y="413.9" font-size="8" textLength="11.6" lengthAdjust="spacingAndGlyphs" >NC</text>
<text x="285.5" y="414.7" font-size="8" textLength="67.5" lengthAdjust="spacingAndGlyphs" >Total = 5,451 cells</text>
<text x="439.2" y="256.9" font-size="8.2" textLength="20.4" lengthAdjust="spacingAndGlyphs" >FACS</text>
<rect x="440.7" y="384.94" width="15" height="8.56" fill="#00eaf8" />
<rect x="440.7" y="367.33" width="15" height="17.62" fill="url(#hatch)" />
<rect x="440.7" y="288.81" width="15" height="78.52" fill="#9b42f8" />
<line x1="440.7" y1="384.94" x2="455.7" y2="384.94" stroke="#111" stroke-width="0.5" />
<line x1="440.7" y1="367.33" x2="455.7" y2="367.33" stroke="#111" stroke-width="0.5" />
<rect x="440.7" y="288.81" width="15" height="104.69" fill="none" stroke="#111" stroke-width="0.6" />
<line x1="448.2" y1="288.81" x2="448.2" y2="287.3" stroke="#111" stroke-width="0.6" />
<line x1="444.7" y1="287.3" x2="451.7" y2="287.3" stroke="#111" stroke-width="0.6" />
<line x1="448.2" y1="367.33" x2="448.2" y2="365.82" stroke="#111" stroke-width="0.6" />
<line x1="444.7" y1="365.82" x2="451.7" y2="365.82" stroke="#111" stroke-width="0.6" />
<line x1="431.9" y1="272.4" x2="431.9" y2="393.5" stroke="#9a9a9a" stroke-width="0.9" />
<line x1="428.9" y1="393.5" x2="464" y2="393.5" stroke="#333" stroke-width="0.7" />
<line x1="428.9" y1="393.5" x2="431.9" y2="393.5" stroke="#555" stroke-width="0.6" />
<text x="425" y="395.9" font-size="7" text-anchor="end" >0</text>
<line x1="428.9" y1="373.37" x2="431.9" y2="373.37" stroke="#555" stroke-width="0.6" />
<text x="425" y="375.77" font-size="7" text-anchor="end" >20</text>
<line x1="428.9" y1="353.23" x2="431.9" y2="353.23" stroke="#555" stroke-width="0.6" />
<text x="425" y="355.63" font-size="7" text-anchor="end" >40</text>
<line x1="428.9" y1="333.1" x2="431.9" y2="333.1" stroke="#555" stroke-width="0.6" />
<text x="425" y="335.5" font-size="7" text-anchor="end" >60</text>
<line x1="428.9" y1="312.97" x2="431.9" y2="312.97" stroke="#555" stroke-width="0.6" />
<text x="425" y="315.37" font-size="7" text-anchor="end" >80</text>
<line x1="428.9" y1="292.83" x2="431.9" y2="292.83" stroke="#555" stroke-width="0.6" />
<text x="425" y="295.23" font-size="7" text-anchor="end" >100</text>
<line x1="428.9" y1="272.7" x2="431.9" y2="272.7" stroke="#555" stroke-width="0.6" />
<text x="425" y="275.1" font-size="7" text-anchor="end" >120</text>
<rect x="458.9" y="261.8" width="8.4" height="5.5" fill="#9b42f8" stroke="#111" stroke-width="0.4" />
<text x="469.6" y="267" font-size="8" textLength="25.7" lengthAdjust="spacingAndGlyphs" >ThyMC</text>
<rect x="458.9" y="271.1" width="8.4" height="5.5" fill="url(#hatch)" stroke="#111" stroke-width="0.4" />
<text x="469.6" y="276.3" font-size="8" textLength="14" lengthAdjust="spacingAndGlyphs" >TEC</text>
<rect x="458.9" y="280.9" width="8.4" height="5.5" fill="#00eaf8" stroke="#111" stroke-width="0.4" />
<text x="469.6" y="286.1" font-size="8" textLength="9.8" lengthAdjust="spacingAndGlyphs" >EC</text>
<text x="410.3" y="366" font-size="8" textLength="65.3" lengthAdjust="spacingAndGlyphs" transform="rotate(-90 410.3 366)" >CD45<tspan font-size="4.6" dy="-2.6">−</tspan><tspan dy="2.6">Ter119</tspan><tspan font-size="4.6" dy="-2.6">−</tspan><tspan dy="2.6"> (%)</tspan></text>
<text x="-0.4" y="434.6" font-size="12.4" font-weight="bold" fill="#000" stroke="#000" stroke-width="0.45">f</text>
<text x="110.8" y="435.1" font-size="8.4" textLength="27.9" lengthAdjust="spacingAndGlyphs" >Human</text>
<rect x="18.2" y="445.2" width="212.2" height="98.1" fill="#e3e3e3" />
<rect x="26.6" y="445.2" width="1" height="8.92" fill="#f6140c" />
<rect x="56.8" y="445.2" width="1.4" height="8.92" fill="#f6140c" />
<rect x="25.8" y="454.12" width="1.4" height="8.92" fill="#f5b8aa" />
<rect x="53.2" y="454.12" width="1.8" height="17.84" fill="#f5b8aa" />
<rect x="55.5" y="454.12" width="1.3" height="8.92" fill="#f86a58" />
<rect x="64" y="463.04" width="1.02" height="8.92" fill="#f6140c" />
<rect x="64.97" y="463.04" width="1.29" height="8.92" fill="#f6140c" />
<rect x="66.2" y="463.04" width="0.8" height="8.92" fill="#f6140c" />
<rect x="66.95" y="463.04" width="0.8" height="8.92" fill="#f86a58" />
<rect x="67.7" y="463.04" width="1.19" height="8.92" fill="#f6140c" />
<rect x="68.85" y="463.04" width="1.76" height="8.92" fill="#f86a58" />
<rect x="70.56" y="463.04" width="0.73" height="8.92" fill="#f6140c" />
<rect x="71.24" y="463.04" width="0.11" height="8.92" fill="#f8402c" />
<rect x="59.4" y="463.04" width="1.2" height="8.92" fill="#f86a58" />
<rect x="27" y="463.04" width="1" height="8.92" fill="#f5b8aa" />
<rect x="59" y="480.87" width="12.3" height="8.92" fill="#f6140c" />
<rect x="28" y="489.79" width="2.1" height="8.92" fill="#f6140c" />
<rect x="69" y="489.79" width="2.3" height="8.92" fill="#f6140c" />
<rect x="51" y="489.79" width="1" height="8.92" fill="#f5b8aa" />
<rect x="54" y="489.79" width="1" height="8.92" fill="#f5b8aa" />
<rect x="26" y="498.71" width="1" height="17.84" fill="#f5b8aa" />
<rect x="53" y="507.63" width="1.6" height="17.84" fill="#f5b8aa" />
<rect x="54.55" y="507.63" width="0.66" height="17.84" fill="#f5b8aa" />
<rect x="55.16" y="507.63" width="1.64" height="17.84" fill="#f5b8aa" />
<rect x="56.75" y="507.63" width="0.57" height="17.84" fill="#e3e3e3" />
<rect x="57.27" y="507.63" width="0.78" height="17.84" fill="#f86a58" />
<rect x="59.5" y="516.55" width="1" height="8.92" fill="#f5b8aa" />
<rect x="28" y="516.55" width="1.2" height="17.84" fill="#f5b8aa" />
<rect x="50" y="525.46" width="1" height="17.84" fill="#f5b8aa" />
<rect x="30" y="534.38" width="1" height="8.92" fill="#f5b8aa" />
<rect x="94" y="445.2" width="8" height="8.92" fill="#f6140c" />
<rect x="101.3" y="454.12" width="15.5" height="8.92" fill="#f6140c" />
<rect x="94" y="463.04" width="1" height="8.92" fill="#f86a58" />
<rect x="97.6" y="463.04" width="1.11" height="8.92" fill="#f9907e" />
<rect x="98.66" y="463.04" width="0.51" height="8.92" fill="#f5b8aa" />
<rect x="99.12" y="463.04" width="0.46" height="8.92" fill="#f86a58" />
<rect x="99.53" y="463.04" width="0.96" height="8.92" fill="#f5b8aa" />
<rect x="100.43" y="463.04" width="0.56" height="8.92" fill="#f5b8aa" />
<rect x="100.95" y="463.04" width="1.71" height="8.92" fill="#f5b8aa" />
<rect x="102.61" y="463.04" width="1.1" height="8.92" fill="#f6140c" />
<rect x="103.66" y="463.04" width="0.89" height="8.92" fill="#f86a58" />
<rect x="107" y="463.04" width="1.78" height="8.92" fill="#f6140c" />
<rect x="108.73" y="463.04" width="1.5" height="8.92" fill="#f86a58" />
<rect x="110.18" y="463.04" width="1.28" height="8.92" fill="#f6140c" />
<rect x="111.41" y="463.04" width="1.77" height="8.92" fill="#f6140c" />
<rect x="113.13" y="463.04" width="0.5" height="8.92" fill="#f6140c" />
<rect x="113.59" y="463.04" width="0.69" height="8.92" fill="#f86a58" />
<rect x="114.23" y="463.04" width="0.56" height="8.92" fill="#f86a58" />
<rect x="114.74" y="463.04" width="1.33" height="8.92" fill="#f6140c" />
<rect x="116.02" y="463.04" width="0.53" height="8.92" fill="#f6140c" />
<rect x="118" y="463.04" width="3.3" height="8.92" fill="#f86a58" />
<rect x="127" y="463.04" width="3" height="8.92" fill="#f86a58" />
<rect x="94" y="480.87" width="0.8" height="17.84" fill="#f5b8aa" />
<rect x="103" y="480.87" width="0.8" height="17.84" fill="#f5b8aa" />
<rect x="117" y="480.87" width="1" height="17.84" fill="#f86a58" />
<rect x="127" y="480.87" width="0.8" height="17.84" fill="#f5b8aa" />
<rect x="94" y="507.63" width="1" height="8.92" fill="#f5b8aa" />
<rect x="103" y="507.63" width="1" height="8.92" fill="#f5b8aa" />
<rect x="117" y="507.63" width="1.5" height="8.92" fill="#f86a58" />
<rect x="121.3" y="516.55" width="8.7" height="8.92" fill="#f86a58" />
<rect x="94" y="516.55" width="0.98" height="8.92" fill="#f86a58" />
<rect x="94.93" y="516.55" width="1.18" height="8.92" fill="#f86a58" />
<rect x="96.07" y="516.55" width="0.98" height="8.92" fill="#f6140c" />
<rect x="103" y="516.55" width="1" height="8.92" fill="#f5b8aa" />
<rect x="106" y="516.55" width="2" height="8.92" fill="#f5b8aa" />
<rect x="117" y="516.55" width="2" height="8.92" fill="#f86a58" />
<rect x="117" y="534.38" width="3" height="8.92" fill="#f5b8aa" />
<rect x="94" y="534.38" width="1" height="8.92" fill="#f5b8aa" />
<rect x="126.6" y="463.04" width="1.35" height="8.92" fill="#f9907e" />
<rect x="127.9" y="463.04" width="0.81" height="8.92" fill="#f9907e" />
<rect x="128.66" y="463.04" width="1.61" height="8.92" fill="#f86a58" />
<rect x="130.21" y="463.04" width="0.95" height="8.92" fill="#f9907e" />
<rect x="131.11" y="463.04" width="1.74" height="8.92" fill="#f86a58" />
<rect x="132.8" y="463.04" width="1.48" height="8.92" fill="#f5b8aa" />
<rect x="134.23" y="463.04" width="1.54" height="8.92" fill="#f86a58" />
<rect x="135.72" y="463.04" width="1.3" height="8.92" fill="#f9907e" />
<rect x="136.97" y="463.04" width="0.62" height="8.92" fill="#f6140c" />
<rect x="137.55" y="463.04" width="0.65" height="8.92" fill="#f86a58" />
<rect x="138.15" y="463.04" width="1.84" height="8.92" fill="#f9907e" />
<rect x="139.94" y="463.04" width="0.65" height="8.92" fill="#f86a58" />
<rect x="140.54" y="463.04" width="1.68" height="8.92" fill="#f86a58" />
<rect x="142.17" y="463.04" width="1.53" height="8.92" fill="#f86a58" />
<rect x="143.65" y="463.04" width="1.63" height="8.92" fill="#f6140c" />
<rect x="145.24" y="463.04" width="1.65" height="8.92" fill="#f86a58" />
<rect x="146.84" y="463.04" width="0.71" height="8.92" fill="#f6140c" />
<rect x="147.5" y="463.04" width="1.15" height="8.92" fill="#f6140c" />
<rect x="148.6" y="463.04" width="1.27" height="8.92" fill="#f6140c" />
<rect x="149.82" y="463.04" width="0.92" height="8.92" fill="#f9907e" />
<rect x="150.69" y="463.04" width="1.01" height="8.92" fill="#f9907e" />
<rect x="151.65" y="463.04" width="0.99" height="8.92" fill="#f86a58" />
<rect x="152.59" y="463.04" width="1.2" height="8.92" fill="#f86a58" />
<rect x="153.74" y="463.04" width="1.68" height="8.92" fill="#f86a58" />
<rect x="155.37" y="463.04" width="1.46" height="8.92" fill="#f9907e" />
<rect x="156.78" y="463.04" width="1.53" height="8.92" fill="#f86a58" />
<rect x="158.26" y="463.04" width="0.89" height="8.92" fill="#f86a58" />
<rect x="159.1" y="463.04" width="1.25" height="8.92" fill="#f86a58" />
<rect x="162" y="463.04" width="3" height="8.92" fill="#f5b8aa" />
<rect x="167" y="463.04" width="2" height="8.92" fill="#f86a58" />
<rect x="162.2" y="489.79" width="6.9" height="8.92" fill="#f6140c" />
<rect x="174" y="489.79" width="3" height="8.92" fill="#f86a58" />
<rect x="160.3" y="507.63" width="3.2" height="8.92" fill="#f86a58" />
<rect x="171.5" y="507.63" width="0.6" height="8.92" fill="#f86a58" />
<rect x="172.05" y="507.63" width="0.76" height="8.92" fill="#f86a58" />
<rect x="172.75" y="507.63" width="0.99" height="8.92" fill="#f9907e" />
<rect x="173.69" y="507.63" width="1.5" height="8.92" fill="#f6140c" />
<rect x="175.14" y="507.63" width="1.69" height="8.92" fill="#f9907e" />
<rect x="176.78" y="507.63" width="1.8" height="8.92" fill="#f86a58" />
<rect x="178.53" y="507.63" width="0.55" height="8.92" fill="#f86a58" />
<rect x="179.03" y="507.63" width="1.02" height="8.92" fill="#f86a58" />
<rect x="179.5" y="507.63" width="2.9" height="8.92" fill="#f6140c" />
<rect x="125" y="516.55" width="4.8" height="8.92" fill="#f86a58" />
<rect x="155" y="516.55" width="1.55" height="8.92" fill="#e3e3e3" />
<rect x="156.5" y="516.55" width="0.63" height="8.92" fill="#f5b8aa" />
<rect x="157.08" y="516.55" width="1.05" height="8.92" fill="#f5b8aa" />
<rect x="158.08" y="516.55" width="1.02" height="8.92" fill="#e3e3e3" />
<rect x="159.06" y="516.55" width="0.67" height="8.92" fill="#f2d0c8" />
<rect x="159.68" y="516.55" width="1.4" height="8.92" fill="#e3e3e3" />
<rect x="161.03" y="516.55" width="1.66" height="8.92" fill="#e3e3e3" />
<rect x="162.64" y="516.55" width="1.38" height="8.92" fill="#f2d0c8" />
<rect x="163.97" y="516.55" width="0.72" height="8.92" fill="#f5b8aa" />
<rect x="164.64" y="516.55" width="1.69" height="8.92" fill="#f5b8aa" />
<rect x="166.29" y="516.55" width="0.46" height="8.92" fill="#f5b8aa" />
<rect x="166.69" y="516.55" width="1.42" height="8.92" fill="#f5b8aa" />
<rect x="168.06" y="516.55" width="0.99" height="8.92" fill="#f5b8aa" />
<rect x="171.5" y="516.55" width="1.56" height="8.92" fill="#f8402c" />
<rect x="173.01" y="516.55" width="1.37" height="8.92" fill="#f6140c" />
<rect x="174.33" y="516.55" width="1.02" height="8.92" fill="#f8402c" />
<rect x="175.3" y="516.55" width="1.37" height="8.92" fill="#f6140c" />
<rect x="176.62" y="516.55" width="0.61" height="8.92" fill="#f6140c" />
<rect x="177.17" y="516.55" width="0.45" height="8.92" fill="#f8402c" />
<rect x="177.58" y="516.55" width="1.78" height="8.92" fill="#f6140c" />
<rect x="179.3" y="516.55" width="1.17" height="8.92" fill="#f86a58" />
<rect x="180.42" y="516.55" width="1.76" height="8.92" fill="#f8402c" />
<rect x="182.13" y="516.55" width="1.5" height="8.92" fill="#f86a58" />
<rect x="183.57" y="516.55" width="1.11" height="8.92" fill="#f8402c" />
<rect x="184.63" y="516.55" width="0.42" height="8.92" fill="#f6140c" />
<rect x="162.4" y="445.2" width="1" height="8.92" fill="#f6140c" />
<rect x="172" y="445.2" width="0.8" height="8.92" fill="#f86a58" />
<rect x="126.5" y="480.87" width="0.8" height="8.92" fill="#f5b8aa" />
<rect x="174" y="480.87" width="1" height="8.92" fill="#f5b8aa" />
<rect x="174" y="534.38" width="2" height="8.92" fill="#f5b8aa" />
<rect x="163" y="525.46" width="1" height="17.84" fill="#f5b8aa" />
<rect x="203.8" y="445.2" width="1" height="8.92" fill="#f6140c" />
<rect x="228.4" y="445.2" width="2" height="17.84" fill="#f6140c" />
<rect x="206.3" y="463.04" width="5.7" height="8.92" fill="#f6140c" />
<rect x="175" y="463.04" width="1.85" height="8.92" fill="#f5b8aa" />
<rect x="176.8" y="463.04" width="0.56" height="8.92" fill="#f86a58" />
<rect x="177.31" y="463.04" width="1.8" height="8.92" fill="#f2d0c8" />
<rect x="179.05" y="463.04" width="0.87" height="8.92" fill="#e3e3e3" />
<rect x="179.87" y="463.04" width="1.33" height="8.92" fill="#e3e3e3" />
<rect x="181.15" y="463.04" width="1.25" height="8.92" fill="#f5b8aa" />
<rect x="182.35" y="463.04" width="1.51" height="8.92" fill="#f2d0c8" />
<rect x="183.81" y="463.04" width="1.01" height="8.92" fill="#f5b8aa" />
<rect x="184.77" y="463.04" width="0.28" height="8.92" fill="#f5b8aa" />
<rect x="217.5" y="463.04" width="1.5" height="8.92" fill="#f86a58" />
<rect x="224.5" y="463.04" width="0.63" height="8.92" fill="#f5b8aa" />
<rect x="225.08" y="463.04" width="1.71" height="8.92" fill="#f2d0c8" />
<rect x="226.74" y="463.04" width="1.04" height="8.92" fill="#f5b8aa" />
<rect x="227.73" y="463.04" width="0.95" height="8.92" fill="#f5b8aa" />
<rect x="228.63" y="463.04" width="0.42" height="8.92" fill="#e3e3e3" />
<rect x="175" y="489.79" width="2.4" height="8.92" fill="#f6140c" />
<rect x="204.8" y="489.79" width="1" height="8.92" fill="#f86a58" />
<rect x="227.2" y="489.79" width="1.2" height="8.92" fill="#f6140c" />
<rect x="175" y="507.63" width="1.63" height="8.92" fill="#f9907e" />
<rect x="176.58" y="507.63" width="0.71" height="8.92" fill="#f9907e" />
<rect x="177.24" y="507.63" width="1.25" height="8.92" fill="#f9907e" />
<rect x="178.44" y="507.63" width="1.38" height="8.92" fill="#f6140c" />
<rect x="179.77" y="507.63" width="1.19" height="8.92" fill="#f9907e" />
<rect x="180.92" y="507.63" width="1.18" height="8.92" fill="#f6140c" />
<rect x="182.05" y="507.63" width="0.91" height="8.92" fill="#f9907e" />
<rect x="182.91" y="507.63" width="0.14" height="8.92" fill="#f6140c" />
<rect x="180" y="507.63" width="2.2" height="8.92" fill="#f6140c" />
<rect x="217.5" y="507.63" width="5.5" height="8.92" fill="#f6140c" />
<rect x="226" y="507.63" width="4.4" height="8.92" fill="#f86a58" />
<rect x="175" y="516.55" width="1.25" height="8.92" fill="#f8402c" />
<rect x="176.2" y="516.55" width="1.34" height="8.92" fill="#f8402c" />
<rect x="177.48" y="516.55" width="1.03" height="8.92" fill="#f6140c" />
<rect x="178.46" y="516.55" width="0.64" height="8.92" fill="#f6140c" />
<rect x="179.05" y="516.55" width="1.01" height="8.92" fill="#f6140c" />
<rect x="180.01" y="516.55" width="0.93" height="8.92" fill="#f6140c" />
<rect x="180.89" y="516.55" width="1.23" height="8.92" fill="#f8402c" />
<rect x="182.07" y="516.55" width="0.67" height="8.92" fill="#f86a58" />
<rect x="182.69" y="516.55" width="0.53" height="8.92" fill="#f86a58" />
<rect x="183.17" y="516.55" width="0.77" height="8.92" fill="#f6140c" />
<rect x="183.89" y="516.55" width="0.61" height="8.92" fill="#f6140c" />
<rect x="184.46" y="516.55" width="0.83" height="8.92" fill="#f8402c" />
<rect x="185.24" y="516.55" width="0.55" height="8.92" fill="#f6140c" />
<rect x="185.74" y="516.55" width="1.54" height="8.92" fill="#f6140c" />
<rect x="187.22" y="516.55" width="1.43" height="8.92" fill="#f6140c" />
<rect x="188.6" y="516.55" width="0.85" height="8.92" fill="#f6140c" />
<rect x="192" y="516.55" width="2" height="8.92" fill="#f86a58" />
<rect x="217.5" y="516.55" width="1.46" height="8.92" fill="#f86a58" />
<rect x="218.91" y="516.55" width="0.66" height="8.92" fill="#f6140c" />
<rect x="219.52" y="516.55" width="0.5" height="8.92" fill="#f5b8aa" />
<rect x="219.97" y="516.55" width="1.36" height="8.92" fill="#f86a58" />
<rect x="221.28" y="516.55" width="0.95" height="8.92" fill="#f86a58" />
<rect x="222.17" y="516.55" width="1.31" height="8.92" fill="#f5b8aa" />
<rect x="223.43" y="516.55" width="0.68" height="8.92" fill="#f6140c" />
<rect x="224.06" y="516.55" width="1.7" height="8.92" fill="#f9907e" />
<rect x="225.71" y="516.55" width="0.71" height="8.92" fill="#f86a58" />
<rect x="226.37" y="516.55" width="1.48" height="8.92" fill="#f86a58" />
<rect x="227.81" y="516.55" width="1.15" height="8.92" fill="#f5b8aa" />
<rect x="228.9" y="516.55" width="1.47" height="8.92" fill="#f6140c" />
<rect x="230.32" y="516.55" width="0.13" height="8.92" fill="#f6140c" />
<rect x="205" y="534.38" width="1" height="8.92" fill="#f5b8aa" />
<rect x="217" y="534.38" width="1" height="8.92" fill="#f5b8aa" />
<rect x="202.5" y="471.95" width="1.5" height="8.92" fill="#f5b8aa" />
<rect x="206" y="471.95" width="1" height="8.92" fill="#f5b8aa" />
<line x1="33.3" y1="445.2" x2="33.3" y2="543.3" stroke="#000" stroke-width="0.85" stroke-dasharray="0.95 1.05"/>
<line x1="58.6" y1="445.2" x2="58.6" y2="543.3" stroke="#000" stroke-width="0.85" stroke-dasharray="0.95 1.05"/>
<line x1="71.3" y1="445.2" x2="71.3" y2="543.3" stroke="#000" stroke-width="0.85" stroke-dasharray="0.95 1.05"/>
<line x1="72.8" y1="445.2" x2="72.8" y2="543.3" stroke="#000" stroke-width="0.85" stroke-dasharray="0.95 1.05"/>
<line x1="169.6" y1="445.2" x2="169.6" y2="543.3" stroke="#000" stroke-width="0.85" stroke-dasharray="0.95 1.05"/>
<line x1="189.4" y1="445.2" x2="189.4" y2="543.3" stroke="#000" stroke-width="0.85" stroke-dasharray="0.95 1.05"/>
<line x1="195" y1="445.2" x2="195" y2="543.3" stroke="#000" stroke-width="0.85" stroke-dasharray="0.95 1.05"/>
<line x1="212.4" y1="445.2" x2="212.4" y2="543.3" stroke="#000" stroke-width="0.85" stroke-dasharray="0.95 1.05"/>
<rect x="18.2" y="445.2" width="212.2" height="98.1" fill="none" stroke="#333" stroke-width="0.8" />
<rect x="18.2" y="438.9" width="14.6" height="4" fill="#20a4b4" />
<rect x="32.8" y="438.9" width="26.2" height="4" fill="#b42000" />
<rect x="59" y="438.9" width="12.8" height="4" fill="#1414e0" />
<rect x="71.8" y="438.9" width="2.2" height="4" fill="#20b090" />
<rect x="74" y="438.9" width="95.6" height="4" fill="#9b42f8" />
<rect x="169.6" y="438.9" width="20.2" height="4" fill="#24207a" />
<rect x="189.8" y="438.9" width="5.2" height="4" fill="#1a5a9a" />
<rect x="195" y="438.9" width="18" height="4" fill="#40e0d0" />
<rect x="213" y="438.9" width="17.4" height="4" fill="#f0a000" />
<rect x="18.2" y="442.9" width="14.6" height="2.1" fill="#8a1010" />
<rect x="32.8" y="442.9" width="26.2" height="2.1" fill="#8a5a10" />
<rect x="59" y="442.9" width="12.8" height="2.1" fill="#5a8a20" />
<rect x="71.8" y="442.9" width="97.8" height="2.1" fill="#1a8a6a" />
<rect x="169.6" y="442.9" width="20.2" height="2.1" fill="#1a4a7a" />
<rect x="189.8" y="442.9" width="5.2" height="2.1" fill="#20207a" />
<rect x="195" y="442.9" width="35.4" height="2.1" fill="#6a2a8a" />
<rect x="18.2" y="438.9" width="212.2" height="6.1" fill="none" stroke="#2a2a2a" stroke-width="0.6" />
<text x="234.2" y="452.16" font-size="7" textLength="23.7" lengthAdjust="spacingAndGlyphs" >FLT3LG</text>
<text x="234.2" y="461.08" font-size="7" textLength="18" lengthAdjust="spacingAndGlyphs" >BMP4</text>
<text x="234.2" y="470" font-size="7" textLength="24.7" lengthAdjust="spacingAndGlyphs" >CXCL12</text>
<text x="234.2" y="478.91" font-size="7" textLength="15.6" lengthAdjust="spacingAndGlyphs" >DLL4</text>
<text x="234.2" y="487.83" font-size="7" textLength="21.3" lengthAdjust="spacingAndGlyphs" >CCL25</text>
<text x="234.2" y="496.75" font-size="7" textLength="14.8" lengthAdjust="spacingAndGlyphs" >IL-15</text>
<text x="234.2" y="505.67" font-size="7" textLength="12.3" lengthAdjust="spacingAndGlyphs" >IL-7</text>
<text x="234.2" y="514.59" font-size="7" textLength="20.5" lengthAdjust="spacingAndGlyphs" >CCL21</text>
<text x="234.2" y="523.5" font-size="7" textLength="20.9" lengthAdjust="spacingAndGlyphs" >CCL19</text>
<text x="234.2" y="532.42" font-size="7" textLength="18" lengthAdjust="spacingAndGlyphs" >BMP2</text>
<text x="234.2" y="541.34" font-size="7" textLength="19" lengthAdjust="spacingAndGlyphs" >KITLG</text>
<text x="253.7" y="435" font-size="12.4" font-weight="bold" fill="#000" stroke="#000" stroke-width="0.45">g</text>
<text x="364.9" y="435.1" font-size="8.4" textLength="24.9" lengthAdjust="spacingAndGlyphs" >Mouse</text>
<rect x="263.6" y="445.2" width="227.1" height="98.1" fill="#e3e3e3" />
<rect x="272.2" y="445.2" width="0.8" height="17.84" fill="#f6140c" />
<rect x="265.6" y="463.04" width="2.4" height="8.92" fill="#f86a58" />
<rect x="272" y="463.04" width="1.55" height="8.92" fill="#f6140c" />
<rect x="273.5" y="463.04" width="1.24" height="8.92" fill="#f6140c" />
<rect x="274.69" y="463.04" width="1.68" height="8.92" fill="#f6140c" />
<rect x="276.32" y="463.04" width="1.68" height="8.92" fill="#f6140c" />
<rect x="277.94" y="463.04" width="1.53" height="8.92" fill="#f8402c" />
<rect x="279.43" y="463.04" width="0.8" height="8.92" fill="#f6140c" />
<rect x="280.18" y="463.04" width="1.27" height="8.92" fill="#f6140c" />
<rect x="281.4" y="463.04" width="0.87" height="8.92" fill="#f6140c" />
<rect x="282.22" y="463.04" width="0.64" height="8.92" fill="#f6140c" />
<rect x="282.8" y="463.04" width="1.68" height="8.92" fill="#f8402c" />
<rect x="284.44" y="463.04" width="0.86" height="8.92" fill="#f86a58" />
<rect x="285.24" y="463.04" width="1.05" height="8.92" fill="#f6140c" />
<rect x="286.24" y="463.04" width="0.51" height="8.92" fill="#f6140c" />
<rect x="286.7" y="463.04" width="1.3" height="8.92" fill="#f8402c" />
<rect x="287.95" y="463.04" width="1.1" height="8.92" fill="#f8402c" />
<rect x="272.8" y="489.79" width="1.2" height="8.92" fill="#f6140c" />
<rect x="271.5" y="471.95" width="1.5" height="8.92" fill="#f5b8aa" />
<rect x="280.9" y="534.38" width="8.8" height="8.92" fill="#f6140c" />
<rect x="268" y="534.38" width="0.8" height="8.92" fill="#f6140c" />
<rect x="272" y="534.38" width="2" height="8.92" fill="#f86a58" />
<rect x="267.5" y="516.55" width="1" height="17.84" fill="#f5b8aa" />
<rect x="347" y="445.2" width="14.5" height="8.92" fill="#f6140c" />
<rect x="345" y="463.04" width="3" height="8.92" fill="#f5b8aa" />
<rect x="352.2" y="463.04" width="1.58" height="8.92" fill="#f6140c" />
<rect x="353.73" y="463.04" width="0.98" height="8.92" fill="#f86a58" />
<rect x="354.66" y="463.04" width="1.3" height="8.92" fill="#f5b8aa" />
<rect x="355.91" y="463.04" width="0.66" height="8.92" fill="#f6140c" />
<rect x="356.52" y="463.04" width="1.52" height="8.92" fill="#f86a58" />
<rect x="357.99" y="463.04" width="0.36" height="8.92" fill="#f9907e" />
<rect x="360" y="463.04" width="1.5" height="8.92" fill="#f86a58" />
<rect x="366.3" y="463.04" width="1.17" height="8.92" fill="#f86a58" />
<rect x="367.42" y="463.04" width="0.69" height="8.92" fill="#f9907e" />
<rect x="368.06" y="463.04" width="1.84" height="8.92" fill="#f86a58" />
<rect x="369.85" y="463.04" width="0.79" height="8.92" fill="#f86a58" />
<rect x="370.59" y="463.04" width="0.68" height="8.92" fill="#f5b8aa" />
<rect x="371.22" y="463.04" width="0.58" height="8.92" fill="#f6140c" />
<rect x="371.75" y="463.04" width="1.24" height="8.92" fill="#f6140c" />
<rect x="372.94" y="463.04" width="1.62" height="8.92" fill="#f86a58" />
<rect x="374.51" y="463.04" width="0.54" height="8.92" fill="#f86a58" />
<rect x="344.7" y="480.87" width="1.1" height="8.92" fill="#f86a58" />
<rect x="345.2" y="498.71" width="1.8" height="8.92" fill="#f6140c" />
<rect x="357" y="516.55" width="4.8" height="8.92" fill="#f6140c" />
<rect x="368.7" y="516.55" width="1.6" height="8.92" fill="#f6140c" />
<rect x="345" y="516.55" width="1.5" height="8.92" fill="#f86a58" />
<rect x="361.5" y="534.38" width="1.33" height="8.92" fill="#f6140c" />
<rect x="362.78" y="534.38" width="1.83" height="8.92" fill="#f8402c" />
<rect x="364.57" y="534.38" width="0.71" height="8.92" fill="#f86a58" />
<rect x="365.22" y="534.38" width="0.66" height="8.92" fill="#f6140c" />
<rect x="365.83" y="534.38" width="1.15" height="8.92" fill="#f86a58" />
<rect x="366.93" y="534.38" width="0.55" height="8.92" fill="#f6140c" />
<rect x="367.44" y="534.38" width="0.93" height="8.92" fill="#f6140c" />
<rect x="368.32" y="534.38" width="1.12" height="8.92" fill="#f6140c" />
<rect x="369.39" y="534.38" width="0.96" height="8.92" fill="#f6140c" />
<rect x="356" y="534.38" width="1.5" height="8.92" fill="#f86a58" />
<rect x="346" y="534.38" width="1" height="8.92" fill="#f86a58" />
<rect x="345" y="445.2" width="1" height="35.67" fill="#f5b8aa" />
<rect x="423" y="445.2" width="1.2" height="8.92" fill="#f6140c" />
<rect x="424.5" y="454.12" width="5.5" height="8.92" fill="#f6140c" />
<rect x="370" y="463.04" width="0.78" height="8.92" fill="#e3e3e3" />
<rect x="370.73" y="463.04" width="1.13" height="8.92" fill="#f86a58" />
<rect x="371.8" y="463.04" width="1.06" height="8.92" fill="#f5b8aa" />
<rect x="372.82" y="463.04" width="1.72" height="8.92" fill="#f5b8aa" />
<rect x="374.48" y="463.04" width="0.64" height="8.92" fill="#f5b8aa" />
<rect x="375.07" y="463.04" width="0.69" height="8.92" fill="#f5b8aa" />
<rect x="375.71" y="463.04" width="0.68" height="8.92" fill="#e3e3e3" />
<rect x="376.35" y="463.04" width="1.39" height="8.92" fill="#e3e3e3" />
<rect x="377.69" y="463.04" width="1.73" height="8.92" fill="#e3e3e3" />
<rect x="379.37" y="463.04" width="0.56" height="8.92" fill="#f5b8aa" />
<rect x="379.88" y="463.04" width="1.18" height="8.92" fill="#f2d0c8" />
<rect x="381.02" y="463.04" width="1" height="8.92" fill="#e3e3e3" />
<rect x="381.97" y="463.04" width="0.55" height="8.92" fill="#f5b8aa" />
<rect x="382.47" y="463.04" width="0.9" height="8.92" fill="#e3e3e3" />
<rect x="383.32" y="463.04" width="0.92" height="8.92" fill="#f5b8aa" />
<rect x="384.19" y="463.04" width="0.59" height="8.92" fill="#f86a58" />
<rect x="384.73" y="463.04" width="1.77" height="8.92" fill="#f2d0c8" />
<rect x="386.45" y="463.04" width="0.54" height="8.92" fill="#f5b8aa" />
<rect x="386.94" y="463.04" width="1.75" height="8.92" fill="#f5b8aa" />
<rect x="388.63" y="463.04" width="0.71" height="8.92" fill="#f5b8aa" />
<rect x="389.29" y="463.04" width="0.46" height="8.92" fill="#e3e3e3" />
<rect x="389.7" y="463.04" width="0.86" height="8.92" fill="#f5b8aa" />
<rect x="390.52" y="463.04" width="0.61" height="8.92" fill="#f5b8aa" />
<rect x="391.08" y="463.04" width="0.99" height="8.92" fill="#f5b8aa" />
<rect x="392.02" y="463.04" width="0.53" height="8.92" fill="#f5b8aa" />
<rect x="392.5" y="463.04" width="1.08" height="8.92" fill="#f6140c" />
<rect x="393.53" y="463.04" width="0.95" height="8.92" fill="#f86a58" />
<rect x="394.43" y="463.04" width="1.3" height="8.92" fill="#f9907e" />
<rect x="395.68" y="463.04" width="0.48" height="8.92" fill="#f86a58" />
<rect x="396.11" y="463.04" width="1.7" height="8.92" fill="#f86a58" />
<rect x="397.75" y="463.04" width="1.2" height="8.92" fill="#f6140c" />
<rect x="398.91" y="463.04" width="0.48" height="8.92" fill="#f86a58" />
<rect x="399.34" y="463.04" width="0.41" height="8.92" fill="#f86a58" />
<rect x="416.5" y="463.04" width="1.32" height="8.92" fill="#f6140c" />
<rect x="417.77" y="463.04" width="1.35" height="8.92" fill="#f9907e" />
<rect x="419.07" y="463.04" width="0.61" height="8.92" fill="#f9907e" />
<rect x="419.63" y="463.04" width="0.56" height="8.92" fill="#f86a58" />
<rect x="420.14" y="463.04" width="1.15" height="8.92" fill="#f5b8aa" />
<rect x="421.24" y="463.04" width="1.68" height="8.92" fill="#f5b8aa" />
<rect x="422.87" y="463.04" width="1.72" height="8.92" fill="#f86a58" />
<rect x="424.53" y="463.04" width="0.91" height="8.92" fill="#f86a58" />
<rect x="425.39" y="463.04" width="1.58" height="8.92" fill="#f86a58" />
<rect x="426.92" y="463.04" width="0.93" height="8.92" fill="#f6140c" />
<rect x="393.3" y="516.55" width="1.75" height="8.92" fill="#f6140c" />
<rect x="395" y="516.55" width="0.82" height="8.92" fill="#f6140c" />
<rect x="395.78" y="516.55" width="0.83" height="8.92" fill="#f8402c" />
<rect x="396.56" y="516.55" width="1.32" height="8.92" fill="#f6140c" />
<rect x="397.83" y="516.55" width="0.75" height="8.92" fill="#f86a58" />
<rect x="398.52" y="516.55" width="1.18" height="8.92" fill="#f8402c" />
<rect x="399.65" y="516.55" width="0.56" height="8.92" fill="#f86a58" />
<rect x="400.16" y="516.55" width="0.62" height="8.92" fill="#f6140c" />
<rect x="400.73" y="516.55" width="0.85" height="8.92" fill="#f86a58" />
<rect x="401.53" y="516.55" width="1.05" height="8.92" fill="#f8402c" />
<rect x="402.52" y="516.55" width="1.16" height="8.92" fill="#f6140c" />
<rect x="403.64" y="516.55" width="1.3" height="8.92" fill="#f6140c" />
<rect x="404.89" y="516.55" width="1.73" height="8.92" fill="#f86a58" />
<rect x="406.57" y="516.55" width="1.54" height="8.92" fill="#f6140c" />
<rect x="408.05" y="516.55" width="1.28" height="8.92" fill="#f8402c" />
<rect x="409.28" y="516.55" width="1.09" height="8.92" fill="#f86a58" />
<rect x="410.32" y="516.55" width="0.92" height="8.92" fill="#f6140c" />
<rect x="411.19" y="516.55" width="0.86" height="8.92" fill="#f6140c" />
<rect x="419.7" y="516.55" width="1.24" height="8.92" fill="#f6140c" />
<rect x="420.89" y="516.55" width="1.66" height="8.92" fill="#f6140c" />
<rect x="422.5" y="516.55" width="1.04" height="8.92" fill="#f6140c" />
<rect x="423.49" y="516.55" width="0.48" height="8.92" fill="#f8402c" />
<rect x="423.92" y="516.55" width="0.76" height="8.92" fill="#f6140c" />
<rect x="424.62" y="516.55" width="0.47" height="8.92" fill="#f86a58" />
<rect x="425.04" y="516.55" width="1.61" height="8.92" fill="#f8402c" />
<rect x="426.6" y="516.55" width="0.45" height="8.92" fill="#f6140c" />
<rect x="412" y="525.46" width="12.2" height="8.92" fill="#f6140c" />
<rect x="411" y="534.38" width="1" height="8.92" fill="#f5b8aa" />
<rect x="421" y="534.38" width="1.6" height="8.92" fill="#f5b8aa" />
<rect x="422.55" y="534.38" width="1.85" height="8.92" fill="#f2d0c8" />
<rect x="424.34" y="534.38" width="0.6" height="8.92" fill="#f5b8aa" />
<rect x="424.89" y="534.38" width="1.5" height="8.92" fill="#f2d0c8" />
<rect x="426.34" y="534.38" width="0.71" height="8.92" fill="#f86a58" />
<rect x="423.5" y="471.95" width="0.8" height="26.75" fill="#f5b8aa" />
<rect x="435.4" y="445.2" width="2.4" height="8.92" fill="#f6140c" />
<rect x="444.3" y="445.2" width="1.6" height="8.92" fill="#f6140c" />
<rect x="425" y="454.12" width="10.9" height="8.92" fill="#f6140c" />
<rect x="444" y="454.12" width="3.8" height="8.92" fill="#f6140c" />
<rect x="430" y="463.04" width="0.83" height="8.92" fill="#e3e3e3" />
<rect x="430.78" y="463.04" width="0.88" height="8.92" fill="#f5b8aa" />
<rect x="431.6" y="463.04" width="1.5" height="8.92" fill="#f86a58" />
<rect x="433.06" y="463.04" width="0.5" height="8.92" fill="#e3e3e3" />
<rect x="433.51" y="463.04" width="1.61" height="8.92" fill="#f5b8aa" />
<rect x="435.07" y="463.04" width="1.11" height="8.92" fill="#f5b8aa" />
<rect x="436.13" y="463.04" width="1.69" height="8.92" fill="#e3e3e3" />
<rect x="437.77" y="463.04" width="1.13" height="8.92" fill="#e3e3e3" />
<rect x="438.85" y="463.04" width="0.88" height="8.92" fill="#f2d0c8" />
<rect x="439.68" y="463.04" width="0.8" height="8.92" fill="#f5b8aa" />
<rect x="440.43" y="463.04" width="1.34" height="8.92" fill="#f2d0c8" />
<rect x="441.72" y="463.04" width="0.85" height="8.92" fill="#f5b8aa" />
<rect x="442.52" y="463.04" width="0.91" height="8.92" fill="#f5b8aa" />
<rect x="443.38" y="463.04" width="1.57" height="8.92" fill="#f5b8aa" />
<rect x="444.9" y="463.04" width="1.31" height="8.92" fill="#e3e3e3" />
<rect x="446.16" y="463.04" width="1.17" height="8.92" fill="#f5b8aa" />
<rect x="447.28" y="463.04" width="1.23" height="8.92" fill="#f5b8aa" />
<rect x="448.46" y="463.04" width="1.25" height="8.92" fill="#f5b8aa" />
<rect x="449.66" y="463.04" width="0.39" height="8.92" fill="#f2d0c8" />
<rect x="465" y="463.04" width="1.26" height="8.92" fill="#f6140c" />
<rect x="466.21" y="463.04" width="0.46" height="8.92" fill="#f6140c" />
<rect x="466.63" y="463.04" width="1.05" height="8.92" fill="#f6140c" />
<rect x="467.62" y="463.04" width="0.57" height="8.92" fill="#f86a58" />
<rect x="468.14" y="463.04" width="1.67" height="8.92" fill="#f6140c" />
<rect x="469.76" y="463.04" width="1.54" height="8.92" fill="#f86a58" />
<rect x="471.25" y="463.04" width="0.72" height="8.92" fill="#f86a58" />
<rect x="471.91" y="463.04" width="1.47" height="8.92" fill="#f86a58" />
<rect x="473.34" y="463.04" width="0.69" height="8.92" fill="#f5b8aa" />
<rect x="473.98" y="463.04" width="0.07" height="8.92" fill="#f86a58" />
<rect x="448.3" y="480.87" width="4.8" height="8.92" fill="#f6140c" />
<rect x="468" y="480.87" width="3.6" height="8.92" fill="#f6140c" />
<rect x="482" y="480.87" width="1" height="8.92" fill="#f6140c" />
<rect x="434.3" y="489.79" width="9.6" height="8.92" fill="#f6140c" />
<rect x="471.6" y="498.71" width="3.2" height="8.92" fill="#f6140c" />
<rect x="468" y="498.71" width="2" height="8.92" fill="#f86a58" />
<rect x="465" y="507.63" width="0.57" height="8.92" fill="#f86a58" />
<rect x="465.52" y="507.63" width="0.9" height="8.92" fill="#f5b8aa" />
<rect x="466.38" y="507.63" width="0.87" height="8.92" fill="#f5b8aa" />
<rect x="467.19" y="507.63" width="1.16" height="8.92" fill="#f2d0c8" />
<rect x="468.3" y="507.63" width="1.36" height="8.92" fill="#f5b8aa" />
<rect x="469.61" y="507.63" width="1.12" height="8.92" fill="#e3e3e3" />
<rect x="470.68" y="507.63" width="0.94" height="8.92" fill="#f5b8aa" />
<rect x="471.57" y="507.63" width="0.63" height="8.92" fill="#f5b8aa" />
<rect x="472.15" y="507.63" width="0.9" height="8.92" fill="#e3e3e3" />
<rect x="425" y="516.55" width="2.4" height="8.92" fill="#f6140c" />
<rect x="435" y="516.55" width="1.77" height="8.92" fill="#f86a58" />
<rect x="436.72" y="516.55" width="1.64" height="8.92" fill="#f5b8aa" />
<rect x="438.31" y="516.55" width="1.3" height="8.92" fill="#f9907e" />
<rect x="439.56" y="516.55" width="1.79" height="8.92" fill="#f5b8aa" />
<rect x="441.3" y="516.55" width="0.94" height="8.92" fill="#f86a58" />
<rect x="442.19" y="516.55" width="1.47" height="8.92" fill="#f5b8aa" />
<rect x="443.61" y="516.55" width="0.88" height="8.92" fill="#f6140c" />
<rect x="444.44" y="516.55" width="1.3" height="8.92" fill="#f86a58" />
<rect x="445.69" y="516.55" width="0.66" height="8.92" fill="#f9907e" />
<rect x="446.3" y="516.55" width="0.51" height="8.92" fill="#f5b8aa" />
<rect x="446.77" y="516.55" width="0.9" height="8.92" fill="#f5b8aa" />
<rect x="447.61" y="516.55" width="0.86" height="8.92" fill="#f86a58" />
<rect x="448.42" y="516.55" width="0.69" height="8.92" fill="#f86a58" />
<rect x="449.07" y="516.55" width="1.42" height="8.92" fill="#f6140c" />
<rect x="450.44" y="516.55" width="0.61" height="8.92" fill="#f86a58" />
<rect x="480" y="516.55" width="3" height="8.92" fill="#f86a58" />
<rect x="457.9" y="525.46" width="2.7" height="8.92" fill="#f6140c" />
<rect x="435.4" y="525.46" width="1.6" height="8.92" fill="#f6140c" />
<rect x="446" y="525.46" width="1.6" height="8.92" fill="#f6140c" />
<rect x="461" y="534.38" width="1.6" height="8.92" fill="#f6140c" />
<rect x="457" y="534.38" width="1" height="8.92" fill="#f86a58" />
<rect x="486" y="445.2" width="2" height="17.84" fill="#f5b8aa" />
<rect x="489" y="489.79" width="1" height="17.84" fill="#f5b8aa" />
<rect x="478" y="489.79" width="2" height="17.84" fill="#f5b8aa" />
<rect x="485" y="516.55" width="2" height="17.84" fill="#f5b8aa" />
<line x1="269.1" y1="445.2" x2="269.1" y2="543.3" stroke="#000" stroke-width="0.85" stroke-dasharray="0.95 1.05"/>
<line x1="290.5" y1="445.2" x2="290.5" y2="543.3" stroke="#000" stroke-width="0.85" stroke-dasharray="0.95 1.05"/>
<line x1="293.7" y1="445.2" x2="293.7" y2="543.3" stroke="#000" stroke-width="0.85" stroke-dasharray="0.95 1.05"/>
<line x1="453.3" y1="445.2" x2="453.3" y2="543.3" stroke="#000" stroke-width="0.85" stroke-dasharray="0.95 1.05"/>
<line x1="454.4" y1="445.2" x2="454.4" y2="543.3" stroke="#000" stroke-width="0.85" stroke-dasharray="0.95 1.05"/>
<line x1="463.6" y1="445.2" x2="463.6" y2="543.3" stroke="#000" stroke-width="0.85" stroke-dasharray="0.95 1.05"/>
<line x1="474.8" y1="445.2" x2="474.8" y2="543.3" stroke="#000" stroke-width="0.85" stroke-dasharray="0.95 1.05"/>
<line x1="483.2" y1="445.2" x2="483.2" y2="543.3" stroke="#000" stroke-width="0.85" stroke-dasharray="0.95 1.05"/>
<rect x="263.6" y="445.2" width="227.1" height="98.1" fill="none" stroke="#333" stroke-width="0.8" />
<rect x="263.6" y="440" width="5.7" height="3.3" fill="#f0a020" />
<rect x="269.3" y="440" width="21.2" height="3.3" fill="#10e0f0" />
<rect x="290.5" y="440" width="4" height="3.3" fill="#e0307a" />
<rect x="294.5" y="440" width="158.6" height="3.3" fill="#9b42f8" />
<rect x="453.1" y="440" width="2.4" height="3.3" fill="#40c040" />
<rect x="455.5" y="440" width="7.7" height="3.3" fill="#a01a10" />
<rect x="463.2" y="440" width="11.6" height="3.3" fill="#1010e0" />
<rect x="474.8" y="440" width="8.3" height="3.3" fill="#e0a040" />
<rect x="483.1" y="440" width="7.6" height="3.3" fill="#70e050" />
<rect x="263.6" y="440" width="227.1" height="3.3" fill="none" stroke="#2a2a2a" stroke-width="0.6" />
<text x="493.3" y="452.16" font-size="7" textLength="14.3" lengthAdjust="spacingAndGlyphs" >Flt3l</text>
<text x="493.3" y="461.08" font-size="7" textLength="18.7" lengthAdjust="spacingAndGlyphs" >Bmp4</text>
<text x="493.3" y="470" font-size="7" textLength="21" lengthAdjust="spacingAndGlyphs" >Cxcl12</text>
<text x="493.3" y="478.91" font-size="7" textLength="12.9" lengthAdjust="spacingAndGlyphs" >Dll4</text>
<text x="493.3" y="487.83" font-size="7" textLength="18.7" lengthAdjust="spacingAndGlyphs" >Ccl25</text>
<text x="493.3" y="496.75" font-size="7" textLength="11.5" lengthAdjust="spacingAndGlyphs" >Il15</text>
<text x="493.3" y="505.67" font-size="7" textLength="7.7" lengthAdjust="spacingAndGlyphs" >Il7</text>
<text x="493.3" y="514.59" font-size="7" textLength="21.5" lengthAdjust="spacingAndGlyphs" >Ccl21a</text>
<text x="493.3" y="523.5" font-size="7" textLength="18" lengthAdjust="spacingAndGlyphs" >Ccl19</text>
<text x="493.3" y="532.42" font-size="7" textLength="18.7" lengthAdjust="spacingAndGlyphs" >Bmp2</text>
<text x="493.3" y="541.34" font-size="7" textLength="10.6" lengthAdjust="spacingAndGlyphs" >Kitl</text>
<text x="0.2" y="564.4" font-size="12.4" font-weight="bold" fill="#000" stroke="#000" stroke-width="0.45">h</text>
<text x="106.2" y="564.1" font-size="8.4" textLength="27.5" lengthAdjust="spacingAndGlyphs" >Human</text>
<text x="41" y="577.3" font-size="8.4" textLength="25.5" lengthAdjust="spacingAndGlyphs" >CCL19</text>
<text x="116.6" y="575" font-size="8.4" textLength="28.6" lengthAdjust="spacingAndGlyphs" >FLT3LG</text>
<text x="191" y="576.8" font-size="8.4" textLength="17.4" lengthAdjust="spacingAndGlyphs" >IL-15</text>
<rect x="38.35" y="637.4" width="4.3" height="9.1" fill="#fff" stroke="#10e6f6" stroke-width="0.9" />
<line x1="40.5" y1="639.95" x2="40.5" y2="634.85" stroke="#444" stroke-width="0.6" />
<line x1="39.1" y1="634.85" x2="41.9" y2="634.85" stroke="#444" stroke-width="0.6" />
<line x1="39.1" y1="639.95" x2="41.9" y2="639.95" stroke="#444" stroke-width="0.6" />
<line x1="40.5" y1="646.5" x2="40.5" y2="648.5" stroke="#888" stroke-width="0.5" />
<rect x="45.45" y="617.02" width="4.7" height="29.48" fill="#fff" stroke="#c89cff" stroke-width="0.9" />
<line x1="47.8" y1="619.93" x2="47.8" y2="614.1" stroke="#444" stroke-width="0.6" />
<line x1="46.4" y1="614.1" x2="49.2" y2="614.1" stroke="#444" stroke-width="0.6" />
<line x1="46.4" y1="619.93" x2="49.2" y2="619.93" stroke="#444" stroke-width="0.6" />
<line x1="47.8" y1="646.5" x2="47.8" y2="648.5" stroke="#888" stroke-width="0.5" />
<rect x="53.45" y="642.13" width="4.1" height="4.37" fill="#fff" stroke="#0a168e" stroke-width="0.9" />
<line x1="55.5" y1="642.5" x2="55.5" y2="641.77" stroke="#444" stroke-width="0.6" />
<line x1="54.1" y1="641.77" x2="56.9" y2="641.77" stroke="#444" stroke-width="0.6" />
<line x1="54.1" y1="642.5" x2="56.9" y2="642.5" stroke="#444" stroke-width="0.6" />
<line x1="55.5" y1="646.5" x2="55.5" y2="648.5" stroke="#888" stroke-width="0.5" />
<rect x="60.25" y="641.4" width="4.5" height="5.1" fill="#fff" stroke="#1a88f6" stroke-width="0.9" />
<line x1="62.5" y1="641.95" x2="62.5" y2="640.86" stroke="#444" stroke-width="0.6" />
<line x1="61.1" y1="640.86" x2="63.9" y2="640.86" stroke="#444" stroke-width="0.6" />
<line x1="61.1" y1="641.95" x2="63.9" y2="641.95" stroke="#444" stroke-width="0.6" />
<line x1="62.5" y1="646.5" x2="62.5" y2="648.5" stroke="#888" stroke-width="0.5" />
<rect x="67.95" y="626.84" width="4.5" height="19.66" fill="#fff" stroke="#9cbcdc" stroke-width="0.9" />
<line x1="70.2" y1="627.94" x2="70.2" y2="625.75" stroke="#444" stroke-width="0.6" />
<line x1="68.8" y1="625.75" x2="71.6" y2="625.75" stroke="#444" stroke-width="0.6" />
<line x1="68.8" y1="627.94" x2="71.6" y2="627.94" stroke="#444" stroke-width="0.6" />
<line x1="70.2" y1="646.5" x2="70.2" y2="648.5" stroke="#888" stroke-width="0.5" />
<line x1="35.6" y1="591.7" x2="35.6" y2="646.5" stroke="#555" stroke-width="0.7" />
<line x1="35.3" y1="646.5" x2="74.9" y2="646.5" stroke="#555" stroke-width="0.7" />
<line x1="33.4" y1="646.5" x2="35.6" y2="646.5" stroke="#555" stroke-width="0.6" />
<text x="30.4" y="649" font-size="7" text-anchor="end" >0</text>
<line x1="33.4" y1="628.3" x2="35.6" y2="628.3" stroke="#555" stroke-width="0.6" />
<text x="30.4" y="630.8" font-size="7" text-anchor="end" >5</text>
<line x1="33.4" y1="610.1" x2="35.6" y2="610.1" stroke="#555" stroke-width="0.6" />
<text x="30.4" y="612.6" font-size="7" text-anchor="end" >10</text>
<line x1="33.4" y1="591.9" x2="35.6" y2="591.9" stroke="#555" stroke-width="0.6" />
<text x="30.4" y="594.4" font-size="7" text-anchor="end" >15</text>
<text x="7.6" y="634.9" font-size="8.2" textLength="32" lengthAdjust="spacingAndGlyphs" transform="rotate(-90 7.6 634.9)" >MFI ratio</text>
<text x="16.4" y="651.2" font-size="8.2" textLength="64.2" lengthAdjust="spacingAndGlyphs" transform="rotate(-90 16.4 651.2)" >(sample/isotype)</text>
<circle cx="38.89" cy="642.13" r="1.4" fill="#10e6f6"/>
<circle cx="42.15" cy="641.04" r="1.4" fill="#10e6f6"/>
<circle cx="41.28" cy="638.86" r="1.4" fill="#10e6f6"/>
<circle cx="41.68" cy="637.04" r="1.4" fill="#10e6f6"/>
<circle cx="41.71" cy="633.76" r="1.4" fill="#10e6f6"/>
<circle cx="40.9" cy="632.67" r="1.4" fill="#10e6f6"/>
<circle cx="49.57" cy="622.84" r="1.4" fill="#a040f0"/>
<circle cx="49.08" cy="618.84" r="1.4" fill="#a040f0"/>
<circle cx="46.33" cy="616.29" r="1.4" fill="#a040f0"/>
<circle cx="45.98" cy="613.74" r="1.4" fill="#a040f0"/>
<circle cx="47.38" cy="607.19" r="1.4" fill="#a040f0"/>
<circle cx="54.46" cy="643.22" r="1.4" fill="#0a168e"/>
<circle cx="54.35" cy="642.86" r="1.4" fill="#0a168e"/>
<circle cx="55.71" cy="642.5" r="1.4" fill="#0a168e"/>
<circle cx="56.93" cy="642.13" r="1.4" fill="#0a168e"/>
<circle cx="54.32" cy="641.77" r="1.4" fill="#0a168e"/>
<circle cx="64.33" cy="642.5" r="1.4" fill="#1a88f6"/>
<circle cx="61.6" cy="641.77" r="1.4" fill="#1a88f6"/>
<circle cx="62.89" cy="641.04" r="1.4" fill="#1a88f6"/>
<circle cx="60.99" cy="640.31" r="1.4" fill="#1a88f6"/>
<circle cx="62.15" cy="639.58" r="1.4" fill="#1a88f6"/>
<circle cx="71.17" cy="629.03" r="1.4" fill="#1a5a9a"/>
<circle cx="71.28" cy="627.94" r="1.4" fill="#1a5a9a"/>
<circle cx="68.86" cy="626.48" r="1.4" fill="#1a5a9a"/>
<circle cx="71.64" cy="625.02" r="1.4" fill="#1a5a9a"/>
<circle cx="71.42" cy="623.93" r="1.4" fill="#1a5a9a"/>
<path d="M41.2 629.8 L41.2 585.6 L47.7 585.6 L47.7 587.8" fill="none" stroke="#7a7a7a" stroke-width="0.65" />
<polygon points="38.07,579.95 38.66,581.24 40.07,581.4 39.03,582.36 39.31,583.75 38.07,583.05 36.84,583.75 37.12,582.36 36.08,581.4 37.49,581.24" fill="#151515" stroke="none" stroke-width="0" />
<polygon points="42.42,579.95 43.01,581.24 44.42,581.4 43.38,582.36 43.66,583.75 42.42,583.05 41.19,583.75 41.47,582.36 40.43,581.4 41.84,581.24" fill="#151515" stroke="none" stroke-width="0" />
<polygon points="46.77,579.95 47.36,581.24 48.77,581.4 47.73,582.36 48.01,583.75 46.77,583.05 45.54,583.75 45.82,582.36 44.78,581.4 46.19,581.24" fill="#151515" stroke="none" stroke-width="0" />
<polygon points="51.12,579.95 51.71,581.24 53.12,581.4 52.08,582.36 52.36,583.75 51.12,583.05 49.89,583.75 50.17,582.36 49.13,581.4 50.54,581.24" fill="#151515" stroke="none" stroke-width="0" />
<path d="M47.7 587.8 L47.7 589.5 L69.2 589.5 L69.2 622" fill="none" stroke="#7a7a7a" stroke-width="0.65" />
<polygon points="54.63,584.15 55.22,585.44 56.63,585.6 55.58,586.56 55.87,587.95 54.63,587.25 53.4,587.95 53.68,586.56 52.64,585.6 54.05,585.44" fill="#151515" stroke="none" stroke-width="0" />
<polygon points="58.7,584.15 59.29,585.44 60.7,585.6 59.65,586.56 59.93,587.95 58.7,587.25 57.47,587.95 57.75,586.56 56.7,585.6 58.11,585.44" fill="#151515" stroke="none" stroke-width="0" />
<polygon points="62.77,584.15 63.35,585.44 64.76,585.6 63.72,586.56 64,587.95 62.77,587.25 61.53,587.95 61.82,586.56 60.77,585.6 62.18,585.44" fill="#151515" stroke="none" stroke-width="0" />
<path d="M47.7 598.5 L47.7 596.9 L62.2 596.9 L62.2 637.4" fill="none" stroke="#7a7a7a" stroke-width="0.65" />
<polygon points="49.59,591.15 50.18,592.44 51.58,592.6 50.54,593.56 50.82,594.95 49.59,594.25 48.35,594.95 48.64,593.56 47.59,592.6 49,592.44" fill="#151515" stroke="none" stroke-width="0" />
<polygon points="53.76,591.15 54.35,592.44 55.76,592.6 54.71,593.56 55,594.95 53.76,594.25 52.53,594.95 52.81,593.56 51.77,592.6 53.17,592.44" fill="#151515" stroke="none" stroke-width="0" />
<polygon points="57.94,591.15 58.53,592.44 59.93,592.6 58.89,593.56 59.17,594.95 57.94,594.25 56.7,594.95 56.99,593.56 55.94,592.6 57.35,592.44" fill="#151515" stroke="none" stroke-width="0" />
<polygon points="62.11,591.15 62.7,592.44 64.11,592.6 63.06,593.56 63.35,594.95 62.11,594.25 60.88,594.95 61.16,593.56 60.12,592.6 61.52,592.44" fill="#151515" stroke="none" stroke-width="0" />
<path d="M47.7 606 L47.7 604.4 L55.5 604.4 L55.5 639.6" fill="none" stroke="#7a7a7a" stroke-width="0.65" />
<polygon points="45.12,599.35 45.71,600.64 47.12,600.8 46.08,601.76 46.36,603.15 45.12,602.45 43.89,603.15 44.17,601.76 43.13,600.8 44.54,600.64" fill="#151515" stroke="none" stroke-width="0" />
<polygon points="49.38,599.35 49.96,600.64 51.37,600.8 50.33,601.76 50.61,603.15 49.38,602.45 48.14,603.15 48.42,601.76 47.38,600.8 48.79,600.64" fill="#151515" stroke="none" stroke-width="0" />
<polygon points="53.62,599.35 54.21,600.64 55.62,600.8 54.58,601.76 54.86,603.15 53.62,602.45 52.39,603.15 52.67,601.76 51.63,600.8 53.04,600.64" fill="#151515" stroke="none" stroke-width="0" />
<polygon points="57.88,599.35 58.46,600.64 59.87,600.8 58.83,601.76 59.11,603.15 57.88,602.45 56.64,603.15 56.92,601.76 55.88,600.8 57.29,600.64" fill="#151515" stroke="none" stroke-width="0" />
<text x="43.3" y="653.9" font-size="6.7" text-anchor="end" transform="rotate(-46 43.3 653.9)" >EC</text>
<text x="50.6" y="653.9" font-size="6.7" text-anchor="end" transform="rotate(-46 50.6 653.9)" >CD31<tspan font-size="3.8" dy="-2.2">−</tspan><tspan dy="2.2">EpCam</tspan><tspan font-size="3.8" dy="-2.2">−</tspan></text>
<text x="58.3" y="653.9" font-size="6.7" text-anchor="end" transform="rotate(-46 58.3 653.9)" >cTEC</text>
<text x="65.3" y="653.9" font-size="6.7" text-anchor="end" transform="rotate(-46 65.3 653.9)" >mTECi</text>
<text x="73" y="653.9" font-size="6.7" text-anchor="end" transform="rotate(-46 73 653.9)" >mTECm</text>
<rect x="114.15" y="638.48" width="4.5" height="8.22" fill="#fff" stroke="#10e6f6" stroke-width="0.9" />
<line x1="116.4" y1="639.85" x2="116.4" y2="637.11" stroke="#444" stroke-width="0.6" />
<line x1="115" y1="637.11" x2="117.8" y2="637.11" stroke="#444" stroke-width="0.6" />
<line x1="115" y1="639.85" x2="117.8" y2="639.85" stroke="#444" stroke-width="0.6" />
<line x1="116.4" y1="646.7" x2="116.4" y2="648.7" stroke="#888" stroke-width="0.5" />
<rect x="121.45" y="613.13" width="4.9" height="33.57" fill="#fff" stroke="#c89cff" stroke-width="0.9" />
<line x1="123.9" y1="617.25" x2="123.9" y2="609.02" stroke="#444" stroke-width="0.6" />
<line x1="122.5" y1="609.02" x2="125.3" y2="609.02" stroke="#444" stroke-width="0.6" />
<line x1="122.5" y1="617.25" x2="125.3" y2="617.25" stroke="#444" stroke-width="0.6" />
<line x1="123.9" y1="646.7" x2="123.9" y2="648.7" stroke="#888" stroke-width="0.5" />
<rect x="129.65" y="637.8" width="4.3" height="8.9" fill="#fff" stroke="#0a168e" stroke-width="0.9" />
<line x1="131.8" y1="638.48" x2="131.8" y2="637.11" stroke="#444" stroke-width="0.6" />
<line x1="130.4" y1="637.11" x2="133.2" y2="637.11" stroke="#444" stroke-width="0.6" />
<line x1="130.4" y1="638.48" x2="133.2" y2="638.48" stroke="#444" stroke-width="0.6" />
<line x1="131.8" y1="646.7" x2="131.8" y2="648.7" stroke="#888" stroke-width="0.5" />
<rect x="137.25" y="629.58" width="4.7" height="17.12" fill="#fff" stroke="#1a88f6" stroke-width="0.9" />
<line x1="139.6" y1="633" x2="139.6" y2="626.15" stroke="#444" stroke-width="0.6" />
<line x1="138.2" y1="626.15" x2="141" y2="626.15" stroke="#444" stroke-width="0.6" />
<line x1="138.2" y1="633" x2="141" y2="633" stroke="#444" stroke-width="0.6" />
<line x1="139.6" y1="646.7" x2="139.6" y2="648.7" stroke="#888" stroke-width="0.5" />
<rect x="144.75" y="639.85" width="4.5" height="6.85" fill="#fff" stroke="#9cbcdc" stroke-width="0.9" />
<line x1="147" y1="640.54" x2="147" y2="639.17" stroke="#444" stroke-width="0.6" />
<line x1="145.6" y1="639.17" x2="148.4" y2="639.17" stroke="#444" stroke-width="0.6" />
<line x1="145.6" y1="640.54" x2="148.4" y2="640.54" stroke="#444" stroke-width="0.6" />
<line x1="147" y1="646.7" x2="147" y2="648.7" stroke="#888" stroke-width="0.5" />
<line x1="111.3" y1="591.7" x2="111.3" y2="646.7" stroke="#555" stroke-width="0.7" />
<line x1="111" y1="646.7" x2="150.7" y2="646.7" stroke="#555" stroke-width="0.7" />
<line x1="109.1" y1="646.7" x2="111.3" y2="646.7" stroke="#555" stroke-width="0.6" />
<text x="106.8" y="649.2" font-size="7" text-anchor="end" >0</text>
<line x1="109.1" y1="633" x2="111.3" y2="633" stroke="#555" stroke-width="0.6" />
<text x="106.8" y="635.5" font-size="7" text-anchor="end" >20</text>
<line x1="109.1" y1="619.3" x2="111.3" y2="619.3" stroke="#555" stroke-width="0.6" />
<text x="106.8" y="621.8" font-size="7" text-anchor="end" >40</text>
<line x1="109.1" y1="605.6" x2="111.3" y2="605.6" stroke="#555" stroke-width="0.6" />
<text x="106.8" y="608.1" font-size="7" text-anchor="end" >60</text>
<line x1="109.1" y1="591.9" x2="111.3" y2="591.9" stroke="#555" stroke-width="0.6" />
<text x="106.8" y="594.4" font-size="7" text-anchor="end" >80</text>
<text x="86.2" y="634.9" font-size="8.2" textLength="32" lengthAdjust="spacingAndGlyphs" transform="rotate(-90 86.2 634.9)" >MFI ratio</text>
<text x="92.8" y="651.2" font-size="8.2" textLength="64.2" lengthAdjust="spacingAndGlyphs" transform="rotate(-90 92.8 651.2)" >(sample/isotype)</text>
<circle cx="115.18" cy="640.19" r="1.4" fill="#10e6f6"/>
<circle cx="117.65" cy="639.17" r="1.4" fill="#10e6f6"/>
<circle cx="117.33" cy="638.14" r="1.4" fill="#10e6f6"/>
<circle cx="115.64" cy="637.11" r="1.4" fill="#10e6f6"/>
<circle cx="115.25" cy="635.74" r="1.4" fill="#10e6f6"/>
<circle cx="122.22" cy="620.67" r="1.4" fill="#a040f0"/>
<circle cx="123.73" cy="616.56" r="1.4" fill="#a040f0"/>
<circle cx="122.02" cy="612.45" r="1.4" fill="#a040f0"/>
<circle cx="122.33" cy="607.65" r="1.4" fill="#a040f0"/>
<circle cx="123.83" cy="603.54" r="1.4" fill="#a040f0"/>
<circle cx="133.06" cy="638.82" r="1.4" fill="#0a168e"/>
<circle cx="131.02" cy="638.14" r="1.4" fill="#0a168e"/>
<circle cx="131.63" cy="637.45" r="1.4" fill="#0a168e"/>
<circle cx="132.54" cy="636.77" r="1.4" fill="#0a168e"/>
<circle cx="131.91" cy="636.08" r="1.4" fill="#0a168e"/>
<circle cx="137.97" cy="637.11" r="1.4" fill="#1a88f6"/>
<circle cx="140.53" cy="633.69" r="1.4" fill="#1a88f6"/>
<circle cx="141.11" cy="629.58" r="1.4" fill="#1a88f6"/>
<circle cx="138.66" cy="625.47" r="1.4" fill="#1a88f6"/>
<circle cx="139.62" cy="619.99" r="1.4" fill="#1a88f6"/>
<circle cx="148.81" cy="641.22" r="1.4" fill="#1a5a9a"/>
<circle cx="148.8" cy="640.54" r="1.4" fill="#1a5a9a"/>
<circle cx="145.64" cy="639.85" r="1.4" fill="#1a5a9a"/>
<circle cx="148.12" cy="639.17" r="1.4" fill="#1a5a9a"/>
<circle cx="147.65" cy="638.48" r="1.4" fill="#1a5a9a"/>
<path d="M115.3 633.6 L115.3 589.4 L122.6 589.4 L122.6 591.1" fill="none" stroke="#7a7a7a" stroke-width="0.65" />
<polygon points="111.99,584.45 112.58,585.74 113.98,585.9 112.94,586.86 113.22,588.25 111.99,587.55 110.75,588.25 111.04,586.86 109.99,585.9 111.4,585.74" fill="#151515" stroke="none" stroke-width="0" />
<polygon points="116.56,584.45 117.15,585.74 118.56,585.9 117.51,586.86 117.8,588.25 116.56,587.55 115.33,588.25 115.61,586.86 114.57,585.9 115.97,585.74" fill="#151515" stroke="none" stroke-width="0" />
<polygon points="121.14,584.45 121.73,585.74 123.13,585.9 122.09,586.86 122.37,588.25 121.14,587.55 119.9,588.25 120.19,586.86 119.14,585.9 120.55,585.74" fill="#151515" stroke="none" stroke-width="0" />
<polygon points="125.71,584.45 126.3,585.74 127.71,585.9 126.66,586.86 126.95,588.25 125.71,587.55 124.48,588.25 124.76,586.86 123.72,585.9 125.12,585.74" fill="#151515" stroke="none" stroke-width="0" />
<path d="M122.8 591.1 L122.8 591.1 L144.7 591.1 L144.7 637" fill="none" stroke="#7a7a7a" stroke-width="0.65" />
<polygon points="132.51,585.85 133.1,587.14 134.51,587.3 133.46,588.26 133.75,589.65 132.51,588.95 131.28,589.65 131.56,588.26 130.52,587.3 131.92,587.14" fill="#151515" stroke="none" stroke-width="0" />
<polygon points="136.74,585.85 137.33,587.14 138.73,587.3 137.69,588.26 137.97,589.65 136.74,588.95 135.5,589.65 135.79,588.26 134.74,587.3 136.15,587.14" fill="#151515" stroke="none" stroke-width="0" />
<polygon points="140.96,585.85 141.55,587.14 142.96,587.3 141.91,588.26 142.2,589.65 140.96,588.95 139.73,589.65 140.01,588.26 138.97,587.3 140.37,587.14" fill="#151515" stroke="none" stroke-width="0" />
<polygon points="145.19,585.85 145.78,587.14 147.18,587.3 146.14,588.26 146.42,589.65 145.19,588.95 143.95,589.65 144.24,588.26 143.19,587.3 144.6,587.14" fill="#151515" stroke="none" stroke-width="0" />
<path d="M122.8 596 L122.8 596 L138 596 L138 622" fill="none" stroke="#7a7a7a" stroke-width="0.65" />
<polygon points="126.6,591.15 127.19,592.44 128.6,592.6 127.55,593.56 127.83,594.95 126.6,594.25 125.37,594.95 125.65,593.56 124.6,592.6 126.01,592.44" fill="#151515" stroke="none" stroke-width="0" />
<polygon points="130.6,591.15 131.19,592.44 132.6,592.6 131.55,593.56 131.83,594.95 130.6,594.25 129.37,594.95 129.65,593.56 128.6,592.6 130.01,592.44" fill="#151515" stroke="none" stroke-width="0" />
<polygon points="134.6,591.15 135.19,592.44 136.6,592.6 135.55,593.56 135.83,594.95 134.6,594.25 133.37,594.95 133.65,593.56 132.6,592.6 134.01,592.44" fill="#151515" stroke="none" stroke-width="0" />
<path d="M122.8 602.7 L122.8 602.7 L130.4 602.7 L130.4 634" fill="none" stroke="#7a7a7a" stroke-width="0.65" />
<polygon points="120.92,597.45 121.51,598.74 122.92,598.9 121.88,599.86 122.16,601.25 120.92,600.55 119.69,601.25 119.97,599.86 118.93,598.9 120.34,598.74" fill="#151515" stroke="none" stroke-width="0" />
<polygon points="125.17,597.45 125.76,598.74 127.17,598.9 126.13,599.86 126.41,601.25 125.17,600.55 123.94,601.25 124.22,599.86 123.18,598.9 124.59,598.74" fill="#151515" stroke="none" stroke-width="0" />
<polygon points="129.43,597.45 130.01,598.74 131.42,598.9 130.38,599.86 130.66,601.25 129.43,600.55 128.19,601.25 128.47,599.86 127.43,598.9 128.84,598.74" fill="#151515" stroke="none" stroke-width="0" />
<polygon points="133.68,597.45 134.26,598.74 135.67,598.9 134.63,599.86 134.91,601.25 133.68,600.55 132.44,601.25 132.72,599.86 131.68,598.9 133.09,598.74" fill="#151515" stroke="none" stroke-width="0" />
<text x="119.2" y="653.9" font-size="6.7" text-anchor="end" transform="rotate(-46 119.2 653.9)" >EC</text>
<text x="126.7" y="653.9" font-size="6.7" text-anchor="end" transform="rotate(-46 126.7 653.9)" >CD31<tspan font-size="3.8" dy="-2.2">−</tspan><tspan dy="2.2">EpCam</tspan><tspan font-size="3.8" dy="-2.2">−</tspan></text>
<text x="134.6" y="653.9" font-size="6.7" text-anchor="end" transform="rotate(-46 134.6 653.9)" >cTEC</text>
<text x="142.4" y="653.9" font-size="6.7" text-anchor="end" transform="rotate(-46 142.4 653.9)" >mTECi</text>
<text x="149.8" y="653.9" font-size="6.7" text-anchor="end" transform="rotate(-46 149.8 653.9)" >mTECm</text>
<rect x="185.05" y="626.15" width="4.5" height="20.55" fill="#fff" stroke="#10e6f6" stroke-width="0.9" />
<line x1="187.3" y1="646.7" x2="187.3" y2="648.7" stroke="#888" stroke-width="0.5" />
<rect x="192.35" y="615.88" width="4.5" height="30.83" fill="#fff" stroke="#c89cff" stroke-width="0.9" />
<line x1="194.6" y1="619.99" x2="194.6" y2="611.76" stroke="#444" stroke-width="0.6" />
<line x1="193.2" y1="611.76" x2="196" y2="611.76" stroke="#444" stroke-width="0.6" />
<line x1="193.2" y1="619.99" x2="196" y2="619.99" stroke="#444" stroke-width="0.6" />
<line x1="194.6" y1="646.7" x2="194.6" y2="648.7" stroke="#888" stroke-width="0.5" />
<rect x="200.25" y="631.63" width="3.9" height="15.07" fill="#fff" stroke="#0a168e" stroke-width="0.9" />
<line x1="202.2" y1="632.32" x2="202.2" y2="630.95" stroke="#444" stroke-width="0.6" />
<line x1="200.8" y1="630.95" x2="203.6" y2="630.95" stroke="#444" stroke-width="0.6" />
<line x1="200.8" y1="632.32" x2="203.6" y2="632.32" stroke="#444" stroke-width="0.6" />
<line x1="202.2" y1="646.7" x2="202.2" y2="648.7" stroke="#888" stroke-width="0.5" />
<rect x="207.35" y="632.32" width="4.5" height="14.38" fill="#fff" stroke="#1a88f6" stroke-width="0.9" />
<line x1="209.6" y1="633" x2="209.6" y2="631.63" stroke="#444" stroke-width="0.6" />
<line x1="208.2" y1="631.63" x2="211" y2="631.63" stroke="#444" stroke-width="0.6" />
<line x1="208.2" y1="633" x2="211" y2="633" stroke="#444" stroke-width="0.6" />
<line x1="209.6" y1="646.7" x2="209.6" y2="648.7" stroke="#888" stroke-width="0.5" />
<rect x="215.05" y="630.95" width="4.5" height="15.75" fill="#fff" stroke="#9cbcdc" stroke-width="0.9" />
<line x1="217.3" y1="631.63" x2="217.3" y2="630.26" stroke="#444" stroke-width="0.6" />
<line x1="215.9" y1="630.26" x2="218.7" y2="630.26" stroke="#444" stroke-width="0.6" />
<line x1="215.9" y1="631.63" x2="218.7" y2="631.63" stroke="#444" stroke-width="0.6" />
<line x1="217.3" y1="646.7" x2="217.3" y2="648.7" stroke="#888" stroke-width="0.5" />
<line x1="182.5" y1="591.7" x2="182.5" y2="646.7" stroke="#555" stroke-width="0.7" />
<line x1="182.2" y1="646.7" x2="221.5" y2="646.7" stroke="#555" stroke-width="0.7" />
<line x1="180.3" y1="646.7" x2="182.5" y2="646.7" stroke="#555" stroke-width="0.6" />
<text x="176.9" y="649.2" font-size="7" text-anchor="end" >0</text>
<line x1="180.3" y1="633" x2="182.5" y2="633" stroke="#555" stroke-width="0.6" />
<text x="176.9" y="635.5" font-size="7" text-anchor="end" >1</text>
<line x1="180.3" y1="619.3" x2="182.5" y2="619.3" stroke="#555" stroke-width="0.6" />
<text x="176.9" y="621.8" font-size="7" text-anchor="end" >2</text>
<line x1="180.3" y1="605.6" x2="182.5" y2="605.6" stroke="#555" stroke-width="0.6" />
<text x="176.9" y="608.1" font-size="7" text-anchor="end" >3</text>
<line x1="180.3" y1="591.9" x2="182.5" y2="591.9" stroke="#555" stroke-width="0.6" />
<text x="176.9" y="594.4" font-size="7" text-anchor="end" >4</text>
<text x="161.4" y="634.9" font-size="8.2" textLength="32" lengthAdjust="spacingAndGlyphs" transform="rotate(-90 161.4 634.9)" >MFI ratio</text>
<text x="168" y="651.2" font-size="8.2" textLength="64.2" lengthAdjust="spacingAndGlyphs" transform="rotate(-90 168 651.2)" >(sample/isotype)</text>
<circle cx="196.03" cy="624.78" r="1.4" fill="#a040f0"/>
<circle cx="193.16" cy="619.99" r="1.4" fill="#a040f0"/>
<circle cx="194.7" cy="614.5" r="1.4" fill="#a040f0"/>
<circle cx="196.06" cy="609.71" r="1.4" fill="#a040f0"/>
<circle cx="195.01" cy="606.28" r="1.4" fill="#a040f0"/>
<circle cx="202.3" cy="632.32" r="1.4" fill="#0a168e"/>
<circle cx="202.01" cy="631.63" r="1.4" fill="#0a168e"/>
<circle cx="201.58" cy="630.95" r="1.4" fill="#0a168e"/>
<circle cx="200.77" cy="631.63" r="1.4" fill="#0a168e"/>
<circle cx="207.84" cy="633.69" r="1.4" fill="#1a88f6"/>
<circle cx="208.13" cy="632.32" r="1.4" fill="#1a88f6"/>
<circle cx="211.35" cy="631.63" r="1.4" fill="#1a88f6"/>
<circle cx="210.07" cy="630.95" r="1.4" fill="#1a88f6"/>
<circle cx="217.93" cy="631.63" r="1.4" fill="#1a5a9a"/>
<circle cx="217.03" cy="630.95" r="1.4" fill="#1a5a9a"/>
<circle cx="217.28" cy="630.26" r="1.4" fill="#1a5a9a"/>
<circle cx="217.06" cy="629.58" r="1.4" fill="#1a5a9a"/>
<path d="M185.4 624 l2.2 2.2 M185.4 626.2 l2.2 -2.2" fill="none" stroke="#10e6f6" stroke-width="1" />
<path d="M187 624.4 l2.2 2.2 M187 626.6 l2.2 -2.2" fill="none" stroke="#10e6f6" stroke-width="1" />
<path d="M186.2 623.5 l2.2 2.2 M186.2 625.7 l2.2 -2.2" fill="none" stroke="#10e6f6" stroke-width="1" />
<path d="M185.5 623 L185.5 586.8 L191.2 586.8 L191.2 588.4" fill="none" stroke="#7a7a7a" stroke-width="0.65" />
<polygon points="186.5,581.15 187.09,582.44 188.5,582.6 187.45,583.56 187.73,584.95 186.5,584.25 185.27,584.95 185.55,583.56 184.5,582.6 185.91,582.44" fill="#151515" stroke="none" stroke-width="0" />
<polygon points="190.7,581.15 191.29,582.44 192.7,582.6 191.65,583.56 191.93,584.95 190.7,584.25 189.47,584.95 189.75,583.56 188.7,582.6 190.11,582.44" fill="#151515" stroke="none" stroke-width="0" />
<path d="M194.3 588 L194.3 588 L216.5 588 L216.5 628" fill="none" stroke="#7a7a7a" stroke-width="0.65" />
<polygon points="199.81,583.15 200.4,584.44 201.81,584.6 200.76,585.56 201.05,586.95 199.81,586.25 198.58,586.95 198.86,585.56 197.82,584.6 199.22,584.44" fill="#151515" stroke="none" stroke-width="0" />
<polygon points="204.24,583.15 204.83,584.44 206.23,584.6 205.19,585.56 205.47,586.95 204.24,586.25 203,586.95 203.29,585.56 202.24,584.6 203.65,584.44" fill="#151515" stroke="none" stroke-width="0" />
<polygon points="208.66,583.15 209.25,584.44 210.66,584.6 209.61,585.56 209.9,586.95 208.66,586.25 207.43,586.95 207.71,585.56 206.67,584.6 208.07,584.44" fill="#151515" stroke="none" stroke-width="0" />
<polygon points="213.09,583.15 213.68,584.44 215.08,584.6 214.04,585.56 214.32,586.95 213.09,586.25 211.85,586.95 212.14,585.56 211.09,584.6 212.5,584.44" fill="#151515" stroke="none" stroke-width="0" />
<path d="M194.3 594.7 L194.3 594.7 L208.5 594.7 L208.5 629" fill="none" stroke="#7a7a7a" stroke-width="0.65" />
<polygon points="196.6,588.95 197.19,590.24 198.6,590.4 197.55,591.36 197.83,592.75 196.6,592.05 195.37,592.75 195.65,591.36 194.6,590.4 196.01,590.24" fill="#151515" stroke="none" stroke-width="0" />
<polygon points="201,588.95 201.59,590.24 203,590.4 201.95,591.36 202.23,592.75 201,592.05 199.77,592.75 200.05,591.36 199,590.4 200.41,590.24" fill="#151515" stroke="none" stroke-width="0" />
<polygon points="205.4,588.95 205.99,590.24 207.4,590.4 206.35,591.36 206.63,592.75 205.4,592.05 204.17,592.75 204.45,591.36 203.4,590.4 204.81,590.24" fill="#151515" stroke="none" stroke-width="0" />
<polygon points="209.8,588.95 210.39,590.24 211.8,590.4 210.75,591.36 211.03,592.75 209.8,592.05 208.57,592.75 208.85,591.36 207.8,590.4 209.21,590.24" fill="#151515" stroke="none" stroke-width="0" />
<path d="M193.2 603.5 L193.2 603.5 L201.5 603.5 L201.5 629" fill="none" stroke="#7a7a7a" stroke-width="0.65" />
<polygon points="190.95,597.85 191.54,599.14 192.95,599.3 191.9,600.26 192.18,601.65 190.95,600.95 189.72,601.65 190,600.26 188.95,599.3 190.36,599.14" fill="#151515" stroke="none" stroke-width="0" />
<polygon points="195.25,597.85 195.84,599.14 197.25,599.3 196.2,600.26 196.48,601.65 195.25,600.95 194.02,601.65 194.3,600.26 193.25,599.3 194.66,599.14" fill="#151515" stroke="none" stroke-width="0" />
<polygon points="199.55,597.85 200.14,599.14 201.55,599.3 200.5,600.26 200.78,601.65 199.55,600.95 198.32,601.65 198.6,600.26 197.55,599.3 198.96,599.14" fill="#151515" stroke="none" stroke-width="0" />
<polygon points="203.85,597.85 204.44,599.14 205.85,599.3 204.8,600.26 205.08,601.65 203.85,600.95 202.62,601.65 202.9,600.26 201.85,599.3 203.26,599.14" fill="#151515" stroke="none" stroke-width="0" />
<text x="190.1" y="653.9" font-size="6.7" text-anchor="end" transform="rotate(-46 190.1 653.9)" >EC</text>
<text x="197.4" y="653.9" font-size="6.7" text-anchor="end" transform="rotate(-46 197.4 653.9)" >CD31<tspan font-size="3.8" dy="-2.2">−</tspan><tspan dy="2.2">EpCam</tspan><tspan font-size="3.8" dy="-2.2">−</tspan></text>
<text x="205" y="653.9" font-size="6.7" text-anchor="end" transform="rotate(-46 205 653.9)" >cTEC</text>
<text x="212.4" y="653.9" font-size="6.7" text-anchor="end" transform="rotate(-46 212.4 653.9)" >mTECi</text>
<text x="220.1" y="653.9" font-size="6.7" text-anchor="end" transform="rotate(-46 220.1 653.9)" >mTECm</text>
<text x="224.7" y="563.9" font-size="12.4" font-weight="bold" fill="#000" stroke="#000" stroke-width="0.45">i</text>
<text x="386" y="563.8" font-size="8.4" textLength="25" lengthAdjust="spacingAndGlyphs" >Mouse</text>
<text x="285.7" y="576.4" font-size="8.4" textLength="21.6" lengthAdjust="spacingAndGlyphs" font-style="italic" >Ccl19</text>
<text x="399.8" y="576.3" font-size="8.4" textLength="17.5" lengthAdjust="spacingAndGlyphs" font-style="italic" >Flt3l</text>
<text x="511.2" y="576.4" font-size="8.4" textLength="13.4" lengthAdjust="spacingAndGlyphs" font-style="italic" >Il15</text>
<rect x="255.85" y="645.97" width="5.9" height="0.33" fill="#fff" stroke="#18e2f2" stroke-width="0.9" />
<line x1="258.8" y1="646.3" x2="258.8" y2="648.3" stroke="#888" stroke-width="0.5" />
<rect x="266.05" y="633.53" width="5.9" height="12.76" fill="#fff" stroke="#a446f2" stroke-width="0.9" />
<line x1="269" y1="638.53" x2="269" y2="628.54" stroke="#444" stroke-width="0.6" />
<line x1="267.6" y1="628.54" x2="270.4" y2="628.54" stroke="#444" stroke-width="0.6" />
<line x1="267.6" y1="638.53" x2="270.4" y2="638.53" stroke="#444" stroke-width="0.6" />
<line x1="269" y1="646.3" x2="269" y2="648.3" stroke="#888" stroke-width="0.5" />
<rect x="276.75" y="646.02" width="5.9" height="0.28" fill="#fff" stroke="#a01a10" stroke-width="0.9" />
<line x1="279.7" y1="646.3" x2="279.7" y2="648.3" stroke="#888" stroke-width="0.5" />
<rect x="286.35" y="643.52" width="5.9" height="2.77" fill="#fff" stroke="#f0a020" stroke-width="0.9" />
<line x1="289.3" y1="645.19" x2="289.3" y2="641.86" stroke="#444" stroke-width="0.6" />
<line x1="287.9" y1="641.86" x2="290.7" y2="641.86" stroke="#444" stroke-width="0.6" />
<line x1="287.9" y1="645.19" x2="290.7" y2="645.19" stroke="#444" stroke-width="0.6" />
<line x1="289.3" y1="646.3" x2="289.3" y2="648.3" stroke="#888" stroke-width="0.5" />
<rect x="296.85" y="645.97" width="5.9" height="0.33" fill="#fff" stroke="#f0308a" stroke-width="0.9" />
<line x1="299.8" y1="646.3" x2="299.8" y2="648.3" stroke="#888" stroke-width="0.5" />
<rect x="307.25" y="627.43" width="5.9" height="18.87" fill="#fff" stroke="#1a2af0" stroke-width="0.9" />
<line x1="310.2" y1="636.87" x2="310.2" y2="618" stroke="#444" stroke-width="0.6" />
<line x1="308.8" y1="618" x2="311.6" y2="618" stroke="#444" stroke-width="0.6" />
<line x1="308.8" y1="636.87" x2="311.6" y2="636.87" stroke="#444" stroke-width="0.6" />
<line x1="310.2" y1="646.3" x2="310.2" y2="648.3" stroke="#888" stroke-width="0.5" />
<rect x="317.45" y="618" width="5.9" height="28.3" fill="#fff" stroke="#e0a040" stroke-width="0.9" />
<line x1="320.4" y1="626.88" x2="320.4" y2="609.12" stroke="#444" stroke-width="0.6" />
<line x1="319" y1="609.12" x2="321.8" y2="609.12" stroke="#444" stroke-width="0.6" />
<line x1="319" y1="626.88" x2="321.8" y2="626.88" stroke="#444" stroke-width="0.6" />
<line x1="320.4" y1="646.3" x2="320.4" y2="648.3" stroke="#888" stroke-width="0.5" />
<rect x="327.35" y="646.08" width="5.9" height="0.22" fill="#fff" stroke="#86e030" stroke-width="0.9" />
<line x1="330.3" y1="646.3" x2="330.3" y2="648.3" stroke="#888" stroke-width="0.5" />
<line x1="252" y1="590.6" x2="252" y2="646.3" stroke="#555" stroke-width="0.7" />
<line x1="251.7" y1="646.3" x2="337.4" y2="646.3" stroke="#555" stroke-width="0.7" />
<line x1="249.8" y1="646.3" x2="252" y2="646.3" stroke="#555" stroke-width="0.6" />
<text x="247.1" y="648.8" font-size="7" text-anchor="end" >0</text>
<line x1="249.8" y1="635.2" x2="252" y2="635.2" stroke="#555" stroke-width="0.6" />
<text x="247.1" y="637.7" font-size="7" text-anchor="end" >20</text>
<line x1="249.8" y1="624.1" x2="252" y2="624.1" stroke="#555" stroke-width="0.6" />
<text x="247.1" y="626.6" font-size="7" text-anchor="end" >40</text>
<line x1="249.8" y1="613" x2="252" y2="613" stroke="#555" stroke-width="0.6" />
<text x="247.1" y="615.5" font-size="7" text-anchor="end" >60</text>
<line x1="249.8" y1="601.9" x2="252" y2="601.9" stroke="#555" stroke-width="0.6" />
<text x="247.1" y="604.4" font-size="7" text-anchor="end" >80</text>
<line x1="249.8" y1="590.8" x2="252" y2="590.8" stroke="#555" stroke-width="0.6" />
<text x="247.1" y="593.3" font-size="7" text-anchor="end" >100</text>
<text x="233.2" y="652.6" font-size="8.2" textLength="71.8" lengthAdjust="spacingAndGlyphs" transform="rotate(-90 233.2 652.6)" >Normalized counts</text>
<circle cx="259.11" cy="646.3" r="1.4" fill="#18e2f2"/>
<circle cx="260.2" cy="646.3" r="1.4" fill="#18e2f2"/>
<circle cx="257.16" cy="646.3" r="1.4" fill="#18e2f2"/>
<circle cx="258.89" cy="646.3" r="1.4" fill="#18e2f2"/>
<circle cx="268.25" cy="639.64" r="1.4" fill="#a446f2"/>
<circle cx="267.03" cy="636.31" r="1.4" fill="#a446f2"/>
<circle cx="269.25" cy="634.09" r="1.4" fill="#a446f2"/>
<circle cx="268.62" cy="619.66" r="1.4" fill="#a446f2"/>
<circle cx="280.22" cy="646.3" r="1.4" fill="#a01a10"/>
<circle cx="280.77" cy="646.3" r="1.4" fill="#a01a10"/>
<circle cx="280.18" cy="646.3" r="1.4" fill="#a01a10"/>
<circle cx="291.1" cy="645.75" r="1.4" fill="#f0a020"/>
<circle cx="290.46" cy="644.63" r="1.4" fill="#f0a020"/>
<circle cx="290.24" cy="641.86" r="1.4" fill="#f0a020"/>
<circle cx="289.72" cy="638.53" r="1.4" fill="#f0a020"/>
<circle cx="299.33" cy="646.3" r="1.4" fill="#f0308a"/>
<circle cx="301.58" cy="646.3" r="1.4" fill="#f0308a"/>
<circle cx="298.2" cy="646.3" r="1.4" fill="#f0308a"/>
<circle cx="300.91" cy="646.3" r="1.4" fill="#f0308a"/>
<circle cx="309.96" cy="638.53" r="1.4" fill="#1a2af0"/>
<circle cx="310.53" cy="638.53" r="1.4" fill="#1a2af0"/>
<circle cx="308.72" cy="629.65" r="1.4" fill="#1a2af0"/>
<circle cx="311.54" cy="600.79" r="1.4" fill="#1a2af0"/>
<circle cx="318.66" cy="632.98" r="1.4" fill="#e0a040"/>
<circle cx="322.12" cy="630.76" r="1.4" fill="#e0a040"/>
<circle cx="322.45" cy="615.77" r="1.4" fill="#e0a040"/>
<circle cx="322.6" cy="593.57" r="1.4" fill="#e0a040"/>
<circle cx="328.97" cy="646.3" r="1.4" fill="#86e030"/>
<circle cx="328.75" cy="646.3" r="1.4" fill="#86e030"/>
<text x="262.3" y="654.2" font-size="7" text-anchor="end" transform="rotate(-45 262.3 654.2)" >EC</text>
<text x="272.5" y="654.2" font-size="7" text-anchor="end" transform="rotate(-45 272.5 654.2)" >ThyMC</text>
<text x="283.2" y="654.2" font-size="7" text-anchor="end" transform="rotate(-45 283.2 654.2)" >vSMC</text>
<text x="292.8" y="654.2" font-size="7" text-anchor="end" transform="rotate(-45 292.8 654.2)" >PC</text>
<text x="303.3" y="654.2" font-size="7" text-anchor="end" transform="rotate(-45 303.3 654.2)" >Lrrn4<tspan font-size="4.2" dy="-2.2">+</tspan></text>
<text x="313.7" y="654.2" font-size="7" text-anchor="end" transform="rotate(-45 313.7 654.2)" >cTEC/mTECi</text>
<text x="323.9" y="654.2" font-size="7" text-anchor="end" transform="rotate(-45 323.9 654.2)" >mTECm</text>
<text x="333.8" y="654.2" font-size="7" text-anchor="end" transform="rotate(-45 333.8 654.2)" >Tuft cells</text>
<path d="M258.6 644.9 L258.6 615.5 L269.3 615.5 L269.3 616.8" fill="none" stroke="#7a7a7a" stroke-width="0.65" />
<polygon points="256.11,610.15 256.7,611.44 258.11,611.6 257.06,612.56 257.35,613.95 256.11,613.25 254.88,613.95 255.16,612.56 254.12,611.6 255.52,611.44" fill="#151515" stroke="none" stroke-width="0" />
<polygon points="260.34,610.15 260.93,611.44 262.33,611.6 261.29,612.56 261.57,613.95 260.34,613.25 259.1,613.95 259.39,612.56 258.34,611.6 259.75,611.44" fill="#151515" stroke="none" stroke-width="0" />
<polygon points="264.56,610.15 265.15,611.44 266.56,611.6 265.51,612.56 265.8,613.95 264.56,613.25 263.33,613.95 263.61,612.56 262.57,611.6 263.97,611.44" fill="#151515" stroke="none" stroke-width="0" />
<polygon points="268.79,610.15 269.38,611.44 270.78,611.6 269.74,612.56 270.02,613.95 268.79,613.25 267.55,613.95 267.84,612.56 266.79,611.6 268.2,611.44" fill="#151515" stroke="none" stroke-width="0" />
<path d="M269.3 606.4 L269.3 606.4 L279.7 606.4 L279.7 645" fill="none" stroke="#7a7a7a" stroke-width="0.65" />
<polygon points="270.5,601.15 271.09,602.44 272.5,602.6 271.45,603.56 271.73,604.95 270.5,604.25 269.27,604.95 269.55,603.56 268.5,602.6 269.91,602.44" fill="#151515" stroke="none" stroke-width="0" />
<polygon points="274.5,601.15 275.09,602.44 276.5,602.6 275.45,603.56 275.73,604.95 274.5,604.25 273.27,604.95 273.55,603.56 272.5,602.6 273.91,602.44" fill="#151515" stroke="none" stroke-width="0" />
<polygon points="278.5,601.15 279.09,602.44 280.5,602.6 279.45,603.56 279.73,604.95 278.5,604.25 277.27,604.95 277.55,603.56 276.5,602.6 277.91,602.44" fill="#151515" stroke="none" stroke-width="0" />
<path d="M269.3 596.8 L269.3 596.8 L299.8 596.8 L299.8 644" fill="none" stroke="#7a7a7a" stroke-width="0.65" />
<polygon points="281.75,592.15 282.34,593.44 283.75,593.6 282.7,594.56 282.98,595.95 281.75,595.25 280.52,595.95 280.8,594.56 279.75,593.6 281.16,593.44" fill="#151515" stroke="none" stroke-width="0" />
<polygon points="285.65,592.15 286.24,593.44 287.65,593.6 286.6,594.56 286.88,595.95 285.65,595.25 284.42,595.95 284.7,594.56 283.65,593.6 285.06,593.44" fill="#151515" stroke="none" stroke-width="0" />
<path d="M269.3 588.7 L269.3 588.7 L330.3 588.7 L330.3 644" fill="none" stroke="#7a7a7a" stroke-width="0.65" />
<polygon points="291.81,583.35 292.4,584.64 293.81,584.8 292.76,585.76 293.05,587.15 291.81,586.45 290.58,587.15 290.86,585.76 289.82,584.8 291.22,584.64" fill="#151515" stroke="none" stroke-width="0" />
<polygon points="296.24,583.35 296.83,584.64 298.23,584.8 297.19,585.76 297.47,587.15 296.24,586.45 295,587.15 295.29,585.76 294.24,584.8 295.65,584.64" fill="#151515" stroke="none" stroke-width="0" />
<polygon points="300.66,583.35 301.25,584.64 302.66,584.8 301.61,585.76 301.9,587.15 300.66,586.45 299.43,587.15 299.71,585.76 298.67,584.8 300.07,584.64" fill="#151515" stroke="none" stroke-width="0" />
<polygon points="305.09,583.35 305.68,584.64 307.08,584.8 306.04,585.76 306.32,587.15 305.09,586.45 303.85,587.15 304.14,585.76 303.09,584.8 304.5,584.64" fill="#151515" stroke="none" stroke-width="0" />
<rect x="368.55" y="638.46" width="5.9" height="7.84" fill="#fff" stroke="#18e2f2" stroke-width="0.9" />
<line x1="371.5" y1="640.7" x2="371.5" y2="636.22" stroke="#444" stroke-width="0.6" />
<line x1="370.1" y1="636.22" x2="372.9" y2="636.22" stroke="#444" stroke-width="0.6" />
<line x1="370.1" y1="640.7" x2="372.9" y2="640.7" stroke="#444" stroke-width="0.6" />
<line x1="371.5" y1="646.3" x2="371.5" y2="648.3" stroke="#888" stroke-width="0.5" />
<rect x="378.75" y="617.18" width="5.9" height="29.12" fill="#fff" stroke="#a446f2" stroke-width="0.9" />
<line x1="381.7" y1="622.22" x2="381.7" y2="612.14" stroke="#444" stroke-width="0.6" />
<line x1="380.3" y1="612.14" x2="383.1" y2="612.14" stroke="#444" stroke-width="0.6" />
<line x1="380.3" y1="622.22" x2="383.1" y2="622.22" stroke="#444" stroke-width="0.6" />
<line x1="381.7" y1="646.3" x2="381.7" y2="648.3" stroke="#888" stroke-width="0.5" />
<rect x="389.25" y="638.46" width="5.9" height="7.84" fill="#fff" stroke="#a01a10" stroke-width="0.9" />
<line x1="392.2" y1="644.62" x2="392.2" y2="632.3" stroke="#444" stroke-width="0.6" />
<line x1="390.8" y1="632.3" x2="393.6" y2="632.3" stroke="#444" stroke-width="0.6" />
<line x1="390.8" y1="644.62" x2="393.6" y2="644.62" stroke="#444" stroke-width="0.6" />
<line x1="392.2" y1="646.3" x2="392.2" y2="648.3" stroke="#888" stroke-width="0.5" />
<rect x="399.45" y="632.3" width="5.9" height="14" fill="#fff" stroke="#f0a020" stroke-width="0.9" />
<line x1="402.4" y1="643.5" x2="402.4" y2="621.1" stroke="#444" stroke-width="0.6" />
<line x1="401" y1="621.1" x2="403.8" y2="621.1" stroke="#444" stroke-width="0.6" />
<line x1="401" y1="643.5" x2="403.8" y2="643.5" stroke="#444" stroke-width="0.6" />
<line x1="402.4" y1="646.3" x2="402.4" y2="648.3" stroke="#888" stroke-width="0.5" />
<rect x="409.55" y="634.54" width="5.9" height="11.76" fill="#fff" stroke="#f0308a" stroke-width="0.9" />
<line x1="412.5" y1="639.02" x2="412.5" y2="630.06" stroke="#444" stroke-width="0.6" />
<line x1="411.1" y1="630.06" x2="413.9" y2="630.06" stroke="#444" stroke-width="0.6" />
<line x1="411.1" y1="639.02" x2="413.9" y2="639.02" stroke="#444" stroke-width="0.6" />
<line x1="412.5" y1="646.3" x2="412.5" y2="648.3" stroke="#888" stroke-width="0.5" />
<rect x="419.75" y="640.7" width="5.9" height="5.6" fill="#fff" stroke="#1a2af0" stroke-width="0.9" />
<line x1="422.7" y1="642.38" x2="422.7" y2="639.02" stroke="#444" stroke-width="0.6" />
<line x1="421.3" y1="639.02" x2="424.1" y2="639.02" stroke="#444" stroke-width="0.6" />
<line x1="421.3" y1="642.38" x2="424.1" y2="642.38" stroke="#444" stroke-width="0.6" />
<line x1="422.7" y1="646.3" x2="422.7" y2="648.3" stroke="#888" stroke-width="0.5" />
<rect x="430.35" y="631.18" width="5.9" height="15.12" fill="#fff" stroke="#e0a040" stroke-width="0.9" />
<line x1="433.3" y1="634.54" x2="433.3" y2="627.82" stroke="#444" stroke-width="0.6" />
<line x1="431.9" y1="627.82" x2="434.7" y2="627.82" stroke="#444" stroke-width="0.6" />
<line x1="431.9" y1="634.54" x2="434.7" y2="634.54" stroke="#444" stroke-width="0.6" />
<line x1="433.3" y1="646.3" x2="433.3" y2="648.3" stroke="#888" stroke-width="0.5" />
<rect x="440.35" y="642.1" width="5.9" height="4.2" fill="#fff" stroke="#86e030" stroke-width="0.9" />
<line x1="443.3" y1="645.46" x2="443.3" y2="638.74" stroke="#444" stroke-width="0.6" />
<line x1="441.9" y1="638.74" x2="444.7" y2="638.74" stroke="#444" stroke-width="0.6" />
<line x1="441.9" y1="645.46" x2="444.7" y2="645.46" stroke="#444" stroke-width="0.6" />
<line x1="443.3" y1="646.3" x2="443.3" y2="648.3" stroke="#888" stroke-width="0.5" />
<line x1="364.3" y1="590.1" x2="364.3" y2="646.3" stroke="#555" stroke-width="0.7" />
<line x1="364" y1="646.3" x2="450.2" y2="646.3" stroke="#555" stroke-width="0.7" />
<line x1="362.1" y1="646.3" x2="364.3" y2="646.3" stroke="#555" stroke-width="0.6" />
<text x="359.1" y="648.8" font-size="7" text-anchor="end" >0</text>
<line x1="362.1" y1="635.1" x2="364.3" y2="635.1" stroke="#555" stroke-width="0.6" />
<text x="359.1" y="637.6" font-size="7" text-anchor="end" >2</text>
<line x1="362.1" y1="623.9" x2="364.3" y2="623.9" stroke="#555" stroke-width="0.6" />
<text x="359.1" y="626.4" font-size="7" text-anchor="end" >4</text>
<line x1="362.1" y1="612.7" x2="364.3" y2="612.7" stroke="#555" stroke-width="0.6" />
<text x="359.1" y="615.2" font-size="7" text-anchor="end" >6</text>
<line x1="362.1" y1="601.5" x2="364.3" y2="601.5" stroke="#555" stroke-width="0.6" />
<text x="359.1" y="604" font-size="7" text-anchor="end" >8</text>
<line x1="362.1" y1="590.3" x2="364.3" y2="590.3" stroke="#555" stroke-width="0.6" />
<text x="359.1" y="592.8" font-size="7" text-anchor="end" >10</text>
<text x="348.9" y="652.6" font-size="8.2" textLength="71.8" lengthAdjust="spacingAndGlyphs" transform="rotate(-90 348.9 652.6)" >Normalized counts</text>
<circle cx="373.51" cy="640.7" r="1.4" fill="#18e2f2"/>
<circle cx="370.24" cy="639.58" r="1.4" fill="#18e2f2"/>
<circle cx="371.85" cy="637.9" r="1.4" fill="#18e2f2"/>
<circle cx="371.96" cy="633.42" r="1.4" fill="#18e2f2"/>
<circle cx="381.62" cy="628.38" r="1.4" fill="#a446f2"/>
<circle cx="380.72" cy="622.78" r="1.4" fill="#a446f2"/>
<circle cx="382.51" cy="609.9" r="1.4" fill="#a446f2"/>
<circle cx="381.29" cy="608.22" r="1.4" fill="#a446f2"/>
<circle cx="380.36" cy="607.1" r="1.4" fill="#a446f2"/>
<circle cx="390.79" cy="646.3" r="1.4" fill="#a01a10"/>
<circle cx="394.17" cy="643.5" r="1.4" fill="#a01a10"/>
<circle cx="394.39" cy="641.82" r="1.4" fill="#a01a10"/>
<circle cx="392.09" cy="622.22" r="1.4" fill="#a01a10"/>
<circle cx="401.69" cy="646.3" r="1.4" fill="#f0a020"/>
<circle cx="400.25" cy="646.3" r="1.4" fill="#f0a020"/>
<circle cx="401.45" cy="635.1" r="1.4" fill="#f0a020"/>
<circle cx="403.09" cy="600.38" r="1.4" fill="#f0a020"/>
<circle cx="414.12" cy="646.3" r="1.4" fill="#f0308a"/>
<circle cx="414.47" cy="637.9" r="1.4" fill="#f0308a"/>
<circle cx="410.45" cy="632.3" r="1.4" fill="#f0308a"/>
<circle cx="414.58" cy="625.02" r="1.4" fill="#f0308a"/>
<circle cx="424.31" cy="643.5" r="1.4" fill="#1a2af0"/>
<circle cx="422.06" cy="640.7" r="1.4" fill="#1a2af0"/>
<circle cx="424.05" cy="639.58" r="1.4" fill="#1a2af0"/>
<circle cx="424.15" cy="637.9" r="1.4" fill="#1a2af0"/>
<circle cx="435" cy="637.9" r="1.4" fill="#e0a040"/>
<circle cx="431.52" cy="632.3" r="1.4" fill="#e0a040"/>
<circle cx="432.97" cy="625.02" r="1.4" fill="#e0a040"/>
<circle cx="432.37" cy="623.9" r="1.4" fill="#e0a040"/>
<circle cx="445.13" cy="646.3" r="1.4" fill="#86e030"/>
<circle cx="442.19" cy="643.5" r="1.4" fill="#86e030"/>
<circle cx="444.91" cy="639.58" r="1.4" fill="#86e030"/>
<circle cx="442.73" cy="635.66" r="1.4" fill="#86e030"/>
<text x="375" y="654.2" font-size="7" text-anchor="end" transform="rotate(-45 375 654.2)" >EC</text>
<text x="385.2" y="654.2" font-size="7" text-anchor="end" transform="rotate(-45 385.2 654.2)" >ThyMC</text>
<text x="395.7" y="654.2" font-size="7" text-anchor="end" transform="rotate(-45 395.7 654.2)" >vSMC</text>
<text x="405.9" y="654.2" font-size="7" text-anchor="end" transform="rotate(-45 405.9 654.2)" >PC</text>
<text x="416" y="654.2" font-size="7" text-anchor="end" transform="rotate(-45 416 654.2)" >Lrrn4<tspan font-size="4.2" dy="-2.2">+</tspan></text>
<text x="426.2" y="654.2" font-size="7" text-anchor="end" transform="rotate(-45 426.2 654.2)" >cTEC/mTECi</text>
<text x="436.8" y="654.2" font-size="7" text-anchor="end" transform="rotate(-45 436.8 654.2)" >mTECm</text>
<text x="446.8" y="654.2" font-size="7" text-anchor="end" transform="rotate(-45 446.8 654.2)" >Tuft cells</text>
<path d="M371.3 631.9 L371.3 603 L381.7 603 L381.7 605" fill="none" stroke="#7a7a7a" stroke-width="0.65" />
<polygon points="377.4,597.95 377.99,599.24 379.4,599.4 378.35,600.36 378.63,601.75 377.4,601.05 376.17,601.75 376.45,600.36 375.4,599.4 376.81,599.24" fill="#151515" stroke="none" stroke-width="0" />
<path d="M382.5 605 L382.5 603 L392.2 603 L392.2 619" fill="none" stroke="#7a7a7a" stroke-width="0.65" />
<polygon points="386.5,597.95 387.09,599.24 388.5,599.4 387.45,600.36 387.73,601.75 386.5,601.05 385.27,601.75 385.55,600.36 384.5,599.4 385.91,599.24" fill="#151515" stroke="none" stroke-width="0" />
<polygon points="390.5,597.95 391.09,599.24 392.5,599.4 391.45,600.36 391.73,601.75 390.5,601.05 389.27,601.75 389.55,600.36 388.5,599.4 389.91,599.24" fill="#151515" stroke="none" stroke-width="0" />
<path d="M382.5 595 L382.5 595 L422.7 595 L422.7 635" fill="none" stroke="#7a7a7a" stroke-width="0.65" />
<polygon points="402.38,589.95 402.96,591.24 404.37,591.4 403.33,592.36 403.61,593.75 402.38,593.05 401.14,593.75 401.42,592.36 400.38,591.4 401.79,591.24" fill="#151515" stroke="none" stroke-width="0" />
<polygon points="406.53,589.95 407.11,591.24 408.52,591.4 407.48,592.36 407.76,593.75 406.53,593.05 405.29,593.75 405.57,592.36 404.53,591.4 405.94,591.24" fill="#151515" stroke="none" stroke-width="0" />
<path d="M382.5 588 L382.5 588 L443.3 588 L443.3 635" fill="none" stroke="#7a7a7a" stroke-width="0.65" />
<polygon points="414.4,582.75 414.99,584.04 416.4,584.2 415.35,585.16 415.63,586.55 414.4,585.85 413.17,586.55 413.45,585.16 412.4,584.2 413.81,584.04" fill="#151515" stroke="none" stroke-width="0" />
<rect x="478.35" y="611.18" width="5.9" height="34.32" fill="#fff" stroke="#18e2f2" stroke-width="0.9" />
<line x1="481.3" y1="613.47" x2="481.3" y2="608.89" stroke="#444" stroke-width="0.6" />
<line x1="479.9" y1="608.89" x2="482.7" y2="608.89" stroke="#444" stroke-width="0.6" />
<line x1="479.9" y1="613.47" x2="482.7" y2="613.47" stroke="#444" stroke-width="0.6" />
<line x1="481.3" y1="645.5" x2="481.3" y2="647.5" stroke="#888" stroke-width="0.5" />
<rect x="488.55" y="622.05" width="5.9" height="23.45" fill="#fff" stroke="#a446f2" stroke-width="0.9" />
<line x1="491.5" y1="626.05" x2="491.5" y2="618.04" stroke="#444" stroke-width="0.6" />
<line x1="490.1" y1="618.04" x2="492.9" y2="618.04" stroke="#444" stroke-width="0.6" />
<line x1="490.1" y1="626.05" x2="492.9" y2="626.05" stroke="#444" stroke-width="0.6" />
<line x1="491.5" y1="645.5" x2="491.5" y2="647.5" stroke="#888" stroke-width="0.5" />
<rect x="499.25" y="640.35" width="5.9" height="5.15" fill="#fff" stroke="#a01a10" stroke-width="0.9" />
<line x1="502.2" y1="643.78" x2="502.2" y2="636.92" stroke="#444" stroke-width="0.6" />
<line x1="500.8" y1="636.92" x2="503.6" y2="636.92" stroke="#444" stroke-width="0.6" />
<line x1="500.8" y1="643.78" x2="503.6" y2="643.78" stroke="#444" stroke-width="0.6" />
<line x1="502.2" y1="645.5" x2="502.2" y2="647.5" stroke="#888" stroke-width="0.5" />
<rect x="509.55" y="636.35" width="5.9" height="9.15" fill="#fff" stroke="#f0a020" stroke-width="0.9" />
<line x1="512.5" y1="645.5" x2="512.5" y2="627.2" stroke="#444" stroke-width="0.6" />
<line x1="511.1" y1="627.2" x2="513.9" y2="627.2" stroke="#444" stroke-width="0.6" />
<line x1="511.1" y1="645.5" x2="513.9" y2="645.5" stroke="#444" stroke-width="0.6" />
<line x1="512.5" y1="645.5" x2="512.5" y2="647.5" stroke="#888" stroke-width="0.5" />
<rect x="519.95" y="640.92" width="5.9" height="4.58" fill="#fff" stroke="#f0308a" stroke-width="0.9" />
<line x1="522.9" y1="644.36" x2="522.9" y2="637.49" stroke="#444" stroke-width="0.6" />
<line x1="521.5" y1="637.49" x2="524.3" y2="637.49" stroke="#444" stroke-width="0.6" />
<line x1="521.5" y1="644.36" x2="524.3" y2="644.36" stroke="#444" stroke-width="0.6" />
<line x1="522.9" y1="645.5" x2="522.9" y2="647.5" stroke="#888" stroke-width="0.5" />
<rect x="530.45" y="626.05" width="5.9" height="19.45" fill="#fff" stroke="#1a2af0" stroke-width="0.9" />
<line x1="533.4" y1="632.92" x2="533.4" y2="619.19" stroke="#444" stroke-width="0.6" />
<line x1="532" y1="619.19" x2="534.8" y2="619.19" stroke="#444" stroke-width="0.6" />
<line x1="532" y1="632.92" x2="534.8" y2="632.92" stroke="#444" stroke-width="0.6" />
<line x1="533.4" y1="645.5" x2="533.4" y2="647.5" stroke="#888" stroke-width="0.5" />
<rect x="540.85" y="614.04" width="5.9" height="31.46" fill="#fff" stroke="#e0a040" stroke-width="0.9" />
<line x1="543.8" y1="619.19" x2="543.8" y2="608.89" stroke="#444" stroke-width="0.6" />
<line x1="542.4" y1="608.89" x2="545.2" y2="608.89" stroke="#444" stroke-width="0.6" />
<line x1="542.4" y1="619.19" x2="545.2" y2="619.19" stroke="#444" stroke-width="0.6" />
<line x1="543.8" y1="645.5" x2="543.8" y2="647.5" stroke="#888" stroke-width="0.5" />
<rect x="551.35" y="642.07" width="5.9" height="3.43" fill="#fff" stroke="#86e030" stroke-width="0.9" />
<line x1="554.3" y1="643.21" x2="554.3" y2="640.92" stroke="#444" stroke-width="0.6" />
<line x1="552.9" y1="640.92" x2="555.7" y2="640.92" stroke="#444" stroke-width="0.6" />
<line x1="552.9" y1="643.21" x2="555.7" y2="643.21" stroke="#444" stroke-width="0.6" />
<line x1="554.3" y1="645.5" x2="554.3" y2="647.5" stroke="#888" stroke-width="0.5" />
<line x1="474.4" y1="588.1" x2="474.4" y2="645.5" stroke="#555" stroke-width="0.7" />
<line x1="474.1" y1="645.5" x2="561" y2="645.5" stroke="#555" stroke-width="0.7" />
<line x1="472.2" y1="645.5" x2="474.4" y2="645.5" stroke="#555" stroke-width="0.6" />
<text x="469.5" y="648" font-size="7" text-anchor="end" >0</text>
<line x1="472.2" y1="634.06" x2="474.4" y2="634.06" stroke="#555" stroke-width="0.6" />
<text x="469.5" y="636.56" font-size="7" text-anchor="end" >1</text>
<line x1="472.2" y1="622.62" x2="474.4" y2="622.62" stroke="#555" stroke-width="0.6" />
<text x="469.5" y="625.12" font-size="7" text-anchor="end" >2</text>
<line x1="472.2" y1="611.18" x2="474.4" y2="611.18" stroke="#555" stroke-width="0.6" />
<text x="469.5" y="613.68" font-size="7" text-anchor="end" >3</text>
<line x1="472.2" y1="599.74" x2="474.4" y2="599.74" stroke="#555" stroke-width="0.6" />
<text x="469.5" y="602.24" font-size="7" text-anchor="end" >4</text>
<line x1="472.2" y1="588.3" x2="474.4" y2="588.3" stroke="#555" stroke-width="0.6" />
<text x="469.5" y="590.8" font-size="7" text-anchor="end" >5</text>
<text x="461.8" y="652.6" font-size="8.2" textLength="71.8" lengthAdjust="spacingAndGlyphs" transform="rotate(-90 461.8 652.6)" >Normalized counts</text>
<circle cx="481.54" cy="618.04" r="1.4" fill="#18e2f2"/>
<circle cx="482.84" cy="612.32" r="1.4" fill="#18e2f2"/>
<circle cx="482.7" cy="611.18" r="1.4" fill="#18e2f2"/>
<circle cx="481.67" cy="607.75" r="1.4" fill="#18e2f2"/>
<circle cx="493.64" cy="627.2" r="1.4" fill="#a446f2"/>
<circle cx="493.26" cy="624.91" r="1.4" fill="#a446f2"/>
<circle cx="491.53" cy="622.62" r="1.4" fill="#a446f2"/>
<circle cx="492.87" cy="608.89" r="1.4" fill="#a446f2"/>
<circle cx="502.47" cy="645.5" r="1.4" fill="#a01a10"/>
<circle cx="504.4" cy="645.5" r="1.4" fill="#a01a10"/>
<circle cx="501.49" cy="634.06" r="1.4" fill="#a01a10"/>
<circle cx="502.99" cy="632.92" r="1.4" fill="#a01a10"/>
<circle cx="511.22" cy="645.5" r="1.4" fill="#f0a020"/>
<circle cx="511.52" cy="645.5" r="1.4" fill="#f0a020"/>
<circle cx="511.12" cy="645.5" r="1.4" fill="#f0a020"/>
<circle cx="510.35" cy="608.89" r="1.4" fill="#f0a020"/>
<circle cx="523.86" cy="645.5" r="1.4" fill="#f0308a"/>
<circle cx="525.11" cy="645.5" r="1.4" fill="#f0308a"/>
<circle cx="524.73" cy="642.07" r="1.4" fill="#f0308a"/>
<circle cx="524.95" cy="630.63" r="1.4" fill="#f0308a"/>
<circle cx="533.78" cy="640.92" r="1.4" fill="#1a2af0"/>
<circle cx="535.54" cy="628.34" r="1.4" fill="#1a2af0"/>
<circle cx="531.33" cy="624.91" r="1.4" fill="#1a2af0"/>
<circle cx="534.04" cy="607.75" r="1.4" fill="#1a2af0"/>
<circle cx="541.78" cy="621.48" r="1.4" fill="#e0a040"/>
<circle cx="544.13" cy="615.76" r="1.4" fill="#e0a040"/>
<circle cx="545.58" cy="612.32" r="1.4" fill="#e0a040"/>
<circle cx="544.86" cy="599.74" r="1.4" fill="#e0a040"/>
<circle cx="552.85" cy="644.36" r="1.4" fill="#86e030"/>
<circle cx="552.97" cy="643.21" r="1.4" fill="#86e030"/>
<circle cx="553.22" cy="641.5" r="1.4" fill="#86e030"/>
<circle cx="552.44" cy="639.78" r="1.4" fill="#86e030"/>
<text x="484.8" y="654.2" font-size="7" text-anchor="end" transform="rotate(-45 484.8 654.2)" >EC</text>
<text x="495" y="654.2" font-size="7" text-anchor="end" transform="rotate(-45 495 654.2)" >ThyMC</text>
<text x="505.7" y="654.2" font-size="7" text-anchor="end" transform="rotate(-45 505.7 654.2)" >vSMC</text>
<text x="516" y="654.2" font-size="7" text-anchor="end" transform="rotate(-45 516 654.2)" >PC</text>
<text x="526.4" y="654.2" font-size="7" text-anchor="end" transform="rotate(-45 526.4 654.2)" >Lrrn4<tspan font-size="4.2" dy="-2.2">+</tspan></text>
<text x="536.9" y="654.2" font-size="7" text-anchor="end" transform="rotate(-45 536.9 654.2)" >cTEC/mTECi</text>
<text x="547.3" y="654.2" font-size="7" text-anchor="end" transform="rotate(-45 547.3 654.2)" >mTECm</text>
<text x="557.8" y="654.2" font-size="7" text-anchor="end" transform="rotate(-45 557.8 654.2)" >Tuft cells</text>
</svg></body></html>
